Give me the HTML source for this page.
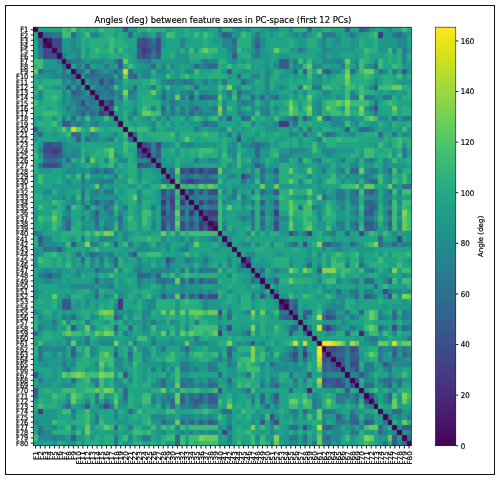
<!DOCTYPE html>
<html><head><meta charset="utf-8"><title>Angles (deg) between feature axes in PC-space (first 12 PCs)</title>
<style>
html,body{margin:0;padding:0;background:#fff;}
svg{display:block;font-family:"DejaVu Sans","Liberation Sans",sans-serif;}
.t{font-size:7.08px;fill:#000;stroke:#000;stroke-width:0.18px;}
.s{font-size:6.62px;}
.ti{font-size:8.45px;fill:#000;stroke:#000;stroke-width:0.15px;}
</style></head><body>
<svg width="500" height="480" viewBox="0 0 500 480">
<rect x="0" y="0" width="500" height="480" fill="#fff"/>
<rect x="5.5" y="5.5" width="489" height="469" fill="none" stroke="#111" stroke-width="1"/>
<text class="ti" transform="translate(222.9 22.6) scale(1 1.106)" text-anchor="middle">Angles (deg) between feature axes in PC-space (first 12 PCs)</text>
<rect x="33.25" y="27.15" width="378.15" height="418.60" fill="#1fa187"/>
<defs><clipPath id="hc"><rect x="33.25" y="27.15" width="378.15" height="418.60"/></clipPath><filter id="bl" x="-2%" y="-2%" width="104%" height="104%" color-interpolation-filters="sRGB"><feOffset in="SourceGraphic" dx="1" dy="0" result="a"/><feOffset in="SourceGraphic" dx="-1" dy="0" result="b"/><feComposite operator="arithmetic" in="a" in2="b" k1="0" k2="0.5" k3="0.5" k4="0" result="c"/><feComposite operator="arithmetic" in="SourceGraphic" in2="c" k1="0" k2="0.760" k3="0.240" k4="0" result="h"/><feOffset in="h" dx="0" dy="1" result="d"/><feOffset in="h" dx="0" dy="-1" result="e"/><feComposite operator="arithmetic" in="d" in2="e" k1="0" k2="0.5" k3="0.5" k4="0" result="f"/><feComposite operator="arithmetic" in="h" in2="f" k1="0" k2="0.760" k3="0.240" k4="0"/></filter></defs>
<g clip-path="url(#hc)"><g shape-rendering="crispEdges" filter="url(#bl)">
<path fill="#440154" d="M30.25 24.15H37.98V32.38H30.25zM37.98 32.38H42.7V37.61H37.98zM42.7 37.61H47.43V42.85H42.7zM47.43 42.85H52.16V48.08H47.43zM52.16 48.08H56.88V53.31H52.16zM56.88 53.31H61.61V58.55H56.88zM61.61 58.55H66.34V63.78H61.61zM66.34 63.78H71.06V69.01H66.34zM71.06 69.01H75.79V74.24H71.06zM75.79 74.24H80.52V79.47H75.79zM80.52 79.47H85.25V84.71H80.52zM85.25 84.71H89.97V89.94H85.25zM89.97 89.94H94.7V95.17H89.97zM94.7 95.17H99.43V100.41H94.7zM99.43 100.41H104.15V105.64H99.43zM104.15 105.64H108.88V110.87H104.15zM108.88 110.87H113.61V116.1H108.88zM113.61 116.1H118.33V121.34H113.61zM118.33 121.34H123.06V126.57H118.33zM123.06 126.57H127.79V131.8H123.06zM127.79 131.8H132.51V137.03H127.79zM132.51 137.03H137.24V142.26H132.51zM137.24 142.26H141.97V147.5H137.24zM141.97 147.5H146.69V152.73H141.97zM146.69 152.73H151.42V157.96H146.69zM151.42 157.96H156.15V163.19H151.42zM156.15 163.19H160.88V168.43H156.15zM160.88 168.43H165.6V173.66H160.88zM165.6 173.66H170.33V178.89H165.6zM170.33 178.89H175.06V184.12H170.33zM175.06 184.12H179.78V189.36H175.06zM179.78 189.36H184.51V194.59H179.78zM184.51 194.59H189.24V199.82H184.51zM189.24 199.82H193.96V205.06H189.24zM193.96 205.06H198.69V210.29H193.96zM198.69 210.29H203.42V215.52H198.69zM203.42 215.52H208.14V220.75H203.42zM208.14 220.75H212.87V225.99H208.14zM212.87 225.99H217.6V231.22H212.87zM217.6 231.22H222.32V236.45H217.6zM222.32 236.45H227.05V241.68H222.32zM227.05 241.68H231.78V246.91H227.05zM231.78 246.91H236.51V252.15H231.78zM236.51 252.15H241.23V257.38H236.51zM241.23 257.38H245.96V262.61H241.23zM245.96 262.61H250.69V267.84H245.96zM250.69 267.84H255.41V273.08H250.69zM255.41 273.08H260.14V278.31H255.41zM260.14 278.31H264.87V283.54H260.14zM264.87 283.54H269.59V288.77H264.87zM269.59 288.77H274.32V294.01H269.59zM274.32 294.01H279.05V299.24H274.32zM279.05 299.24H283.77V304.47H279.05zM283.77 304.47H288.5V309.7H283.77zM288.5 309.7H293.23V314.94H288.5zM293.23 314.94H297.95V320.17H293.23zM297.95 320.17H302.68V325.4H297.95zM302.68 325.4H307.41V330.63H302.68zM307.41 330.63H312.14V335.87H307.41zM312.14 335.87H316.86V341.1H312.14zM316.86 341.1H321.59V346.33H316.86zM321.59 346.33H326.32V351.56H321.59zM326.32 351.56H331.04V356.8H326.32zM331.04 356.8H335.77V362.03H331.04zM335.77 362.03H340.5V367.26H335.77zM340.5 367.26H345.22V372.49H340.5zM345.22 372.49H349.95V377.73H345.22zM349.95 377.73H354.68V382.96H349.95zM354.68 382.96H359.4V388.19H354.68zM359.4 388.19H364.13V393.42H359.4zM364.13 393.42H368.86V398.66H364.13zM368.86 398.66H373.58V403.89H368.86zM373.58 403.89H378.31V409.12H373.58zM378.31 409.12H383.04V414.35H378.31zM383.04 414.35H387.77V419.59H383.04zM387.77 419.59H392.49V424.82H387.77zM392.49 424.82H397.22V430.05H392.49zM397.22 430.05H401.95V435.28H397.22zM401.95 435.28H406.67V440.52H401.95zM406.67 440.52H414.4V448.75H406.67z"/>
<path fill="#20a486" d="M37.98 24.15H61.61V32.38H37.98zM75.79 24.15H80.52V32.38H75.79zM85.25 24.15H89.97V32.38H85.25zM94.7 24.15H99.43V32.38H94.7zM113.61 24.15H123.06V32.38H113.61zM170.33 24.15H184.51V32.38H170.33zM189.24 24.15H198.69V32.38H189.24zM208.14 24.15H217.6V32.38H208.14zM250.69 24.15H260.14V32.38H250.69zM279.05 24.15H288.5V32.38H279.05zM312.14 24.15H316.86V32.38H312.14zM331.04 24.15H345.22V32.38H331.04zM349.95 24.15H359.4V32.38H349.95zM373.58 24.15H383.04V32.38H373.58zM392.49 24.15H401.95V32.38H392.49zM406.67 24.15H414.4V32.38H406.67zM30.25 32.38H37.98V37.61H30.25zM80.52 32.38H85.25V37.61H80.52zM99.43 32.38H104.15V37.61H99.43zM123.06 32.38H127.79V37.61H123.06zM132.51 32.38H137.24V37.61H132.51zM151.42 32.38H156.15V37.61H151.42zM175.06 32.38H184.51V37.61H175.06zM189.24 32.38H193.96V37.61H189.24zM198.69 32.38H203.42V37.61H198.69zM212.87 32.38H217.6V37.61H212.87zM264.87 32.38H269.59V37.61H264.87zM274.32 32.38H279.05V37.61H274.32zM283.77 32.38H288.5V37.61H283.77zM312.14 32.38H316.86V37.61H312.14zM340.5 32.38H345.22V37.61H340.5zM359.4 32.38H368.86V37.61H359.4zM30.25 37.61H37.98V42.85H30.25zM85.25 37.61H89.97V42.85H85.25zM123.06 37.61H137.24V42.85H123.06zM165.6 37.61H179.78V42.85H165.6zM189.24 37.61H203.42V42.85H189.24zM208.14 37.61H212.87V42.85H208.14zM217.6 37.61H222.32V42.85H217.6zM264.87 37.61H288.5V42.85H264.87zM293.23 37.61H297.95V42.85H293.23zM326.32 37.61H331.04V42.85H326.32zM340.5 37.61H349.95V42.85H340.5zM364.13 37.61H373.58V42.85H364.13zM406.67 37.61H414.4V42.85H406.67zM30.25 42.85H37.98V48.08H30.25zM85.25 42.85H89.97V48.08H85.25zM104.15 42.85H108.88V48.08H104.15zM127.79 42.85H137.24V48.08H127.79zM165.6 42.85H179.78V48.08H165.6zM184.51 42.85H203.42V48.08H184.51zM208.14 42.85H222.32V48.08H208.14zM264.87 42.85H288.5V48.08H264.87zM293.23 42.85H297.95V48.08H293.23zM326.32 42.85H331.04V48.08H326.32zM340.5 42.85H349.95V48.08H340.5zM364.13 42.85H373.58V48.08H364.13zM406.67 42.85H414.4V48.08H406.67zM30.25 48.08H37.98V53.31H30.25zM123.06 48.08H127.79V53.31H123.06zM132.51 48.08H137.24V53.31H132.51zM160.88 48.08H175.06V53.31H160.88zM217.6 48.08H227.05V53.31H217.6zM241.23 48.08H250.69V53.31H241.23zM264.87 48.08H274.32V53.31H264.87zM307.41 48.08H321.59V53.31H307.41zM354.68 48.08H364.13V53.31H354.68zM30.25 53.31H37.98V58.55H30.25zM99.43 53.31H108.88V58.55H99.43zM118.33 53.31H123.06V58.55H118.33zM127.79 53.31H132.51V58.55H127.79zM160.88 53.31H170.33V58.55H160.88zM212.87 53.31H227.05V58.55H212.87zM236.51 53.31H241.23V58.55H236.51zM269.59 53.31H279.05V58.55H269.59zM288.5 53.31H316.86V58.55H288.5zM326.32 53.31H331.04V58.55H326.32zM340.5 53.31H354.68V58.55H340.5zM359.4 53.31H364.13V58.55H359.4zM368.86 53.31H387.77V58.55H368.86zM392.49 53.31H397.22V58.55H392.49zM127.79 58.55H132.51V63.78H127.79zM189.24 58.55H198.69V63.78H189.24zM236.51 58.55H241.23V63.78H236.51zM245.96 58.55H250.69V63.78H245.96zM255.41 58.55H264.87V63.78H255.41zM269.59 58.55H274.32V63.78H269.59zM316.86 58.55H321.59V63.78H316.86zM368.86 58.55H373.58V63.78H368.86zM383.04 58.55H387.77V63.78H383.04zM392.49 58.55H397.22V63.78H392.49zM406.67 58.55H414.4V63.78H406.67zM71.06 63.78H75.79V69.01H71.06zM89.97 63.78H94.7V69.01H89.97zM113.61 63.78H118.33V69.01H113.61zM123.06 63.78H127.79V69.01H123.06zM132.51 63.78H137.24V69.01H132.51zM156.15 63.78H160.88V69.01H156.15zM179.78 63.78H189.24V69.01H179.78zM222.32 63.78H227.05V69.01H222.32zM231.78 63.78H236.51V69.01H231.78zM255.41 63.78H260.14V69.01H255.41zM269.59 63.78H274.32V69.01H269.59zM288.5 63.78H293.23V69.01H288.5zM321.59 63.78H331.04V69.01H321.59zM349.95 63.78H354.68V69.01H349.95zM383.04 63.78H392.49V69.01H383.04zM66.34 69.01H71.06V74.24H66.34zM85.25 69.01H89.97V74.24H85.25zM170.33 69.01H175.06V74.24H170.33zM179.78 69.01H184.51V74.24H179.78zM198.69 69.01H212.87V74.24H198.69zM231.78 69.01H236.51V74.24H231.78zM250.69 69.01H255.41V74.24H250.69zM260.14 69.01H264.87V74.24H260.14zM279.05 69.01H283.77V74.24H279.05zM312.14 69.01H316.86V74.24H312.14zM340.5 69.01H345.22V74.24H340.5zM373.58 69.01H378.31V74.24H373.58zM30.25 74.24H37.98V79.47H30.25zM113.61 74.24H118.33V79.47H113.61zM151.42 74.24H156.15V79.47H151.42zM170.33 74.24H175.06V79.47H170.33zM189.24 74.24H193.96V79.47H189.24zM198.69 74.24H208.14V79.47H198.69zM231.78 74.24H236.51V79.47H231.78zM241.23 74.24H250.69V79.47H241.23zM260.14 74.24H264.87V79.47H260.14zM269.59 74.24H274.32V79.47H269.59zM288.5 74.24H293.23V79.47H288.5zM297.95 74.24H302.68V79.47H297.95zM331.04 74.24H335.77V79.47H331.04zM349.95 74.24H354.68V79.47H349.95zM378.31 74.24H383.04V79.47H378.31zM392.49 74.24H397.22V79.47H392.49zM37.98 79.47H42.7V84.71H37.98zM127.79 79.47H141.97V84.71H127.79zM156.15 79.47H160.88V84.71H156.15zM217.6 79.47H222.32V84.71H217.6zM227.05 79.47H241.23V84.71H227.05zM260.14 79.47H264.87V84.71H260.14zM274.32 79.47H288.5V84.71H274.32zM293.23 79.47H297.95V84.71H293.23zM302.68 79.47H307.41V84.71H302.68zM321.59 79.47H331.04V84.71H321.59zM368.86 79.47H373.58V84.71H368.86zM378.31 79.47H383.04V84.71H378.31zM392.49 79.47H397.22V84.71H392.49zM30.25 84.71H37.98V89.94H30.25zM42.7 84.71H52.16V89.94H42.7zM71.06 84.71H75.79V89.94H71.06zM123.06 84.71H127.79V89.94H123.06zM137.24 84.71H146.69V89.94H137.24zM179.78 84.71H184.51V89.94H179.78zM189.24 84.71H193.96V89.94H189.24zM198.69 84.71H208.14V89.94H198.69zM255.41 84.71H264.87V89.94H255.41zM364.13 84.71H368.86V89.94H364.13zM66.34 89.94H71.06V95.17H66.34zM137.24 89.94H146.69V95.17H137.24zM156.15 89.94H160.88V95.17H156.15zM175.06 89.94H179.78V95.17H175.06zM255.41 89.94H260.14V95.17H255.41zM279.05 89.94H293.23V95.17H279.05zM297.95 89.94H302.68V95.17H297.95zM316.86 89.94H321.59V95.17H316.86zM331.04 89.94H345.22V95.17H331.04zM354.68 89.94H359.4V95.17H354.68zM373.58 89.94H378.31V95.17H373.58zM383.04 89.94H387.77V95.17H383.04zM397.22 89.94H401.95V95.17H397.22zM30.25 95.17H37.98V100.41H30.25zM137.24 95.17H141.97V100.41H137.24zM151.42 95.17H156.15V100.41H151.42zM222.32 95.17H227.05V100.41H222.32zM241.23 95.17H250.69V100.41H241.23zM302.68 95.17H307.41V100.41H302.68zM312.14 95.17H316.86V100.41H312.14zM331.04 95.17H335.77V100.41H331.04zM37.98 100.41H42.7V105.64H37.98zM56.88 100.41H61.61V105.64H56.88zM127.79 100.41H132.51V105.64H127.79zM137.24 100.41H141.97V105.64H137.24zM208.14 100.41H212.87V105.64H208.14zM227.05 100.41H236.51V105.64H227.05zM274.32 100.41H283.77V105.64H274.32zM297.95 100.41H302.68V105.64H297.95zM368.86 100.41H373.58V105.64H368.86zM378.31 100.41H383.04V105.64H378.31zM397.22 100.41H414.4V105.64H397.22zM47.43 105.64H52.16V110.87H47.43zM56.88 105.64H61.61V110.87H56.88zM123.06 105.64H132.51V110.87H123.06zM137.24 105.64H141.97V110.87H137.24zM165.6 105.64H170.33V110.87H165.6zM175.06 105.64H179.78V110.87H175.06zM231.78 105.64H236.51V110.87H231.78zM241.23 105.64H245.96V110.87H241.23zM255.41 105.64H260.14V110.87H255.41zM269.59 105.64H274.32V110.87H269.59zM279.05 105.64H288.5V110.87H279.05zM349.95 105.64H359.4V110.87H349.95zM378.31 105.64H392.49V110.87H378.31zM397.22 105.64H401.95V110.87H397.22zM137.24 110.87H141.97V116.1H137.24zM227.05 110.87H236.51V116.1H227.05zM269.59 110.87H274.32V116.1H269.59zM364.13 110.87H368.86V116.1H364.13zM378.31 110.87H392.49V116.1H378.31zM397.22 110.87H401.95V116.1H397.22zM30.25 116.1H37.98V121.34H30.25zM66.34 116.1H71.06V121.34H66.34zM75.79 116.1H80.52V121.34H75.79zM137.24 116.1H141.97V121.34H137.24zM160.88 116.1H165.6V121.34H160.88zM170.33 116.1H179.78V121.34H170.33zM189.24 116.1H193.96V121.34H189.24zM231.78 116.1H241.23V121.34H231.78zM255.41 116.1H260.14V121.34H255.41zM264.87 116.1H269.59V121.34H264.87zM297.95 116.1H302.68V121.34H297.95zM312.14 116.1H316.86V121.34H312.14zM387.77 116.1H392.49V121.34H387.77zM30.25 121.34H37.98V126.57H30.25zM56.88 121.34H61.61V126.57H56.88zM127.79 121.34H132.51V126.57H127.79zM137.24 121.34H146.69V126.57H137.24zM175.06 121.34H179.78V126.57H175.06zM184.51 121.34H189.24V126.57H184.51zM217.6 121.34H236.51V126.57H217.6zM255.41 121.34H260.14V126.57H255.41zM302.68 121.34H307.41V126.57H302.68zM312.14 121.34H331.04V126.57H312.14zM364.13 121.34H368.86V126.57H364.13zM383.04 121.34H387.77V126.57H383.04zM397.22 121.34H406.67V126.57H397.22zM37.98 126.57H47.43V131.8H37.98zM52.16 126.57H56.88V131.8H52.16zM66.34 126.57H71.06V131.8H66.34zM85.25 126.57H89.97V131.8H85.25zM104.15 126.57H108.88V131.8H104.15zM156.15 126.57H165.6V131.8H156.15zM175.06 126.57H193.96V131.8H175.06zM203.42 126.57H208.14V131.8H203.42zM236.51 126.57H241.23V131.8H236.51zM245.96 126.57H250.69V131.8H245.96zM255.41 126.57H264.87V131.8H255.41zM279.05 126.57H288.5V131.8H279.05zM312.14 126.57H316.86V131.8H312.14zM331.04 126.57H340.5V131.8H331.04zM378.31 126.57H383.04V131.8H378.31zM392.49 126.57H397.22V131.8H392.49zM42.7 131.8H52.16V137.03H42.7zM56.88 131.8H66.34V137.03H56.88zM80.52 131.8H85.25V137.03H80.52zM99.43 131.8H108.88V137.03H99.43zM118.33 131.8H123.06V137.03H118.33zM141.97 131.8H146.69V137.03H141.97zM222.32 131.8H227.05V137.03H222.32zM231.78 131.8H236.51V137.03H231.78zM241.23 131.8H255.41V137.03H241.23zM264.87 131.8H274.32V137.03H264.87zM279.05 131.8H288.5V137.03H279.05zM297.95 131.8H302.68V137.03H297.95zM340.5 131.8H345.22V137.03H340.5zM354.68 131.8H364.13V137.03H354.68zM383.04 131.8H392.49V137.03H383.04zM397.22 131.8H401.95V137.03H397.22zM37.98 137.03H56.88V142.26H37.98zM66.34 137.03H71.06V142.26H66.34zM80.52 137.03H85.25V142.26H80.52zM141.97 137.03H156.15V142.26H141.97zM193.96 137.03H208.14V142.26H193.96zM217.6 137.03H222.32V142.26H217.6zM227.05 137.03H231.78V142.26H227.05zM241.23 137.03H245.96V142.26H241.23zM255.41 137.03H269.59V142.26H255.41zM274.32 137.03H279.05V142.26H274.32zM283.77 137.03H293.23V142.26H283.77zM307.41 137.03H312.14V142.26H307.41zM359.4 137.03H378.31V142.26H359.4zM387.77 137.03H392.49V142.26H387.77zM80.52 142.26H123.06V147.5H80.52zM217.6 142.26H222.32V147.5H217.6zM269.59 142.26H274.32V147.5H269.59zM288.5 142.26H293.23V147.5H288.5zM302.68 142.26H312.14V147.5H302.68zM335.77 142.26H373.58V147.5H335.77zM383.04 142.26H387.77V147.5H383.04zM85.25 147.5H94.7V152.73H85.25zM118.33 147.5H123.06V152.73H118.33zM127.79 147.5H137.24V152.73H127.79zM160.88 147.5H170.33V152.73H160.88zM184.51 147.5H189.24V152.73H184.51zM241.23 147.5H245.96V152.73H241.23zM316.86 147.5H321.59V152.73H316.86zM359.4 147.5H364.13V152.73H359.4zM378.31 147.5H383.04V152.73H378.31zM406.67 147.5H414.4V152.73H406.67zM132.51 152.73H137.24V157.96H132.51zM160.88 152.73H175.06V157.96H160.88zM184.51 152.73H189.24V157.96H184.51zM193.96 152.73H198.69V157.96H193.96zM312.14 152.73H321.59V157.96H312.14zM340.5 152.73H349.95V157.96H340.5zM373.58 152.73H378.31V157.96H373.58zM406.67 152.73H414.4V157.96H406.67zM37.98 157.96H42.7V163.19H37.98zM75.79 157.96H80.52V163.19H75.79zM94.7 157.96H99.43V163.19H94.7zM132.51 157.96H137.24V163.19H132.51zM165.6 157.96H170.33V163.19H165.6zM179.78 157.96H193.96V163.19H179.78zM217.6 157.96H222.32V163.19H217.6zM241.23 157.96H245.96V163.19H241.23zM269.59 157.96H274.32V163.19H269.59zM293.23 157.96H297.95V163.19H293.23zM331.04 157.96H335.77V163.19H331.04zM345.22 157.96H354.68V163.19H345.22zM397.22 157.96H406.67V163.19H397.22zM66.34 163.19H71.06V168.43H66.34zM80.52 163.19H85.25V168.43H80.52zM89.97 163.19H94.7V168.43H89.97zM123.06 163.19H127.79V168.43H123.06zM193.96 163.19H222.32V168.43H193.96zM264.87 163.19H269.59V168.43H264.87zM288.5 163.19H297.95V168.43H288.5zM307.41 163.19H316.86V168.43H307.41zM340.5 163.19H349.95V168.43H340.5zM378.31 163.19H383.04V168.43H378.31zM406.67 163.19H414.4V168.43H406.67zM52.16 168.43H61.61V173.66H52.16zM113.61 168.43H118.33V173.66H113.61zM123.06 168.43H127.79V173.66H123.06zM141.97 168.43H151.42V173.66H141.97zM231.78 168.43H241.23V173.66H231.78zM245.96 168.43H250.69V173.66H245.96zM293.23 168.43H297.95V173.66H293.23zM302.68 168.43H307.41V173.66H302.68zM312.14 168.43H316.86V173.66H312.14zM326.32 168.43H335.77V173.66H326.32zM378.31 168.43H383.04V173.66H378.31zM42.7 173.66H61.61V178.89H42.7zM104.15 173.66H108.88V178.89H104.15zM141.97 173.66H156.15V178.89H141.97zM217.6 173.66H227.05V178.89H217.6zM236.51 173.66H241.23V178.89H236.51zM255.41 173.66H260.14V178.89H255.41zM264.87 173.66H269.59V178.89H264.87zM288.5 173.66H293.23V178.89H288.5zM302.68 173.66H307.41V178.89H302.68zM312.14 173.66H316.86V178.89H312.14zM321.59 173.66H331.04V178.89H321.59zM340.5 173.66H345.22V178.89H340.5zM373.58 173.66H378.31V178.89H373.58zM397.22 173.66H401.95V178.89H397.22zM30.25 178.89H37.98V184.12H30.25zM42.7 178.89H56.88V184.12H42.7zM71.06 178.89H80.52V184.12H71.06zM113.61 178.89H118.33V184.12H113.61zM146.69 178.89H151.42V184.12H146.69zM227.05 178.89H241.23V184.12H227.05zM321.59 178.89H326.32V184.12H321.59zM335.77 178.89H340.5V184.12H335.77zM345.22 178.89H349.95V184.12H345.22zM397.22 178.89H401.95V184.12H397.22zM406.67 178.89H414.4V184.12H406.67zM30.25 184.12H52.16V189.36H30.25zM89.97 184.12H94.7V189.36H89.97zM104.15 184.12H108.88V189.36H104.15zM113.61 184.12H127.79V189.36H113.61zM227.05 184.12H231.78V189.36H227.05zM250.69 184.12H255.41V189.36H250.69zM293.23 184.12H297.95V189.36H293.23zM312.14 184.12H316.86V189.36H312.14zM321.59 184.12H340.5V189.36H321.59zM373.58 184.12H387.77V189.36H373.58zM30.25 189.36H42.7V194.59H30.25zM66.34 189.36H75.79V194.59H66.34zM85.25 189.36H89.97V194.59H85.25zM123.06 189.36H127.79V194.59H123.06zM151.42 189.36H156.15V194.59H151.42zM227.05 189.36H231.78V194.59H227.05zM236.51 189.36H241.23V194.59H236.51zM245.96 189.36H250.69V194.59H245.96zM312.14 189.36H316.86V194.59H312.14zM326.32 189.36H331.04V194.59H326.32zM378.31 189.36H383.04V194.59H378.31zM47.43 194.59H52.16V199.82H47.43zM66.34 194.59H71.06V199.82H66.34zM118.33 194.59H127.79V199.82H118.33zM141.97 194.59H156.15V199.82H141.97zM222.32 194.59H227.05V199.82H222.32zM288.5 194.59H293.23V199.82H288.5zM378.31 194.59H383.04V199.82H378.31zM392.49 194.59H397.22V199.82H392.49zM401.95 194.59H406.67V199.82H401.95zM30.25 199.82H52.16V205.06H30.25zM61.61 199.82H66.34V205.06H61.61zM75.79 199.82H80.52V205.06H75.79zM85.25 199.82H89.97V205.06H85.25zM113.61 199.82H118.33V205.06H113.61zM123.06 199.82H127.79V205.06H123.06zM151.42 199.82H156.15V205.06H151.42zM231.78 199.82H241.23V205.06H231.78zM312.14 199.82H316.86V205.06H312.14zM331.04 199.82H335.77V205.06H331.04zM345.22 199.82H349.95V205.06H345.22zM378.31 199.82H383.04V205.06H378.31zM30.25 205.06H37.98V210.29H30.25zM42.7 205.06H52.16V210.29H42.7zM61.61 205.06H66.34V210.29H61.61zM132.51 205.06H137.24V210.29H132.51zM146.69 205.06H151.42V210.29H146.69zM156.15 205.06H160.88V210.29H156.15zM222.32 205.06H227.05V210.29H222.32zM231.78 205.06H236.51V210.29H231.78zM321.59 205.06H326.32V210.29H321.59zM331.04 205.06H335.77V210.29H331.04zM345.22 205.06H349.95V210.29H345.22zM37.98 210.29H52.16V215.52H37.98zM71.06 210.29H80.52V215.52H71.06zM85.25 210.29H89.97V215.52H85.25zM132.51 210.29H137.24V215.52H132.51zM156.15 210.29H160.88V215.52H156.15zM227.05 210.29H236.51V215.52H227.05zM279.05 210.29H288.5V215.52H279.05zM312.14 210.29H316.86V215.52H312.14zM321.59 210.29H326.32V215.52H321.59zM345.22 210.29H349.95V215.52H345.22zM71.06 215.52H80.52V220.75H71.06zM85.25 215.52H89.97V220.75H85.25zM123.06 215.52H127.79V220.75H123.06zM132.51 215.52H137.24V220.75H132.51zM156.15 215.52H160.88V220.75H156.15zM227.05 215.52H236.51V220.75H227.05zM264.87 215.52H269.59V220.75H264.87zM293.23 215.52H297.95V220.75H293.23zM345.22 215.52H349.95V220.75H345.22zM359.4 215.52H364.13V220.75H359.4zM30.25 220.75H37.98V225.99H30.25zM42.7 220.75H52.16V225.99H42.7zM71.06 220.75H75.79V225.99H71.06zM99.43 220.75H104.15V225.99H99.43zM156.15 220.75H160.88V225.99H156.15zM227.05 220.75H241.23V225.99H227.05zM245.96 220.75H250.69V225.99H245.96zM264.87 220.75H269.59V225.99H264.87zM293.23 220.75H302.68V225.99H293.23zM312.14 220.75H316.86V225.99H312.14zM331.04 220.75H335.77V225.99H331.04zM345.22 220.75H349.95V225.99H345.22zM30.25 225.99H42.7V231.22H30.25zM47.43 225.99H52.16V231.22H47.43zM56.88 225.99H61.61V231.22H56.88zM156.15 225.99H160.88V231.22H156.15zM236.51 225.99H245.96V231.22H236.51zM293.23 225.99H302.68V231.22H293.23zM312.14 225.99H316.86V231.22H312.14zM345.22 225.99H349.95V231.22H345.22zM378.31 225.99H383.04V231.22H378.31zM42.7 231.22H61.61V236.45H42.7zM80.52 231.22H85.25V236.45H80.52zM118.33 231.22H123.06V236.45H118.33zM132.51 231.22H141.97V236.45H132.51zM151.42 231.22H160.88V236.45H151.42zM165.6 231.22H170.33V236.45H165.6zM222.32 231.22H227.05V236.45H222.32zM236.51 231.22H245.96V236.45H236.51zM312.14 231.22H316.86V236.45H312.14zM335.77 231.22H345.22V236.45H335.77zM349.95 231.22H359.4V236.45H349.95zM387.77 231.22H392.49V236.45H387.77zM397.22 231.22H401.95V236.45H397.22zM52.16 236.45H61.61V241.68H52.16zM66.34 236.45H71.06V241.68H66.34zM94.7 236.45H99.43V241.68H94.7zM118.33 236.45H123.06V241.68H118.33zM127.79 236.45H132.51V241.68H127.79zM165.6 236.45H170.33V241.68H165.6zM184.51 236.45H189.24V241.68H184.51zM193.96 236.45H198.69V241.68H193.96zM217.6 236.45H222.32V241.68H217.6zM231.78 236.45H245.96V241.68H231.78zM255.41 236.45H274.32V241.68H255.41zM279.05 236.45H288.5V241.68H279.05zM293.23 236.45H302.68V241.68H293.23zM307.41 236.45H316.86V241.68H307.41zM321.59 236.45H326.32V241.68H321.59zM335.77 236.45H349.95V241.68H335.77zM354.68 236.45H378.31V241.68H354.68zM383.04 236.45H392.49V241.68H383.04zM401.95 236.45H406.67V241.68H401.95zM80.52 241.68H85.25V246.91H80.52zM99.43 241.68H104.15V246.91H99.43zM108.88 241.68H113.61V246.91H108.88zM118.33 241.68H123.06V246.91H118.33zM132.51 241.68H137.24V246.91H132.51zM170.33 241.68H184.51V246.91H170.33zM198.69 241.68H212.87V246.91H198.69zM231.78 241.68H236.51V246.91H231.78zM260.14 241.68H264.87V246.91H260.14zM297.95 241.68H302.68V246.91H297.95zM66.34 246.91H85.25V252.15H66.34zM99.43 246.91H123.06V252.15H99.43zM127.79 246.91H132.51V252.15H127.79zM160.88 246.91H165.6V252.15H160.88zM170.33 246.91H175.06V252.15H170.33zM189.24 246.91H212.87V252.15H189.24zM222.32 246.91H231.78V252.15H222.32zM236.51 246.91H255.41V252.15H236.51zM264.87 246.91H293.23V252.15H264.87zM297.95 246.91H307.41V252.15H297.95zM312.14 246.91H321.59V252.15H312.14zM326.32 246.91H331.04V252.15H326.32zM349.95 246.91H354.68V252.15H349.95zM373.58 246.91H414.4V252.15H373.58zM56.88 252.15H66.34V257.38H56.88zM80.52 252.15H85.25V257.38H80.52zM113.61 252.15H118.33V257.38H113.61zM123.06 252.15H127.79V257.38H123.06zM160.88 252.15H175.06V257.38H160.88zM179.78 252.15H184.51V257.38H179.78zM189.24 252.15H193.96V257.38H189.24zM208.14 252.15H227.05V257.38H208.14zM231.78 252.15H236.51V257.38H231.78zM241.23 252.15H245.96V257.38H241.23zM255.41 252.15H274.32V257.38H255.41zM283.77 252.15H307.41V257.38H283.77zM326.32 252.15H331.04V257.38H326.32zM345.22 252.15H349.95V257.38H345.22zM364.13 252.15H373.58V257.38H364.13zM52.16 257.38H56.88V262.61H52.16zM75.79 257.38H80.52V262.61H75.79zM94.7 257.38H99.43V262.61H94.7zM104.15 257.38H108.88V262.61H104.15zM127.79 257.38H137.24V262.61H127.79zM141.97 257.38H146.69V262.61H141.97zM151.42 257.38H156.15V262.61H151.42zM212.87 257.38H227.05V262.61H212.87zM231.78 257.38H241.23V262.61H231.78zM255.41 257.38H260.14V262.61H255.41zM264.87 257.38H274.32V262.61H264.87zM293.23 257.38H302.68V262.61H293.23zM312.14 257.38H316.86V262.61H312.14zM364.13 257.38H378.31V262.61H364.13zM383.04 257.38H397.22V262.61H383.04zM401.95 257.38H406.67V262.61H401.95zM52.16 262.61H56.88V267.84H52.16zM61.61 262.61H66.34V267.84H61.61zM75.79 262.61H80.52V267.84H75.79zM94.7 262.61H99.43V267.84H94.7zM123.06 262.61H132.51V267.84H123.06zM160.88 262.61H165.6V267.84H160.88zM179.78 262.61H184.51V267.84H179.78zM208.14 262.61H212.87V267.84H208.14zM231.78 262.61H236.51V267.84H231.78zM269.59 262.61H274.32V267.84H269.59zM293.23 262.61H302.68V267.84H293.23zM312.14 262.61H316.86V267.84H312.14zM387.77 262.61H397.22V267.84H387.77zM401.95 262.61H414.4V267.84H401.95zM30.25 267.84H37.98V273.08H30.25zM71.06 267.84H75.79V273.08H71.06zM127.79 267.84H132.51V273.08H127.79zM175.06 267.84H179.78V273.08H175.06zM231.78 267.84H236.51V273.08H231.78zM297.95 267.84H302.68V273.08H297.95zM312.14 267.84H316.86V273.08H312.14zM354.68 267.84H359.4V273.08H354.68zM397.22 267.84H401.95V273.08H397.22zM30.25 273.08H37.98V278.31H30.25zM61.61 273.08H71.06V278.31H61.61zM85.25 273.08H94.7V278.31H85.25zM104.15 273.08H108.88V278.31H104.15zM113.61 273.08H127.79V278.31H113.61zM132.51 273.08H137.24V278.31H132.51zM165.6 273.08H170.33V278.31H165.6zM222.32 273.08H227.05V278.31H222.32zM236.51 273.08H245.96V278.31H236.51zM264.87 273.08H269.59V278.31H264.87zM274.32 273.08H288.5V278.31H274.32zM293.23 273.08H302.68V278.31H293.23zM312.14 273.08H316.86V278.31H312.14zM326.32 273.08H331.04V278.31H326.32zM335.77 273.08H340.5V278.31H335.77zM345.22 273.08H354.68V278.31H345.22zM364.13 273.08H368.86V278.31H364.13zM387.77 273.08H401.95V278.31H387.77zM61.61 278.31H66.34V283.54H61.61zM71.06 278.31H89.97V283.54H71.06zM123.06 278.31H127.79V283.54H123.06zM132.51 278.31H137.24V283.54H132.51zM222.32 278.31H231.78V283.54H222.32zM236.51 278.31H241.23V283.54H236.51zM312.14 278.31H316.86V283.54H312.14zM359.4 278.31H364.13V283.54H359.4zM378.31 278.31H383.04V283.54H378.31zM37.98 283.54H56.88V288.77H37.98zM113.61 283.54H118.33V288.77H113.61zM127.79 283.54H137.24V288.77H127.79zM156.15 283.54H160.88V288.77H156.15zM165.6 283.54H170.33V288.77H165.6zM203.42 283.54H212.87V288.77H203.42zM222.32 283.54H227.05V288.77H222.32zM231.78 283.54H245.96V288.77H231.78zM255.41 283.54H260.14V288.77H255.41zM279.05 283.54H288.5V288.77H279.05zM293.23 283.54H302.68V288.77H293.23zM307.41 283.54H312.14V288.77H307.41zM316.86 283.54H321.59V288.77H316.86zM326.32 283.54H331.04V288.77H326.32zM335.77 283.54H354.68V288.77H335.77zM359.4 283.54H373.58V288.77H359.4zM378.31 283.54H383.04V288.77H378.31zM387.77 283.54H401.95V288.77H387.77zM42.7 288.77H71.06V294.01H42.7zM75.79 288.77H80.52V294.01H75.79zM104.15 288.77H113.61V294.01H104.15zM127.79 288.77H132.51V294.01H127.79zM137.24 288.77H141.97V294.01H137.24zM151.42 288.77H156.15V294.01H151.42zM222.32 288.77H227.05V294.01H222.32zM231.78 288.77H250.69V294.01H231.78zM279.05 288.77H293.23V294.01H279.05zM297.95 288.77H302.68V294.01H297.95zM307.41 288.77H316.86V294.01H307.41zM359.4 288.77H364.13V294.01H359.4zM373.58 288.77H378.31V294.01H373.58zM37.98 294.01H52.16V299.24H37.98zM56.88 294.01H61.61V299.24H56.88zM80.52 294.01H85.25V299.24H80.52zM99.43 294.01H104.15V299.24H99.43zM132.51 294.01H137.24V299.24H132.51zM231.78 294.01H236.51V299.24H231.78zM255.41 294.01H260.14V299.24H255.41zM293.23 294.01H302.68V299.24H293.23zM312.14 294.01H316.86V299.24H312.14zM321.59 294.01H326.32V299.24H321.59zM331.04 294.01H335.77V299.24H331.04zM359.4 294.01H364.13V299.24H359.4zM378.31 294.01H383.04V299.24H378.31zM30.25 299.24H37.98V304.47H30.25zM42.7 299.24H52.16V304.47H42.7zM71.06 299.24H75.79V304.47H71.06zM80.52 299.24H85.25V304.47H80.52zM89.97 299.24H94.7V304.47H89.97zM99.43 299.24H108.88V304.47H99.43zM123.06 299.24H132.51V304.47H123.06zM198.69 299.24H203.42V304.47H198.69zM222.32 299.24H227.05V304.47H222.32zM231.78 299.24H236.51V304.47H231.78zM255.41 299.24H260.14V304.47H255.41zM264.87 299.24H274.32V304.47H264.87zM297.95 299.24H326.32V304.47H297.95zM359.4 299.24H378.31V304.47H359.4zM383.04 299.24H401.95V304.47H383.04zM406.67 299.24H414.4V304.47H406.67zM30.25 304.47H52.16V309.7H30.25zM80.52 304.47H85.25V309.7H80.52zM89.97 304.47H94.7V309.7H89.97zM104.15 304.47H108.88V309.7H104.15zM123.06 304.47H137.24V309.7H123.06zM198.69 304.47H203.42V309.7H198.69zM222.32 304.47H227.05V309.7H222.32zM231.78 304.47H241.23V309.7H231.78zM255.41 304.47H260.14V309.7H255.41zM264.87 304.47H274.32V309.7H264.87zM297.95 304.47H302.68V309.7H297.95zM307.41 304.47H316.86V309.7H307.41zM349.95 304.47H354.68V309.7H349.95zM359.4 304.47H383.04V309.7H359.4zM387.77 304.47H392.49V309.7H387.77zM56.88 309.7H61.61V314.94H56.88zM66.34 309.7H71.06V314.94H66.34zM75.79 309.7H80.52V314.94H75.79zM89.97 309.7H94.7V314.94H89.97zM132.51 309.7H141.97V314.94H132.51zM156.15 309.7H160.88V314.94H156.15zM165.6 309.7H170.33V314.94H165.6zM184.51 309.7H189.24V314.94H184.51zM231.78 309.7H241.23V314.94H231.78zM269.59 309.7H274.32V314.94H269.59zM297.95 309.7H302.68V314.94H297.95zM312.14 309.7H316.86V314.94H312.14zM349.95 309.7H359.4V314.94H349.95zM383.04 309.7H387.77V314.94H383.04zM42.7 314.94H52.16V320.17H42.7zM56.88 314.94H61.61V320.17H56.88zM80.52 314.94H85.25V320.17H80.52zM151.42 314.94H165.6V320.17H151.42zM175.06 314.94H179.78V320.17H175.06zM203.42 314.94H217.6V320.17H203.42zM222.32 314.94H227.05V320.17H222.32zM236.51 314.94H250.69V320.17H236.51zM255.41 314.94H260.14V320.17H255.41zM264.87 314.94H269.59V320.17H264.87zM274.32 314.94H279.05V320.17H274.32zM345.22 314.94H349.95V320.17H345.22zM359.4 314.94H364.13V320.17H359.4zM56.88 320.17H61.61V325.4H56.88zM75.79 320.17H80.52V325.4H75.79zM89.97 320.17H94.7V325.4H89.97zM99.43 320.17H104.15V325.4H99.43zM113.61 320.17H118.33V325.4H113.61zM127.79 320.17H132.51V325.4H127.79zM208.14 320.17H217.6V325.4H208.14zM222.32 320.17H260.14V325.4H222.32zM264.87 320.17H293.23V325.4H264.87zM307.41 320.17H321.59V325.4H307.41zM335.77 320.17H340.5V325.4H335.77zM349.95 320.17H364.13V325.4H349.95zM373.58 320.17H392.49V325.4H373.58zM56.88 325.4H61.61V330.63H56.88zM80.52 325.4H85.25V330.63H80.52zM94.7 325.4H99.43V330.63H94.7zM118.33 325.4H123.06V330.63H118.33zM137.24 325.4H141.97V330.63H137.24zM160.88 325.4H170.33V330.63H160.88zM231.78 325.4H241.23V330.63H231.78zM279.05 325.4H283.77V330.63H279.05zM312.14 325.4H316.86V330.63H312.14zM387.77 325.4H392.49V330.63H387.77zM52.16 330.63H61.61V335.87H52.16zM132.51 330.63H141.97V335.87H132.51zM156.15 330.63H160.88V335.87H156.15zM222.32 330.63H227.05V335.87H222.32zM264.87 330.63H274.32V335.87H264.87zM279.05 330.63H288.5V335.87H279.05zM297.95 330.63H302.68V335.87H297.95zM312.14 330.63H326.32V335.87H312.14zM387.77 330.63H392.49V335.87H387.77zM401.95 330.63H414.4V335.87H401.95zM30.25 335.87H42.7V341.1H30.25zM52.16 335.87H61.61V341.1H52.16zM71.06 335.87H75.79V341.1H71.06zM94.7 335.87H99.43V341.1H94.7zM113.61 335.87H127.79V341.1H113.61zM146.69 335.87H151.42V341.1H146.69zM156.15 335.87H170.33V341.1H156.15zM175.06 335.87H184.51V341.1H175.06zM189.24 335.87H193.96V341.1H189.24zM198.69 335.87H203.42V341.1H198.69zM208.14 335.87H227.05V341.1H208.14zM231.78 335.87H236.51V341.1H231.78zM241.23 335.87H264.87V341.1H241.23zM269.59 335.87H293.23V341.1H269.59zM297.95 335.87H312.14V341.1H297.95zM316.86 335.87H354.68V341.1H316.86zM359.4 335.87H364.13V341.1H359.4zM392.49 335.87H401.95V341.1H392.49zM52.16 341.1H56.88V346.33H52.16zM61.61 341.1H66.34V346.33H61.61zM89.97 341.1H94.7V346.33H89.97zM118.33 341.1H123.06V346.33H118.33zM141.97 341.1H151.42V346.33H141.97zM231.78 341.1H236.51V346.33H231.78zM264.87 341.1H269.59V346.33H264.87zM279.05 341.1H283.77V346.33H279.05zM297.95 341.1H302.68V346.33H297.95zM307.41 341.1H316.86V346.33H307.41zM345.22 341.1H349.95V346.33H345.22zM66.34 346.33H71.06V351.56H66.34zM80.52 346.33H85.25V351.56H80.52zM118.33 346.33H123.06V351.56H118.33zM165.6 346.33H179.78V351.56H165.6zM193.96 346.33H203.42V351.56H193.96zM222.32 346.33H227.05V351.56H222.32zM274.32 346.33H283.77V351.56H274.32zM307.41 346.33H316.86V351.56H307.41zM359.4 346.33H368.86V351.56H359.4zM42.7 351.56H52.16V356.8H42.7zM56.88 351.56H61.61V356.8H56.88zM66.34 351.56H71.06V356.8H66.34zM80.52 351.56H85.25V356.8H80.52zM118.33 351.56H123.06V356.8H118.33zM160.88 351.56H170.33V356.8H160.88zM175.06 351.56H184.51V356.8H175.06zM231.78 351.56H241.23V356.8H231.78zM255.41 351.56H260.14V356.8H255.41zM264.87 351.56H269.59V356.8H264.87zM312.14 351.56H316.86V356.8H312.14zM387.77 351.56H392.49V356.8H387.77zM30.25 356.8H37.98V362.03H30.25zM75.79 356.8H80.52V362.03H75.79zM89.97 356.8H99.43V362.03H89.97zM123.06 356.8H127.79V362.03H123.06zM151.42 356.8H156.15V362.03H151.42zM160.88 356.8H165.6V362.03H160.88zM175.06 356.8H179.78V362.03H175.06zM189.24 356.8H198.69V362.03H189.24zM208.14 356.8H212.87V362.03H208.14zM274.32 356.8H279.05V362.03H274.32zM312.14 356.8H316.86V362.03H312.14zM364.13 356.8H368.86V362.03H364.13zM30.25 362.03H37.98V367.26H30.25zM89.97 362.03H94.7V367.26H89.97zM123.06 362.03H127.79V367.26H123.06zM137.24 362.03H141.97V367.26H137.24zM170.33 362.03H179.78V367.26H170.33zM217.6 362.03H227.05V367.26H217.6zM255.41 362.03H260.14V367.26H255.41zM264.87 362.03H269.59V367.26H264.87zM297.95 362.03H302.68V367.26H297.95zM312.14 362.03H316.86V367.26H312.14zM373.58 362.03H378.31V367.26H373.58zM30.25 367.26H52.16V372.49H30.25zM56.88 367.26H61.61V372.49H56.88zM71.06 367.26H75.79V372.49H71.06zM89.97 367.26H94.7V372.49H89.97zM127.79 367.26H132.51V372.49H127.79zM137.24 367.26H141.97V372.49H137.24zM146.69 367.26H151.42V372.49H146.69zM156.15 367.26H160.88V372.49H156.15zM165.6 367.26H170.33V372.49H165.6zM217.6 367.26H227.05V372.49H217.6zM264.87 367.26H269.59V372.49H264.87zM312.14 367.26H316.86V372.49H312.14zM359.4 367.26H364.13V372.49H359.4zM378.31 367.26H383.04V372.49H378.31zM392.49 367.26H397.22V372.49H392.49zM401.95 367.26H414.4V372.49H401.95zM42.7 372.49H52.16V377.73H42.7zM56.88 372.49H61.61V377.73H56.88zM137.24 372.49H141.97V377.73H137.24zM146.69 372.49H160.88V377.73H146.69zM170.33 372.49H175.06V377.73H170.33zM189.24 372.49H217.6V377.73H189.24zM222.32 372.49H227.05V377.73H222.32zM236.51 372.49H241.23V377.73H236.51zM255.41 372.49H260.14V377.73H255.41zM264.87 372.49H269.59V377.73H264.87zM293.23 372.49H297.95V377.73H293.23zM312.14 372.49H321.59V377.73H312.14zM378.31 372.49H387.77V377.73H378.31zM397.22 372.49H401.95V377.73H397.22zM406.67 372.49H414.4V377.73H406.67zM30.25 377.73H37.98V382.96H30.25zM56.88 377.73H61.61V382.96H56.88zM66.34 377.73H71.06V382.96H66.34zM75.79 377.73H80.52V382.96H75.79zM104.15 377.73H108.88V382.96H104.15zM137.24 377.73H141.97V382.96H137.24zM151.42 377.73H156.15V382.96H151.42zM217.6 377.73H222.32V382.96H217.6zM231.78 377.73H236.51V382.96H231.78zM255.41 377.73H260.14V382.96H255.41zM264.87 377.73H269.59V382.96H264.87zM283.77 377.73H293.23V382.96H283.77zM297.95 377.73H302.68V382.96H297.95zM312.14 377.73H316.86V382.96H312.14zM373.58 377.73H378.31V382.96H373.58zM30.25 382.96H37.98V388.19H30.25zM52.16 382.96H56.88V388.19H52.16zM89.97 382.96H94.7V388.19H89.97zM104.15 382.96H108.88V388.19H104.15zM127.79 382.96H132.51V388.19H127.79zM137.24 382.96H141.97V388.19H137.24zM217.6 382.96H227.05V388.19H217.6zM250.69 382.96H255.41V388.19H250.69zM288.5 382.96H293.23V388.19H288.5zM297.95 382.96H302.68V388.19H297.95zM359.4 382.96H364.13V388.19H359.4zM392.49 382.96H397.22V388.19H392.49zM401.95 382.96H414.4V388.19H401.95zM37.98 388.19H42.7V393.42H37.98zM52.16 388.19H61.61V393.42H52.16zM127.79 388.19H146.69V393.42H127.79zM203.42 388.19H208.14V393.42H203.42zM222.32 388.19H227.05V393.42H222.32zM260.14 388.19H288.5V393.42H260.14zM293.23 388.19H302.68V393.42H293.23zM312.14 388.19H316.86V393.42H312.14zM321.59 388.19H326.32V393.42H321.59zM340.5 388.19H345.22V393.42H340.5zM354.68 388.19H359.4V393.42H354.68zM37.98 393.42H52.16V398.66H37.98zM85.25 393.42H89.97V398.66H85.25zM108.88 393.42H113.61V398.66H108.88zM118.33 393.42H123.06V398.66H118.33zM132.51 393.42H141.97V398.66H132.51zM222.32 393.42H227.05V398.66H222.32zM236.51 393.42H245.96V398.66H236.51zM255.41 393.42H260.14V398.66H255.41zM264.87 393.42H269.59V398.66H264.87zM279.05 393.42H288.5V398.66H279.05zM321.59 393.42H326.32V398.66H321.59zM331.04 393.42H335.77V398.66H331.04zM378.31 393.42H383.04V398.66H378.31zM42.7 398.66H52.16V403.89H42.7zM56.88 398.66H66.34V403.89H56.88zM80.52 398.66H85.25V403.89H80.52zM99.43 398.66H104.15V403.89H99.43zM132.51 398.66H141.97V403.89H132.51zM222.32 398.66H227.05V403.89H222.32zM236.51 398.66H245.96V403.89H236.51zM264.87 398.66H269.59V403.89H264.87zM279.05 398.66H288.5V403.89H279.05zM378.31 398.66H383.04V403.89H378.31zM30.25 403.89H37.98V409.12H30.25zM56.88 403.89H61.61V409.12H56.88zM71.06 403.89H75.79V409.12H71.06zM89.97 403.89H94.7V409.12H89.97zM132.51 403.89H137.24V409.12H132.51zM146.69 403.89H151.42V409.12H146.69zM165.6 403.89H170.33V409.12H165.6zM175.06 403.89H179.78V409.12H175.06zM222.32 403.89H227.05V409.12H222.32zM231.78 403.89H236.51V409.12H231.78zM241.23 403.89H245.96V409.12H241.23zM269.59 403.89H274.32V409.12H269.59zM279.05 403.89H288.5V409.12H279.05zM297.95 403.89H302.68V409.12H297.95zM335.77 403.89H340.5V409.12H335.77zM349.95 403.89H354.68V409.12H349.95zM383.04 403.89H392.49V409.12H383.04zM397.22 403.89H414.4V409.12H397.22zM30.25 409.12H37.98V414.35H30.25zM56.88 409.12H61.61V414.35H56.88zM75.79 409.12H85.25V414.35H75.79zM99.43 409.12H113.61V414.35H99.43zM123.06 409.12H127.79V414.35H123.06zM141.97 409.12H146.69V414.35H141.97zM156.15 409.12H165.6V414.35H156.15zM175.06 409.12H193.96V414.35H175.06zM212.87 409.12H217.6V414.35H212.87zM231.78 409.12H236.51V414.35H231.78zM260.14 409.12H269.59V414.35H260.14zM274.32 409.12H279.05V414.35H274.32zM283.77 409.12H288.5V414.35H283.77zM297.95 409.12H302.68V414.35H297.95zM340.5 409.12H349.95V414.35H340.5zM364.13 409.12H373.58V414.35H364.13zM56.88 414.35H71.06V419.59H56.88zM89.97 414.35H94.7V419.59H89.97zM104.15 414.35H113.61V419.59H104.15zM118.33 414.35H123.06V419.59H118.33zM127.79 414.35H132.51V419.59H127.79zM137.24 414.35H141.97V419.59H137.24zM175.06 414.35H179.78V419.59H175.06zM222.32 414.35H227.05V419.59H222.32zM231.78 414.35H236.51V419.59H231.78zM241.23 414.35H245.96V419.59H241.23zM279.05 414.35H283.77V419.59H279.05zM288.5 414.35H293.23V419.59H288.5zM297.95 414.35H302.68V419.59H297.95zM345.22 414.35H349.95V419.59H345.22zM373.58 414.35H378.31V419.59H373.58zM66.34 419.59H71.06V424.82H66.34zM104.15 419.59H118.33V424.82H104.15zM127.79 419.59H137.24V424.82H127.79zM217.6 419.59H227.05V424.82H217.6zM231.78 419.59H236.51V424.82H231.78zM241.23 419.59H250.69V424.82H241.23zM255.41 419.59H260.14V424.82H255.41zM264.87 419.59H269.59V424.82H264.87zM279.05 419.59H288.5V424.82H279.05zM297.95 419.59H312.14V424.82H297.95zM326.32 419.59H331.04V424.82H326.32zM373.58 419.59H378.31V424.82H373.58zM30.25 424.82H37.98V430.05H30.25zM56.88 424.82H66.34V430.05H56.88zM75.79 424.82H85.25V430.05H75.79zM123.06 424.82H127.79V430.05H123.06zM184.51 424.82H189.24V430.05H184.51zM231.78 424.82H236.51V430.05H231.78zM241.23 424.82H250.69V430.05H241.23zM255.41 424.82H260.14V430.05H255.41zM264.87 424.82H269.59V430.05H264.87zM279.05 424.82H283.77V430.05H279.05zM312.14 424.82H316.86V430.05H312.14zM340.5 424.82H345.22V430.05H340.5zM354.68 424.82H359.4V430.05H354.68zM30.25 430.05H37.98V435.28H30.25zM89.97 430.05H94.7V435.28H89.97zM99.43 430.05H113.61V435.28H99.43zM118.33 430.05H123.06V435.28H118.33zM127.79 430.05H132.51V435.28H127.79zM151.42 430.05H156.15V435.28H151.42zM165.6 430.05H175.06V435.28H165.6zM217.6 430.05H222.32V435.28H217.6zM231.78 430.05H236.51V435.28H231.78zM250.69 430.05H260.14V435.28H250.69zM264.87 430.05H269.59V435.28H264.87zM279.05 430.05H283.77V435.28H279.05zM312.14 430.05H316.86V435.28H312.14zM345.22 430.05H349.95V435.28H345.22zM373.58 430.05H378.31V435.28H373.58zM99.43 435.28H104.15V440.52H99.43zM118.33 435.28H123.06V440.52H118.33zM151.42 435.28H156.15V440.52H151.42zM184.51 435.28H189.24V440.52H184.51zM222.32 435.28H227.05V440.52H222.32zM231.78 435.28H236.51V440.52H231.78zM241.23 435.28H250.69V440.52H241.23zM307.41 435.28H312.14V440.52H307.41zM340.5 435.28H345.22V440.52H340.5zM354.68 435.28H359.4V440.52H354.68zM373.58 435.28H378.31V440.52H373.58zM30.25 440.52H37.98V448.75H30.25zM42.7 440.52H52.16V448.75H42.7zM61.61 440.52H66.34V448.75H61.61zM99.43 440.52H104.15V448.75H99.43zM141.97 440.52H151.42V448.75H141.97zM156.15 440.52H160.88V448.75H156.15zM170.33 440.52H175.06V448.75H170.33zM231.78 440.52H236.51V448.75H231.78zM245.96 440.52H250.69V448.75H245.96zM279.05 440.52H283.77V448.75H279.05zM307.41 440.52H312.14V448.75H307.41zM340.5 440.52H349.95V448.75H340.5zM354.68 440.52H359.4V448.75H354.68zM373.58 440.52H378.31V448.75H373.58z"/>
<path fill="#3dbc74" d="M61.61 24.15H66.34V32.38H61.61zM99.43 24.15H104.15V32.38H99.43zM146.69 24.15H151.42V32.38H146.69zM401.95 24.15H406.67V32.38H401.95zM61.61 32.38H71.06V37.61H61.61zM85.25 32.38H89.97V37.61H85.25zM165.6 32.38H175.06V37.61H165.6zM193.96 32.38H198.69V37.61H193.96zM203.42 32.38H208.14V37.61H203.42zM241.23 32.38H245.96V37.61H241.23zM316.86 32.38H321.59V37.61H316.86zM373.58 32.38H378.31V37.61H373.58zM108.88 37.61H113.61V42.85H108.88zM108.88 42.85H113.61V48.08H108.88zM94.7 48.08H99.43V53.31H94.7zM108.88 48.08H113.61V53.31H108.88zM118.33 48.08H123.06V53.31H118.33zM189.24 48.08H193.96V53.31H189.24zM198.69 48.08H203.42V53.31H198.69zM208.14 48.08H217.6V53.31H208.14zM236.51 48.08H241.23V53.31H236.51zM364.13 48.08H368.86V53.31H364.13zM387.77 48.08H392.49V53.31H387.77zM30.25 58.55H42.7V63.78H30.25zM297.95 58.55H302.68V63.78H297.95zM307.41 58.55H312.14V63.78H307.41zM359.4 58.55H364.13V63.78H359.4zM378.31 58.55H383.04V63.78H378.31zM37.98 63.78H42.7V69.01H37.98zM127.79 63.78H132.51V69.01H127.79zM227.05 63.78H231.78V69.01H227.05zM245.96 63.78H250.69V69.01H245.96zM302.68 63.78H307.41V69.01H302.68zM345.22 63.78H349.95V69.01H345.22zM359.4 63.78H364.13V69.01H359.4zM378.31 63.78H383.04V69.01H378.31zM392.49 63.78H397.22V69.01H392.49zM193.96 69.01H198.69V74.24H193.96zM307.41 69.01H312.14V74.24H307.41zM359.4 69.01H364.13V74.24H359.4zM165.6 74.24H170.33V79.47H165.6zM184.51 74.24H189.24V79.47H184.51zM307.41 74.24H312.14V79.47H307.41zM364.13 74.24H368.86V79.47H364.13zM397.22 74.24H401.95V79.47H397.22zM151.42 79.47H156.15V84.71H151.42zM37.98 84.71H42.7V89.94H37.98zM113.61 84.71H118.33V89.94H113.61zM165.6 84.71H170.33V89.94H165.6zM217.6 84.71H222.32V89.94H217.6zM307.41 84.71H312.14V89.94H307.41zM321.59 84.71H331.04V89.94H321.59zM345.22 84.71H354.68V89.94H345.22zM359.4 84.71H364.13V89.94H359.4zM378.31 84.71H392.49V89.94H378.31zM345.22 89.94H349.95V95.17H345.22zM359.4 89.94H364.13V95.17H359.4zM52.16 95.17H56.88V100.41H52.16zM123.06 95.17H127.79V100.41H123.06zM231.78 95.17H236.51V100.41H231.78zM345.22 95.17H349.95V100.41H345.22zM30.25 100.41H37.98V105.64H30.25zM217.6 100.41H222.32V105.64H217.6zM307.41 100.41H312.14V105.64H307.41zM326.32 100.41H335.77V105.64H326.32zM340.5 100.41H345.22V105.64H340.5zM349.95 100.41H368.86V105.64H349.95zM387.77 100.41H392.49V105.64H387.77zM113.61 105.64H118.33V110.87H113.61zM141.97 105.64H146.69V110.87H141.97zM227.05 105.64H231.78V110.87H227.05zM293.23 105.64H297.95V110.87H293.23zM302.68 105.64H307.41V110.87H302.68zM331.04 105.64H335.77V110.87H331.04zM42.7 110.87H56.88V116.1H42.7zM151.42 110.87H160.88V116.1H151.42zM255.41 110.87H260.14V116.1H255.41zM293.23 110.87H297.95V116.1H293.23zM331.04 110.87H340.5V116.1H331.04zM392.49 110.87H397.22V116.1H392.49zM85.25 116.1H89.97V121.34H85.25zM104.15 116.1H108.88V121.34H104.15zM193.96 116.1H198.69V121.34H193.96zM212.87 116.1H217.6V121.34H212.87zM250.69 116.1H255.41V121.34H250.69zM274.32 116.1H279.05V121.34H274.32zM364.13 116.1H368.86V121.34H364.13zM373.58 116.1H378.31V121.34H373.58zM52.16 121.34H56.88V126.57H52.16zM345.22 121.34H349.95V126.57H345.22zM94.7 126.57H99.43V131.8H94.7zM127.79 126.57H132.51V131.8H127.79zM137.24 126.57H146.69V131.8H137.24zM227.05 126.57H231.78V131.8H227.05zM401.95 126.57H406.67V131.8H401.95zM66.34 131.8H71.06V137.03H66.34zM123.06 131.8H127.79V137.03H123.06zM170.33 131.8H175.06V137.03H170.33zM203.42 131.8H208.14V137.03H203.42zM316.86 131.8H321.59V137.03H316.86zM321.59 137.03H326.32V142.26H321.59zM335.77 137.03H340.5V142.26H335.77zM397.22 137.03H401.95V142.26H397.22zM123.06 142.26H127.79V147.5H123.06zM312.14 142.26H316.86V147.5H312.14zM378.31 142.26H383.04V147.5H378.31zM397.22 142.26H401.95V147.5H397.22zM104.15 147.5H108.88V152.73H104.15zM123.06 147.5H127.79V152.73H123.06zM198.69 147.5H212.87V152.73H198.69zM312.14 147.5H316.86V152.73H312.14zM364.13 147.5H373.58V152.73H364.13zM30.25 152.73H37.98V157.96H30.25zM198.69 152.73H203.42V157.96H198.69zM222.32 152.73H227.05V157.96H222.32zM236.51 152.73H241.23V157.96H236.51zM274.32 152.73H279.05V157.96H274.32zM364.13 152.73H373.58V157.96H364.13zM387.77 152.73H392.49V157.96H387.77zM397.22 152.73H401.95V157.96H397.22zM80.52 157.96H85.25V163.19H80.52zM108.88 157.96H113.61V163.19H108.88zM236.51 157.96H241.23V163.19H236.51zM302.68 157.96H307.41V163.19H302.68zM392.49 157.96H397.22V163.19H392.49zM108.88 163.19H113.61V168.43H108.88zM236.51 163.19H241.23V168.43H236.51zM392.49 168.43H397.22V173.66H392.49zM37.98 173.66H42.7V178.89H37.98zM75.79 173.66H80.52V178.89H75.79zM85.25 173.66H89.97V178.89H85.25zM331.04 173.66H335.77V178.89H331.04zM378.31 173.66H383.04V178.89H378.31zM401.95 173.66H406.67V178.89H401.95zM37.98 178.89H42.7V184.12H37.98zM127.79 178.89H132.51V184.12H127.79zM175.06 178.89H179.78V184.12H175.06zM217.6 178.89H222.32V184.12H217.6zM255.41 178.89H260.14V184.12H255.41zM307.41 178.89H312.14V184.12H307.41zM326.32 178.89H335.77V184.12H326.32zM378.31 178.89H383.04V184.12H378.31zM392.49 178.89H397.22V184.12H392.49zM401.95 178.89H406.67V184.12H401.95zM170.33 184.12H175.06V189.36H170.33zM179.78 184.12H184.51V189.36H179.78zM189.24 184.12H193.96V189.36H189.24zM203.42 184.12H208.14V189.36H203.42zM212.87 184.12H217.6V189.36H212.87zM340.5 184.12H354.68V189.36H340.5zM175.06 189.36H179.78V194.59H175.06zM217.6 189.36H222.32V194.59H217.6zM359.4 189.36H364.13V194.59H359.4zM392.49 189.36H397.22V194.59H392.49zM401.95 189.36H414.4V194.59H401.95zM75.79 194.59H80.52V199.82H75.79zM236.51 194.59H241.23V199.82H236.51zM255.41 194.59H260.14V199.82H255.41zM279.05 194.59H283.77V199.82H279.05zM52.16 199.82H56.88V205.06H52.16zM175.06 199.82H179.78V205.06H175.06zM217.6 199.82H222.32V205.06H217.6zM392.49 199.82H397.22V205.06H392.49zM401.95 199.82H414.4V205.06H401.95zM37.98 205.06H42.7V210.29H37.98zM71.06 205.06H75.79V210.29H71.06zM113.61 205.06H118.33V210.29H113.61zM217.6 205.06H222.32V210.29H217.6zM293.23 205.06H297.95V210.29H293.23zM302.68 205.06H312.14V210.29H302.68zM326.32 205.06H331.04V210.29H326.32zM359.4 205.06H364.13V210.29H359.4zM392.49 205.06H397.22V210.29H392.49zM401.95 205.06H406.67V210.29H401.95zM52.16 210.29H56.88V215.52H52.16zM141.97 210.29H151.42V215.52H141.97zM217.6 210.29H222.32V215.52H217.6zM302.68 210.29H312.14V215.52H302.68zM326.32 210.29H331.04V215.52H326.32zM392.49 210.29H397.22V215.52H392.49zM406.67 210.29H414.4V215.52H406.67zM37.98 215.52H42.7V220.75H37.98zM127.79 215.52H132.51V220.75H127.79zM141.97 215.52H146.69V220.75H141.97zM175.06 215.52H179.78V220.75H175.06zM217.6 215.52H222.32V220.75H217.6zM288.5 215.52H293.23V220.75H288.5zM302.68 215.52H307.41V220.75H302.68zM378.31 215.52H383.04V220.75H378.31zM392.49 215.52H397.22V220.75H392.49zM406.67 215.52H414.4V220.75H406.67zM52.16 220.75H56.88V225.99H52.16zM141.97 220.75H146.69V225.99H141.97zM217.6 220.75H222.32V225.99H217.6zM302.68 220.75H312.14V225.99H302.68zM392.49 220.75H397.22V225.99H392.49zM406.67 220.75H414.4V225.99H406.67zM52.16 225.99H56.88V231.22H52.16zM113.61 225.99H118.33V231.22H113.61zM175.06 225.99H179.78V231.22H175.06zM217.6 225.99H222.32V231.22H217.6zM302.68 225.99H307.41V231.22H302.68zM326.32 225.99H331.04V231.22H326.32zM359.4 225.99H364.13V231.22H359.4zM392.49 225.99H397.22V231.22H392.49zM406.67 225.99H414.4V231.22H406.67zM85.25 231.22H89.97V236.45H85.25zM99.43 231.22H104.15V236.45H99.43zM170.33 231.22H175.06V236.45H170.33zM179.78 231.22H184.51V236.45H179.78zM189.24 231.22H217.6V236.45H189.24zM250.69 231.22H255.41V236.45H250.69zM368.86 231.22H373.58V236.45H368.86zM383.04 231.22H387.77V236.45H383.04zM146.69 236.45H151.42V241.68H146.69zM66.34 241.68H71.06V246.91H66.34zM104.15 241.68H108.88V246.91H104.15zM123.06 241.68H127.79V246.91H123.06zM368.86 241.68H373.58V246.91H368.86zM94.7 246.91H99.43V252.15H94.7zM52.16 252.15H56.88V257.38H52.16zM146.69 252.15H160.88V257.38H146.69zM184.51 252.15H189.24V257.38H184.51zM335.77 252.15H340.5V257.38H335.77zM354.68 252.15H359.4V257.38H354.68zM406.67 252.15H414.4V257.38H406.67zM37.98 257.38H42.7V262.61H37.98zM331.04 257.38H335.77V262.61H331.04zM378.31 257.38H383.04V262.61H378.31zM66.34 262.61H71.06V267.84H66.34zM331.04 262.61H345.22V267.84H331.04zM354.68 262.61H359.4V267.84H354.68zM397.22 262.61H401.95V267.84H397.22zM113.61 267.84H118.33V273.08H113.61zM217.6 267.84H222.32V273.08H217.6zM293.23 267.84H297.95V273.08H293.23zM307.41 267.84H312.14V273.08H307.41zM340.5 267.84H349.95V273.08H340.5zM359.4 267.84H364.13V273.08H359.4zM401.95 267.84H414.4V273.08H401.95zM108.88 273.08H113.61V278.31H108.88zM170.33 273.08H175.06V278.31H170.33zM184.51 273.08H189.24V278.31H184.51zM340.5 273.08H345.22V278.31H340.5zM326.32 278.31H335.77V283.54H326.32zM392.49 278.31H397.22V283.54H392.49zM401.95 278.31H414.4V283.54H401.95zM383.04 283.54H387.77V288.77H383.04zM113.61 294.01H118.33V299.24H113.61zM146.69 294.01H151.42V299.24H146.69zM288.5 294.01H293.23V299.24H288.5zM302.68 294.01H307.41V299.24H302.68zM326.32 294.01H331.04V299.24H326.32zM392.49 294.01H397.22V299.24H392.49zM184.51 299.24H189.24V304.47H184.51zM203.42 309.7H208.14V314.94H203.42zM274.32 309.7H279.05V314.94H274.32zM316.86 309.7H321.59V314.94H316.86zM373.58 309.7H378.31V314.94H373.58zM104.15 314.94H113.61V320.17H104.15zM193.96 314.94H198.69V320.17H193.96zM250.69 314.94H255.41V320.17H250.69zM373.58 314.94H378.31V320.17H373.58zM61.61 320.17H66.34V325.4H61.61zM66.34 325.4H71.06V330.63H66.34zM104.15 325.4H108.88V330.63H104.15zM151.42 325.4H156.15V330.63H151.42zM193.96 325.4H217.6V330.63H193.96zM274.32 325.4H279.05V330.63H274.32zM364.13 325.4H368.86V330.63H364.13zM373.58 325.4H378.31V330.63H373.58zM61.61 330.63H66.34V335.87H61.61zM71.06 330.63H80.52V335.87H71.06zM85.25 330.63H89.97V335.87H85.25zM99.43 330.63H104.15V335.87H99.43zM170.33 330.63H175.06V335.87H170.33zM193.96 330.63H203.42V335.87H193.96zM208.14 330.63H212.87V335.87H208.14zM250.69 330.63H255.41V335.87H250.69zM368.86 330.63H378.31V335.87H368.86zM383.04 330.63H387.77V335.87H383.04zM137.24 335.87H146.69V341.1H137.24zM37.98 341.1H42.7V346.33H37.98zM127.79 341.1H132.51V346.33H127.79zM288.5 341.1H293.23V346.33H288.5zM397.22 341.1H401.95V346.33H397.22zM85.25 346.33H89.97V351.56H85.25zM132.51 346.33H137.24V351.56H132.51zM85.25 351.56H89.97V356.8H85.25zM99.43 351.56H104.15V356.8H99.43zM170.33 351.56H175.06V356.8H170.33zM193.96 351.56H203.42V356.8H193.96zM212.87 351.56H217.6V356.8H212.87zM260.14 351.56H264.87V356.8H260.14zM274.32 351.56H279.05V356.8H274.32zM373.58 351.56H378.31V356.8H373.58zM99.43 356.8H113.61V362.03H99.43zM165.6 356.8H175.06V362.03H165.6zM241.23 356.8H250.69V362.03H241.23zM260.14 356.8H264.87V362.03H260.14zM108.88 362.03H113.61V367.26H108.88zM132.51 362.03H137.24V367.26H132.51zM236.51 362.03H241.23V367.26H236.51zM245.96 362.03H250.69V367.26H245.96zM99.43 367.26H104.15V372.49H99.43zM175.06 367.26H179.78V372.49H175.06zM245.96 367.26H260.14V372.49H245.96zM66.34 372.49H71.06V377.73H66.34zM85.25 372.49H99.43V377.73H85.25zM118.33 372.49H123.06V377.73H118.33zM175.06 372.49H179.78V377.73H175.06zM250.69 372.49H255.41V377.73H250.69zM401.95 372.49H406.67V377.73H401.95zM85.25 377.73H89.97V382.96H85.25zM99.43 377.73H104.15V382.96H99.43zM175.06 377.73H179.78V382.96H175.06zM99.43 382.96H104.15V388.19H99.43zM236.51 382.96H241.23V388.19H236.51zM245.96 382.96H250.69V388.19H245.96zM61.61 388.19H75.79V393.42H61.61zM85.25 388.19H94.7V393.42H85.25zM99.43 388.19H104.15V393.42H99.43zM179.78 388.19H184.51V393.42H179.78zM193.96 388.19H198.69V393.42H193.96zM212.87 388.19H217.6V393.42H212.87zM250.69 388.19H255.41V393.42H250.69zM373.58 388.19H378.31V393.42H373.58zM52.16 393.42H56.88V398.66H52.16zM75.79 393.42H80.52V398.66H75.79zM99.43 393.42H104.15V398.66H99.43zM113.61 393.42H118.33V398.66H113.61zM141.97 393.42H151.42V398.66H141.97zM302.68 393.42H307.41V398.66H302.68zM392.49 393.42H397.22V398.66H392.49zM406.67 393.42H414.4V398.66H406.67zM141.97 398.66H151.42V403.89H141.97zM217.6 398.66H222.32V403.89H217.6zM227.05 398.66H231.78V403.89H227.05zM307.41 398.66H312.14V403.89H307.41zM37.98 403.89H42.7V409.12H37.98zM113.61 403.89H118.33V409.12H113.61zM288.5 403.89H297.95V409.12H288.5zM302.68 403.89H312.14V409.12H302.68zM326.32 403.89H331.04V409.12H326.32zM359.4 403.89H364.13V409.12H359.4zM61.61 409.12H71.06V414.35H61.61zM85.25 409.12H89.97V414.35H85.25zM137.24 409.12H141.97V414.35H137.24zM165.6 409.12H175.06V414.35H165.6zM203.42 409.12H208.14V414.35H203.42zM241.23 409.12H245.96V414.35H241.23zM85.25 414.35H89.97V419.59H85.25zM217.6 414.35H222.32V419.59H217.6zM264.87 414.35H269.59V419.59H264.87zM307.41 414.35H312.14V419.59H307.41zM52.16 419.59H56.88V424.82H52.16zM85.25 419.59H89.97V424.82H85.25zM99.43 419.59H104.15V424.82H99.43zM146.69 419.59H151.42V424.82H146.69zM66.34 424.82H71.06V430.05H66.34zM108.88 424.82H113.61V430.05H108.88zM151.42 424.82H156.15V430.05H151.42zM160.88 424.82H165.6V430.05H160.88zM170.33 424.82H175.06V430.05H170.33zM179.78 424.82H184.51V430.05H179.78zM189.24 424.82H217.6V430.05H189.24zM260.14 424.82H264.87V430.05H260.14zM274.32 424.82H279.05V430.05H274.32zM364.13 424.82H368.86V430.05H364.13zM75.79 430.05H80.52V435.28H75.79zM132.51 430.05H141.97V435.28H132.51zM146.69 430.05H151.42V435.28H146.69zM245.96 430.05H250.69V435.28H245.96zM316.86 430.05H321.59V435.28H316.86zM30.25 435.28H37.98V440.52H30.25zM123.06 435.28H127.79V440.52H123.06zM165.6 435.28H175.06V440.52H165.6zM179.78 435.28H184.51V440.52H179.78zM189.24 435.28H198.69V440.52H189.24zM250.69 435.28H255.41V440.52H250.69zM260.14 435.28H264.87V440.52H260.14zM345.22 435.28H349.95V440.52H345.22zM179.78 440.52H184.51V448.75H179.78zM189.24 440.52H193.96V448.75H189.24zM198.69 440.52H217.6V448.75H198.69zM236.51 440.52H241.23V448.75H236.51zM250.69 440.52H255.41V448.75H250.69zM260.14 440.52H264.87V448.75H260.14zM364.13 440.52H368.86V448.75H364.13z"/>
<path fill="#29af7f" d="M66.34 24.15H71.06V32.38H66.34zM80.52 24.15H85.25V32.38H80.52zM89.97 24.15H94.7V32.38H89.97zM104.15 24.15H113.61V32.38H104.15zM137.24 24.15H146.69V32.38H137.24zM151.42 24.15H165.6V32.38H151.42zM184.51 24.15H189.24V32.38H184.51zM222.32 24.15H231.78V32.38H222.32zM293.23 24.15H307.41V32.38H293.23zM321.59 24.15H331.04V32.38H321.59zM104.15 32.38H113.61V37.61H104.15zM118.33 32.38H123.06V37.61H118.33zM184.51 32.38H189.24V37.61H184.51zM208.14 32.38H212.87V37.61H208.14zM245.96 32.38H250.69V37.61H245.96zM279.05 32.38H283.77V37.61H279.05zM368.86 32.38H373.58V37.61H368.86zM80.52 37.61H85.25V42.85H80.52zM89.97 37.61H108.88V42.85H89.97zM113.61 37.61H123.06V42.85H113.61zM203.42 37.61H208.14V42.85H203.42zM236.51 37.61H250.69V42.85H236.51zM288.5 37.61H293.23V42.85H288.5zM307.41 37.61H316.86V42.85H307.41zM359.4 37.61H364.13V42.85H359.4zM373.58 37.61H378.31V42.85H373.58zM80.52 42.85H85.25V48.08H80.52zM89.97 42.85H104.15V48.08H89.97zM113.61 42.85H127.79V48.08H113.61zM203.42 42.85H208.14V48.08H203.42zM236.51 42.85H250.69V48.08H236.51zM288.5 42.85H293.23V48.08H288.5zM307.41 42.85H316.86V48.08H307.41zM359.4 42.85H364.13V48.08H359.4zM373.58 42.85H378.31V48.08H373.58zM80.52 48.08H85.25V53.31H80.52zM89.97 48.08H94.7V53.31H89.97zM99.43 48.08H108.88V53.31H99.43zM179.78 48.08H184.51V53.31H179.78zM279.05 48.08H288.5V53.31H279.05zM368.86 48.08H378.31V53.31H368.86zM397.22 48.08H401.95V53.31H397.22zM80.52 53.31H85.25V58.55H80.52zM89.97 53.31H99.43V58.55H89.97zM108.88 53.31H118.33V58.55H108.88zM123.06 53.31H127.79V58.55H123.06zM170.33 53.31H175.06V58.55H170.33zM189.24 53.31H212.87V58.55H189.24zM241.23 53.31H250.69V58.55H241.23zM364.13 53.31H368.86V58.55H364.13zM387.77 53.31H392.49V58.55H387.77zM397.22 53.31H401.95V58.55H397.22zM406.67 53.31H414.4V58.55H406.67zM217.6 58.55H227.05V63.78H217.6zM364.13 58.55H368.86V63.78H364.13zM387.77 58.55H392.49V63.78H387.77zM397.22 58.55H401.95V63.78H397.22zM30.25 63.78H37.98V69.01H30.25zM165.6 63.78H170.33V69.01H165.6zM217.6 63.78H222.32V69.01H217.6zM236.51 63.78H245.96V69.01H236.51zM397.22 63.78H401.95V69.01H397.22zM151.42 69.01H156.15V74.24H151.42zM212.87 69.01H222.32V74.24H212.87zM274.32 69.01H279.05V74.24H274.32zM297.95 69.01H302.68V74.24H297.95zM387.77 69.01H392.49V74.24H387.77zM179.78 74.24H184.51V79.47H179.78zM193.96 74.24H198.69V79.47H193.96zM208.14 74.24H227.05V79.47H208.14zM274.32 74.24H279.05V79.47H274.32zM321.59 74.24H326.32V79.47H321.59zM335.77 74.24H345.22V79.47H335.77zM354.68 74.24H364.13V79.47H354.68zM368.86 74.24H373.58V79.47H368.86zM383.04 74.24H392.49V79.47H383.04zM406.67 74.24H414.4V79.47H406.67zM30.25 79.47H37.98V84.71H30.25zM42.7 79.47H61.61V84.71H42.7zM123.06 79.47H127.79V84.71H123.06zM141.97 79.47H151.42V84.71H141.97zM255.41 79.47H260.14V84.71H255.41zM269.59 79.47H274.32V84.71H269.59zM288.5 79.47H293.23V84.71H288.5zM297.95 79.47H302.68V84.71H297.95zM307.41 79.47H312.14V84.71H307.41zM331.04 79.47H345.22V84.71H331.04zM349.95 79.47H368.86V84.71H349.95zM383.04 79.47H392.49V84.71H383.04zM156.15 84.71H160.88V89.94H156.15zM184.51 84.71H189.24V89.94H184.51zM222.32 84.71H227.05V89.94H222.32zM241.23 84.71H250.69V89.94H241.23zM269.59 84.71H274.32V89.94H269.59zM288.5 84.71H297.95V89.94H288.5zM331.04 84.71H340.5V89.94H331.04zM354.68 84.71H359.4V89.94H354.68zM401.95 84.71H414.4V89.94H401.95zM30.25 89.94H37.98V95.17H30.25zM42.7 89.94H61.61V95.17H42.7zM146.69 89.94H151.42V95.17H146.69zM193.96 89.94H198.69V95.17H193.96zM217.6 89.94H222.32V95.17H217.6zM231.78 89.94H236.51V95.17H231.78zM307.41 89.94H316.86V95.17H307.41zM364.13 89.94H373.58V95.17H364.13zM406.67 89.94H414.4V95.17H406.67zM42.7 95.17H52.16V100.41H42.7zM56.88 95.17H61.61V100.41H56.88zM141.97 95.17H151.42V100.41H141.97zM288.5 95.17H293.23V100.41H288.5zM297.95 95.17H302.68V100.41H297.95zM392.49 95.17H397.22V100.41H392.49zM401.95 95.17H414.4V100.41H401.95zM42.7 100.41H56.88V105.64H42.7zM123.06 100.41H127.79V105.64H123.06zM141.97 100.41H160.88V105.64H141.97zM255.41 100.41H260.14V105.64H255.41zM269.59 100.41H274.32V105.64H269.59zM283.77 100.41H288.5V105.64H283.77zM293.23 100.41H297.95V105.64H293.23zM302.68 100.41H307.41V105.64H302.68zM321.59 100.41H326.32V105.64H321.59zM383.04 100.41H387.77V105.64H383.04zM392.49 100.41H397.22V105.64H392.49zM30.25 105.64H47.43V110.87H30.25zM52.16 105.64H56.88V110.87H52.16zM146.69 105.64H151.42V110.87H146.69zM156.15 105.64H160.88V110.87H156.15zM245.96 105.64H250.69V110.87H245.96zM321.59 105.64H326.32V110.87H321.59zM335.77 105.64H340.5V110.87H335.77zM401.95 105.64H414.4V110.87H401.95zM30.25 110.87H42.7V116.1H30.25zM56.88 110.87H61.61V116.1H56.88zM123.06 110.87H127.79V116.1H123.06zM279.05 110.87H288.5V116.1H279.05zM297.95 110.87H307.41V116.1H297.95zM321.59 110.87H331.04V116.1H321.59zM340.5 110.87H345.22V116.1H340.5zM349.95 110.87H359.4V116.1H349.95zM401.95 110.87H414.4V116.1H401.95zM42.7 116.1H52.16V121.34H42.7zM56.88 116.1H61.61V121.34H56.88zM123.06 116.1H127.79V121.34H123.06zM132.51 116.1H137.24V121.34H132.51zM151.42 116.1H156.15V121.34H151.42zM179.78 116.1H184.51V121.34H179.78zM198.69 116.1H203.42V121.34H198.69zM208.14 116.1H212.87V121.34H208.14zM260.14 116.1H264.87V121.34H260.14zM37.98 121.34H52.16V126.57H37.98zM123.06 121.34H127.79V126.57H123.06zM156.15 121.34H160.88V126.57H156.15zM165.6 121.34H170.33V126.57H165.6zM241.23 121.34H250.69V126.57H241.23zM297.95 121.34H302.68V126.57H297.95zM307.41 121.34H312.14V126.57H307.41zM359.4 121.34H364.13V126.57H359.4zM378.31 121.34H383.04V126.57H378.31zM392.49 121.34H397.22V126.57H392.49zM406.67 121.34H414.4V126.57H406.67zM47.43 126.57H52.16V131.8H47.43zM56.88 126.57H61.61V131.8H56.88zM80.52 126.57H85.25V131.8H80.52zM99.43 126.57H104.15V131.8H99.43zM108.88 126.57H123.06V131.8H108.88zM132.51 126.57H137.24V131.8H132.51zM146.69 126.57H151.42V131.8H146.69zM250.69 126.57H255.41V131.8H250.69zM293.23 126.57H297.95V131.8H293.23zM302.68 126.57H307.41V131.8H302.68zM321.59 126.57H331.04V131.8H321.59zM349.95 126.57H354.68V131.8H349.95zM137.24 131.8H141.97V137.03H137.24zM146.69 131.8H170.33V137.03H146.69zM179.78 131.8H203.42V137.03H179.78zM208.14 131.8H217.6V137.03H208.14zM260.14 131.8H264.87V137.03H260.14zM274.32 131.8H279.05V137.03H274.32zM364.13 131.8H378.31V137.03H364.13zM113.61 137.03H118.33V142.26H113.61zM123.06 137.03H127.79V142.26H123.06zM137.24 137.03H141.97V142.26H137.24zM156.15 137.03H175.06V142.26H156.15zM179.78 137.03H184.51V142.26H179.78zM189.24 137.03H193.96V142.26H189.24zM208.14 137.03H217.6V142.26H208.14zM222.32 137.03H227.05V142.26H222.32zM269.59 137.03H274.32V142.26H269.59zM293.23 137.03H297.95V142.26H293.23zM302.68 137.03H307.41V142.26H302.68zM326.32 137.03H335.77V142.26H326.32zM340.5 137.03H359.4V142.26H340.5zM383.04 137.03H387.77V142.26H383.04zM392.49 137.03H397.22V142.26H392.49zM401.95 137.03H414.4V142.26H401.95zM30.25 142.26H37.98V147.5H30.25zM127.79 142.26H137.24V147.5H127.79zM175.06 142.26H179.78V147.5H175.06zM222.32 142.26H227.05V147.5H222.32zM236.51 142.26H241.23V147.5H236.51zM279.05 142.26H288.5V147.5H279.05zM293.23 142.26H297.95V147.5H293.23zM326.32 142.26H335.77V147.5H326.32zM392.49 142.26H397.22V147.5H392.49zM406.67 142.26H414.4V147.5H406.67zM30.25 147.5H37.98V152.73H30.25zM80.52 147.5H85.25V152.73H80.52zM94.7 147.5H104.15V152.73H94.7zM170.33 147.5H175.06V152.73H170.33zM179.78 147.5H184.51V152.73H179.78zM189.24 147.5H198.69V152.73H189.24zM212.87 147.5H217.6V152.73H212.87zM222.32 147.5H227.05V152.73H222.32zM236.51 147.5H241.23V152.73H236.51zM269.59 147.5H279.05V152.73H269.59zM354.68 147.5H359.4V152.73H354.68zM373.58 147.5H378.31V152.73H373.58zM383.04 147.5H392.49V152.73H383.04zM397.22 147.5H401.95V152.73H397.22zM80.52 152.73H85.25V157.96H80.52zM89.97 152.73H108.88V157.96H89.97zM123.06 152.73H132.51V157.96H123.06zM179.78 152.73H184.51V157.96H179.78zM189.24 152.73H193.96V157.96H189.24zM203.42 152.73H217.6V157.96H203.42zM269.59 152.73H274.32V157.96H269.59zM349.95 152.73H359.4V157.96H349.95zM378.31 152.73H387.77V157.96H378.31zM30.25 157.96H37.98V163.19H30.25zM71.06 157.96H75.79V163.19H71.06zM99.43 157.96H104.15V163.19H99.43zM113.61 157.96H118.33V163.19H113.61zM127.79 157.96H132.51V163.19H127.79zM175.06 157.96H179.78V163.19H175.06zM222.32 157.96H231.78V163.19H222.32zM245.96 157.96H250.69V163.19H245.96zM264.87 157.96H269.59V163.19H264.87zM288.5 157.96H293.23V163.19H288.5zM307.41 157.96H312.14V163.19H307.41zM321.59 157.96H331.04V163.19H321.59zM359.4 157.96H364.13V163.19H359.4zM378.31 157.96H383.04V163.19H378.31zM406.67 157.96H414.4V163.19H406.67zM30.25 163.19H37.98V168.43H30.25zM85.25 163.19H89.97V168.43H85.25zM99.43 163.19H108.88V168.43H99.43zM118.33 163.19H123.06V168.43H118.33zM127.79 163.19H137.24V168.43H127.79zM175.06 163.19H179.78V168.43H175.06zM222.32 163.19H227.05V168.43H222.32zM279.05 163.19H288.5V168.43H279.05zM331.04 163.19H335.77V168.43H331.04zM359.4 163.19H364.13V168.43H359.4zM373.58 163.19H378.31V168.43H373.58zM30.25 168.43H37.98V173.66H30.25zM127.79 168.43H137.24V173.66H127.79zM255.41 168.43H260.14V173.66H255.41zM279.05 168.43H288.5V173.66H279.05zM345.22 168.43H349.95V173.66H345.22zM401.95 168.43H414.4V173.66H401.95zM66.34 173.66H71.06V178.89H66.34zM118.33 173.66H123.06V178.89H118.33zM127.79 173.66H137.24V178.89H127.79zM175.06 173.66H179.78V178.89H175.06zM279.05 173.66H288.5V178.89H279.05zM293.23 173.66H302.68V178.89H293.23zM392.49 173.66H397.22V178.89H392.49zM56.88 178.89H61.61V184.12H56.88zM132.51 178.89H137.24V184.12H132.51zM141.97 178.89H146.69V184.12H141.97zM279.05 178.89H288.5V184.12H279.05zM293.23 178.89H297.95V184.12H293.23zM302.68 178.89H307.41V184.12H302.68zM359.4 178.89H364.13V184.12H359.4zM137.24 184.12H141.97V189.36H137.24zM151.42 184.12H160.88V189.36H151.42zM165.6 184.12H170.33V189.36H165.6zM184.51 184.12H189.24V189.36H184.51zM193.96 184.12H198.69V189.36H193.96zM52.16 189.36H56.88V194.59H52.16zM75.79 189.36H80.52V194.59H75.79zM113.61 189.36H118.33V194.59H113.61zM127.79 189.36H137.24V194.59H127.79zM141.97 189.36H151.42V194.59H141.97zM255.41 189.36H260.14V194.59H255.41zM279.05 189.36H288.5V194.59H279.05zM293.23 189.36H307.41V194.59H293.23zM30.25 194.59H42.7V199.82H30.25zM85.25 194.59H89.97V199.82H85.25zM127.79 194.59H132.51V199.82H127.79zM175.06 194.59H179.78V199.82H175.06zM217.6 194.59H222.32V199.82H217.6zM250.69 194.59H255.41V199.82H250.69zM283.77 194.59H288.5V199.82H283.77zM307.41 194.59H312.14V199.82H307.41zM359.4 194.59H364.13V199.82H359.4zM56.88 199.82H61.61V205.06H56.88zM127.79 199.82H137.24V205.06H127.79zM141.97 199.82H151.42V205.06H141.97zM255.41 199.82H260.14V205.06H255.41zM279.05 199.82H288.5V205.06H279.05zM293.23 199.82H307.41V205.06H293.23zM326.32 199.82H331.04V205.06H326.32zM359.4 199.82H364.13V205.06H359.4zM56.88 205.06H61.61V210.29H56.88zM75.79 205.06H80.52V210.29H75.79zM89.97 205.06H94.7V210.29H89.97zM127.79 205.06H132.51V210.29H127.79zM141.97 205.06H146.69V210.29H141.97zM175.06 205.06H179.78V210.29H175.06zM236.51 205.06H241.23V210.29H236.51zM245.96 205.06H250.69V210.29H245.96zM255.41 205.06H260.14V210.29H255.41zM279.05 205.06H288.5V210.29H279.05zM378.31 205.06H383.04V210.29H378.31zM406.67 205.06H414.4V210.29H406.67zM56.88 210.29H61.61V215.52H56.88zM113.61 210.29H118.33V215.52H113.61zM127.79 210.29H132.51V215.52H127.79zM255.41 210.29H260.14V215.52H255.41zM293.23 210.29H302.68V215.52H293.23zM331.04 210.29H335.77V215.52H331.04zM359.4 210.29H364.13V215.52H359.4zM378.31 210.29H383.04V215.52H378.31zM42.7 215.52H52.16V220.75H42.7zM56.88 215.52H61.61V220.75H56.88zM146.69 215.52H151.42V220.75H146.69zM255.41 215.52H260.14V220.75H255.41zM297.95 215.52H302.68V220.75H297.95zM307.41 215.52H316.86V220.75H307.41zM321.59 215.52H335.77V220.75H321.59zM37.98 220.75H42.7V225.99H37.98zM56.88 220.75H61.61V225.99H56.88zM75.79 220.75H80.52V225.99H75.79zM113.61 220.75H118.33V225.99H113.61zM127.79 220.75H137.24V225.99H127.79zM146.69 220.75H151.42V225.99H146.69zM255.41 220.75H260.14V225.99H255.41zM326.32 220.75H331.04V225.99H326.32zM359.4 220.75H364.13V225.99H359.4zM378.31 220.75H383.04V225.99H378.31zM71.06 225.99H80.52V231.22H71.06zM127.79 225.99H137.24V231.22H127.79zM141.97 225.99H151.42V231.22H141.97zM227.05 225.99H231.78V231.22H227.05zM245.96 225.99H250.69V231.22H245.96zM255.41 225.99H260.14V231.22H255.41zM61.61 231.22H80.52V236.45H61.61zM89.97 231.22H94.7V236.45H89.97zM184.51 231.22H189.24V236.45H184.51zM260.14 231.22H264.87V236.45H260.14zM269.59 231.22H279.05V236.45H269.59zM316.86 231.22H321.59V236.45H316.86zM373.58 231.22H378.31V236.45H373.58zM30.25 236.45H37.98V241.68H30.25zM61.61 236.45H66.34V241.68H61.61zM75.79 236.45H80.52V241.68H75.79zM85.25 236.45H89.97V241.68H85.25zM132.51 236.45H146.69V241.68H132.51zM151.42 236.45H160.88V241.68H151.42zM245.96 236.45H250.69V241.68H245.96zM288.5 236.45H293.23V241.68H288.5zM316.86 236.45H321.59V241.68H316.86zM326.32 236.45H331.04V241.68H326.32zM30.25 241.68H37.98V246.91H30.25zM151.42 241.68H156.15V246.91H151.42zM212.87 241.68H217.6V246.91H212.87zM250.69 241.68H255.41V246.91H250.69zM264.87 241.68H269.59V246.91H264.87zM274.32 241.68H283.77V246.91H274.32zM312.14 241.68H316.86V246.91H312.14zM364.13 241.68H368.86V246.91H364.13zM89.97 246.91H94.7V252.15H89.97zM255.41 246.91H264.87V252.15H255.41zM293.23 246.91H297.95V252.15H293.23zM42.7 252.15H52.16V257.38H42.7zM66.34 252.15H71.06V257.38H66.34zM137.24 252.15H146.69V257.38H137.24zM193.96 252.15H198.69V257.38H193.96zM312.14 252.15H316.86V257.38H312.14zM321.59 252.15H326.32V257.38H321.59zM331.04 252.15H335.77V257.38H331.04zM340.5 252.15H345.22V257.38H340.5zM349.95 252.15H354.68V257.38H349.95zM373.58 252.15H378.31V257.38H373.58zM383.04 252.15H387.77V257.38H383.04zM392.49 252.15H406.67V257.38H392.49zM42.7 257.38H52.16V262.61H42.7zM56.88 257.38H61.61V262.61H56.88zM66.34 257.38H71.06V262.61H66.34zM85.25 257.38H89.97V262.61H85.25zM118.33 257.38H123.06V262.61H118.33zM274.32 257.38H288.5V262.61H274.32zM321.59 257.38H326.32V262.61H321.59zM335.77 257.38H345.22V262.61H335.77zM349.95 257.38H359.4V262.61H349.95zM397.22 257.38H401.95V262.61H397.22zM37.98 262.61H52.16V267.84H37.98zM56.88 262.61H61.61V267.84H56.88zM85.25 262.61H89.97V267.84H85.25zM104.15 262.61H108.88V267.84H104.15zM118.33 262.61H123.06V267.84H118.33zM151.42 262.61H156.15V267.84H151.42zM193.96 262.61H198.69V267.84H193.96zM212.87 262.61H217.6V267.84H212.87zM222.32 262.61H227.05V267.84H222.32zM274.32 262.61H288.5V267.84H274.32zM321.59 262.61H326.32V267.84H321.59zM349.95 262.61H354.68V267.84H349.95zM368.86 262.61H387.77V267.84H368.86zM123.06 267.84H127.79V273.08H123.06zM184.51 267.84H189.24V273.08H184.51zM227.05 267.84H231.78V273.08H227.05zM264.87 267.84H269.59V273.08H264.87zM335.77 267.84H340.5V273.08H335.77zM349.95 267.84H354.68V273.08H349.95zM378.31 267.84H383.04V273.08H378.31zM80.52 273.08H85.25V278.31H80.52zM99.43 273.08H104.15V278.31H99.43zM160.88 273.08H165.6V278.31H160.88zM179.78 273.08H184.51V278.31H179.78zM189.24 273.08H217.6V278.31H189.24zM231.78 273.08H236.51V278.31H231.78zM321.59 273.08H326.32V278.31H321.59zM331.04 273.08H335.77V278.31H331.04zM354.68 273.08H359.4V278.31H354.68zM368.86 273.08H378.31V278.31H368.86zM113.61 278.31H118.33V283.54H113.61zM127.79 278.31H132.51V283.54H127.79zM217.6 278.31H222.32V283.54H217.6zM231.78 278.31H236.51V283.54H231.78zM279.05 278.31H288.5V283.54H279.05zM293.23 278.31H312.14V283.54H293.23zM321.59 278.31H326.32V283.54H321.59zM151.42 283.54H156.15V288.77H151.42zM227.05 283.54H231.78V288.77H227.05zM250.69 283.54H255.41V288.77H250.69zM269.59 283.54H274.32V288.77H269.59zM406.67 283.54H414.4V288.77H406.67zM80.52 288.77H89.97V294.01H80.52zM99.43 288.77H104.15V294.01H99.43zM132.51 288.77H137.24V294.01H132.51zM141.97 288.77H151.42V294.01H141.97zM217.6 288.77H222.32V294.01H217.6zM264.87 288.77H269.59V294.01H264.87zM316.86 288.77H321.59V294.01H316.86zM71.06 294.01H80.52V299.24H71.06zM127.79 294.01H132.51V299.24H127.79zM141.97 294.01H146.69V299.24H141.97zM217.6 294.01H222.32V299.24H217.6zM227.05 294.01H231.78V299.24H227.05zM241.23 294.01H250.69V299.24H241.23zM307.41 294.01H312.14V299.24H307.41zM37.98 299.24H42.7V304.47H37.98zM52.16 299.24H56.88V304.47H52.16zM108.88 299.24H113.61V304.47H108.88zM137.24 299.24H141.97V304.47H137.24zM156.15 299.24H175.06V304.47H156.15zM179.78 299.24H184.51V304.47H179.78zM189.24 299.24H198.69V304.47H189.24zM227.05 299.24H231.78V304.47H227.05zM241.23 299.24H250.69V304.47H241.23zM260.14 299.24H264.87V304.47H260.14zM345.22 299.24H354.68V304.47H345.22zM378.31 299.24H383.04V304.47H378.31zM52.16 304.47H56.88V309.7H52.16zM99.43 304.47H104.15V309.7H99.43zM108.88 304.47H113.61V309.7H108.88zM137.24 304.47H141.97V309.7H137.24zM156.15 304.47H175.06V309.7H156.15zM179.78 304.47H198.69V309.7H179.78zM241.23 304.47H250.69V309.7H241.23zM260.14 304.47H264.87V309.7H260.14zM316.86 304.47H321.59V309.7H316.86zM345.22 304.47H349.95V309.7H345.22zM42.7 309.7H52.16V314.94H42.7zM80.52 309.7H89.97V314.94H80.52zM94.7 309.7H99.43V314.94H94.7zM151.42 309.7H156.15V314.94H151.42zM222.32 309.7H227.05V314.94H222.32zM364.13 309.7H368.86V314.94H364.13zM387.77 309.7H392.49V314.94H387.77zM397.22 309.7H401.95V314.94H397.22zM30.25 314.94H37.98V320.17H30.25zM85.25 314.94H89.97V320.17H85.25zM99.43 314.94H104.15V320.17H99.43zM123.06 314.94H127.79V320.17H123.06zM132.51 314.94H141.97V320.17H132.51zM165.6 314.94H175.06V320.17H165.6zM179.78 314.94H184.51V320.17H179.78zM189.24 314.94H193.96V320.17H189.24zM198.69 314.94H203.42V320.17H198.69zM231.78 314.94H236.51V320.17H231.78zM260.14 314.94H264.87V320.17H260.14zM312.14 314.94H316.86V320.17H312.14zM364.13 314.94H368.86V320.17H364.13zM30.25 320.17H37.98V325.4H30.25zM71.06 320.17H75.79V325.4H71.06zM80.52 320.17H85.25V325.4H80.52zM94.7 320.17H99.43V325.4H94.7zM108.88 320.17H113.61V325.4H108.88zM118.33 320.17H123.06V325.4H118.33zM165.6 320.17H170.33V325.4H165.6zM179.78 320.17H184.51V325.4H179.78zM189.24 320.17H193.96V325.4H189.24zM198.69 320.17H208.14V325.4H198.69zM260.14 320.17H264.87V325.4H260.14zM364.13 320.17H373.58V325.4H364.13zM397.22 320.17H401.95V325.4H397.22zM30.25 325.4H37.98V330.63H30.25zM99.43 325.4H104.15V330.63H99.43zM108.88 325.4H113.61V330.63H108.88zM123.06 325.4H127.79V330.63H123.06zM132.51 325.4H137.24V330.63H132.51zM170.33 325.4H175.06V330.63H170.33zM179.78 325.4H184.51V330.63H179.78zM189.24 325.4H193.96V330.63H189.24zM260.14 325.4H264.87V330.63H260.14zM42.7 330.63H52.16V335.87H42.7zM80.52 330.63H85.25V335.87H80.52zM89.97 330.63H94.7V335.87H89.97zM118.33 330.63H123.06V335.87H118.33zM151.42 330.63H156.15V335.87H151.42zM184.51 330.63H189.24V335.87H184.51zM203.42 330.63H208.14V335.87H203.42zM260.14 330.63H264.87V335.87H260.14zM274.32 330.63H279.05V335.87H274.32zM335.77 330.63H345.22V335.87H335.77zM349.95 330.63H359.4V335.87H349.95zM397.22 330.63H401.95V335.87H397.22zM42.7 335.87H52.16V341.1H42.7zM89.97 335.87H94.7V341.1H89.97zM203.42 335.87H208.14V341.1H203.42zM227.05 335.87H231.78V341.1H227.05zM236.51 335.87H241.23V341.1H236.51zM293.23 335.87H297.95V341.1H293.23zM387.77 335.87H392.49V341.1H387.77zM217.6 341.1H227.05V346.33H217.6zM269.59 341.1H274.32V346.33H269.59zM283.77 341.1H288.5V346.33H283.77zM387.77 341.1H392.49V346.33H387.77zM30.25 346.33H37.98V351.56H30.25zM75.79 346.33H80.52V351.56H75.79zM99.43 346.33H113.61V351.56H99.43zM123.06 346.33H127.79V351.56H123.06zM151.42 346.33H156.15V351.56H151.42zM203.42 346.33H208.14V351.56H203.42zM236.51 346.33H250.69V351.56H236.51zM255.41 346.33H264.87V351.56H255.41zM368.86 346.33H378.31V351.56H368.86zM30.25 351.56H37.98V356.8H30.25zM108.88 351.56H113.61V356.8H108.88zM123.06 351.56H127.79V356.8H123.06zM132.51 351.56H141.97V356.8H132.51zM151.42 351.56H156.15V356.8H151.42zM189.24 351.56H193.96V356.8H189.24zM203.42 351.56H212.87V356.8H203.42zM222.32 351.56H227.05V356.8H222.32zM364.13 351.56H368.86V356.8H364.13zM80.52 356.8H89.97V362.03H80.52zM132.51 356.8H141.97V362.03H132.51zM156.15 356.8H160.88V362.03H156.15zM198.69 356.8H208.14V362.03H198.69zM236.51 356.8H241.23V362.03H236.51zM255.41 356.8H260.14V362.03H255.41zM368.86 356.8H378.31V362.03H368.86zM75.79 362.03H89.97V367.26H75.79zM104.15 362.03H108.88V367.26H104.15zM241.23 362.03H245.96V367.26H241.23zM250.69 362.03H255.41V367.26H250.69zM307.41 362.03H312.14V367.26H307.41zM359.4 362.03H364.13V367.26H359.4zM75.79 367.26H85.25V372.49H75.79zM108.88 367.26H113.61V372.49H108.88zM132.51 367.26H137.24V372.49H132.51zM236.51 367.26H245.96V372.49H236.51zM307.41 367.26H312.14V372.49H307.41zM132.51 372.49H137.24V377.73H132.51zM160.88 372.49H165.6V377.73H160.88zM279.05 372.49H288.5V377.73H279.05zM373.58 372.49H378.31V377.73H373.58zM80.52 377.73H85.25V382.96H80.52zM108.88 377.73H113.61V382.96H108.88zM123.06 377.73H127.79V382.96H123.06zM132.51 377.73H137.24V382.96H132.51zM146.69 377.73H151.42V382.96H146.69zM236.51 377.73H255.41V382.96H236.51zM279.05 377.73H283.77V382.96H279.05zM307.41 377.73H312.14V382.96H307.41zM359.4 377.73H364.13V382.96H359.4zM75.79 382.96H89.97V388.19H75.79zM108.88 382.96H113.61V388.19H108.88zM132.51 382.96H137.24V388.19H132.51zM141.97 382.96H151.42V388.19H141.97zM241.23 382.96H245.96V388.19H241.23zM255.41 382.96H260.14V388.19H255.41zM307.41 382.96H312.14V388.19H307.41zM42.7 388.19H52.16V393.42H42.7zM75.79 388.19H85.25V393.42H75.79zM118.33 388.19H123.06V393.42H118.33zM151.42 388.19H160.88V393.42H151.42zM170.33 388.19H175.06V393.42H170.33zM184.51 388.19H193.96V393.42H184.51zM198.69 388.19H203.42V393.42H198.69zM208.14 388.19H212.87V393.42H208.14zM335.77 388.19H340.5V393.42H335.77zM349.95 388.19H354.68V393.42H349.95zM368.86 388.19H373.58V393.42H368.86zM383.04 388.19H387.77V393.42H383.04zM397.22 388.19H414.4V393.42H397.22zM56.88 393.42H66.34V398.66H56.88zM80.52 393.42H85.25V398.66H80.52zM89.97 393.42H94.7V398.66H89.97zM127.79 393.42H132.51V398.66H127.79zM227.05 393.42H231.78V398.66H227.05zM288.5 393.42H302.68V398.66H288.5zM326.32 393.42H331.04V398.66H326.32zM37.98 398.66H42.7V403.89H37.98zM52.16 398.66H56.88V403.89H52.16zM75.79 398.66H80.52V403.89H75.79zM89.97 398.66H94.7V403.89H89.97zM127.79 398.66H132.51V403.89H127.79zM245.96 398.66H250.69V403.89H245.96zM255.41 398.66H260.14V403.89H255.41zM297.95 398.66H302.68V403.89H297.95zM321.59 398.66H326.32V403.89H321.59zM331.04 398.66H335.77V403.89H331.04zM359.4 398.66H364.13V403.89H359.4zM406.67 398.66H414.4V403.89H406.67zM42.7 403.89H56.88V409.12H42.7zM127.79 403.89H132.51V409.12H127.79zM141.97 403.89H146.69V409.12H141.97zM156.15 403.89H160.88V409.12H156.15zM217.6 403.89H222.32V409.12H217.6zM236.51 403.89H241.23V409.12H236.51zM245.96 403.89H250.69V409.12H245.96zM255.41 403.89H260.14V409.12H255.41zM321.59 403.89H326.32V409.12H321.59zM331.04 403.89H335.77V409.12H331.04zM345.22 403.89H349.95V409.12H345.22zM378.31 403.89H383.04V409.12H378.31zM118.33 409.12H123.06V414.35H118.33zM146.69 409.12H156.15V414.35H146.69zM193.96 409.12H203.42V414.35H193.96zM208.14 409.12H212.87V414.35H208.14zM245.96 409.12H255.41V414.35H245.96zM279.05 409.12H283.77V414.35H279.05zM373.58 409.12H378.31V414.35H373.58zM75.79 414.35H85.25V419.59H75.79zM99.43 414.35H104.15V419.59H99.43zM132.51 414.35H137.24V419.59H132.51zM141.97 414.35H151.42V419.59H141.97zM236.51 414.35H241.23V419.59H236.51zM245.96 414.35H250.69V419.59H245.96zM359.4 414.35H364.13V419.59H359.4zM56.88 419.59H66.34V424.82H56.88zM71.06 419.59H85.25V424.82H71.06zM141.97 419.59H146.69V424.82H141.97zM288.5 419.59H293.23V424.82H288.5zM312.14 419.59H321.59V424.82H312.14zM392.49 419.59H397.22V424.82H392.49zM406.67 419.59H414.4V424.82H406.67zM94.7 424.82H104.15V430.05H94.7zM118.33 424.82H123.06V430.05H118.33zM132.51 424.82H141.97V430.05H132.51zM165.6 424.82H170.33V430.05H165.6zM236.51 424.82H241.23V430.05H236.51zM387.77 424.82H392.49V430.05H387.77zM52.16 430.05H71.06V435.28H52.16zM141.97 430.05H146.69V435.28H141.97zM236.51 430.05H245.96V435.28H236.51zM288.5 430.05H293.23V435.28H288.5zM297.95 430.05H302.68V435.28H297.95zM307.41 430.05H312.14V435.28H307.41zM359.4 430.05H364.13V435.28H359.4zM85.25 435.28H89.97V440.52H85.25zM94.7 435.28H99.43V440.52H94.7zM104.15 435.28H113.61V440.52H104.15zM132.51 435.28H137.24V440.52H132.51zM160.88 435.28H165.6V440.52H160.88zM236.51 435.28H241.23V440.52H236.51zM359.4 435.28H364.13V440.52H359.4zM56.88 440.52H61.61V448.75H56.88zM75.79 440.52H80.52V448.75H75.79zM85.25 440.52H99.43V448.75H85.25zM104.15 440.52H113.61V448.75H104.15zM118.33 440.52H123.06V448.75H118.33zM132.51 440.52H141.97V448.75H132.51zM151.42 440.52H156.15V448.75H151.42zM160.88 440.52H165.6V448.75H160.88zM193.96 440.52H198.69V448.75H193.96zM264.87 440.52H269.59V448.75H264.87zM359.4 440.52H364.13V448.75H359.4zM368.86 440.52H373.58V448.75H368.86zM387.77 440.52H392.49V448.75H387.77z"/>
<path fill="#67cc5c" d="M71.06 24.15H75.79V32.38H71.06zM203.42 48.08H208.14V53.31H203.42zM274.32 48.08H279.05V53.31H274.32zM123.06 58.55H127.79V63.78H123.06zM345.22 58.55H349.95V63.78H345.22zM307.41 63.78H312.14V69.01H307.41zM30.25 69.01H37.98V74.24H30.25zM316.86 69.01H321.59V74.24H316.86zM345.22 69.01H349.95V74.24H345.22zM364.13 69.01H373.58V74.24H364.13zM123.06 74.24H127.79V79.47H123.06zM345.22 79.47H349.95V84.71H345.22zM302.68 84.71H307.41V89.94H302.68zM392.49 84.71H401.95V89.94H392.49zM151.42 89.94H156.15V95.17H151.42zM175.06 95.17H179.78V100.41H175.06zM217.6 95.17H222.32V100.41H217.6zM307.41 95.17H312.14V100.41H307.41zM359.4 95.17H364.13V100.41H359.4zM288.5 100.41H293.23V105.64H288.5zM335.77 100.41H340.5V105.64H335.77zM326.32 105.64H331.04V110.87H326.32zM345.22 105.64H349.95V110.87H345.22zM392.49 105.64H397.22V110.87H392.49zM141.97 110.87H151.42V116.1H141.97zM217.6 110.87H222.32V116.1H217.6zM288.5 110.87H293.23V116.1H288.5zM307.41 110.87H312.14V116.1H307.41zM345.22 110.87H349.95V116.1H345.22zM359.4 110.87H364.13V116.1H359.4zM368.86 116.1H373.58V121.34H368.86zM61.61 126.57H66.34V131.8H61.61zM75.79 126.57H80.52V131.8H75.79zM184.51 137.03H189.24V142.26H184.51zM108.88 147.5H113.61V152.73H108.88zM108.88 152.73H113.61V157.96H108.88zM89.97 157.96H94.7V163.19H89.97zM175.06 168.43H179.78V173.66H175.06zM217.6 168.43H222.32V173.66H217.6zM288.5 168.43H293.23V173.66H288.5zM307.41 168.43H312.14V173.66H307.41zM359.4 168.43H364.13V173.66H359.4zM288.5 178.89H293.23V184.12H288.5zM94.7 184.12H99.43V189.36H94.7zM160.88 184.12H165.6V189.36H160.88zM198.69 184.12H203.42V189.36H198.69zM208.14 184.12H212.87V189.36H208.14zM260.14 184.12H264.87V189.36H260.14zM274.32 184.12H279.05V189.36H274.32zM354.68 184.12H359.4V189.36H354.68zM364.13 184.12H373.58V189.36H364.13zM387.77 184.12H392.49V189.36H387.77zM288.5 189.36H293.23V194.59H288.5zM307.41 189.36H312.14V194.59H307.41zM132.51 194.59H137.24V199.82H132.51zM316.86 194.59H321.59V199.82H316.86zM288.5 199.82H293.23V205.06H288.5zM307.41 199.82H312.14V205.06H307.41zM227.05 205.06H231.78V210.29H227.05zM288.5 205.06H293.23V210.29H288.5zM175.06 210.29H179.78V215.52H175.06zM288.5 210.29H293.23V215.52H288.5zM52.16 215.52H56.88V220.75H52.16zM401.95 215.52H406.67V220.75H401.95zM175.06 220.75H179.78V225.99H175.06zM288.5 220.75H293.23V225.99H288.5zM401.95 220.75H406.67V225.99H401.95zM288.5 225.99H293.23V231.22H288.5zM307.41 225.99H312.14V231.22H307.41zM401.95 225.99H406.67V231.22H401.95zM94.7 231.22H99.43V236.45H94.7zM108.88 231.22H113.61V236.45H108.88zM160.88 231.22H165.6V236.45H160.88zM193.96 241.68H198.69V246.91H193.96zM175.06 278.31H179.78V283.54H175.06zM288.5 278.31H293.23V283.54H288.5zM52.16 294.01H56.88V299.24H52.16zM175.06 294.01H179.78V299.24H175.06zM406.67 294.01H414.4V299.24H406.67zM99.43 309.7H104.15V314.94H99.43zM108.88 309.7H113.61V314.94H108.88zM160.88 309.7H165.6V314.94H160.88zM170.33 309.7H175.06V314.94H170.33zM179.78 309.7H184.51V314.94H179.78zM189.24 309.7H203.42V314.94H189.24zM208.14 309.7H217.6V314.94H208.14zM260.14 309.7H264.87V314.94H260.14zM368.86 309.7H373.58V314.94H368.86zM368.86 314.94H373.58V320.17H368.86zM85.25 325.4H89.97V330.63H85.25zM368.86 325.4H373.58V330.63H368.86zM66.34 330.63H71.06V335.87H66.34zM94.7 330.63H99.43V335.87H94.7zM108.88 330.63H113.61V335.87H108.88zM160.88 330.63H165.6V335.87H160.88zM179.78 330.63H184.51V335.87H179.78zM189.24 330.63H193.96V335.87H189.24zM212.87 330.63H217.6V335.87H212.87zM71.06 341.1H75.79V346.33H71.06zM184.51 341.1H189.24V346.33H184.51zM340.5 341.1H345.22V346.33H340.5zM354.68 341.1H359.4V346.33H354.68zM378.31 341.1H387.77V346.33H378.31zM401.95 341.1H414.4V346.33H401.95zM104.15 351.56H108.88V356.8H104.15zM368.86 351.56H373.58V356.8H368.86zM99.43 362.03H104.15V367.26H99.43zM316.86 367.26H321.59V372.49H316.86zM61.61 372.49H66.34V377.73H61.61zM71.06 372.49H75.79V377.73H71.06zM80.52 372.49H85.25V377.73H80.52zM104.15 372.49H113.61V377.73H104.15zM175.06 382.96H179.78V388.19H175.06zM316.86 382.96H321.59V388.19H316.86zM94.7 388.19H99.43V393.42H94.7zM108.88 388.19H113.61V393.42H108.88zM160.88 388.19H165.6V393.42H160.88zM71.06 393.42H75.79V398.66H71.06zM175.06 393.42H179.78V398.66H175.06zM71.06 398.66H75.79V403.89H71.06zM113.61 398.66H118.33V403.89H113.61zM175.06 398.66H179.78V403.89H175.06zM288.5 398.66H297.95V403.89H288.5zM302.68 398.66H307.41V403.89H302.68zM326.32 398.66H331.04V403.89H326.32zM392.49 398.66H397.22V403.89H392.49zM401.95 398.66H406.67V403.89H401.95zM392.49 403.89H397.22V409.12H392.49zM316.86 409.12H321.59V414.35H316.86zM316.86 414.35H321.59V419.59H316.86zM175.06 419.59H179.78V424.82H175.06zM401.95 419.59H406.67V424.82H401.95zM85.25 424.82H89.97V430.05H85.25zM104.15 424.82H108.88V430.05H104.15zM368.86 424.82H378.31V430.05H368.86zM85.25 430.05H89.97V435.28H85.25zM203.42 435.28H217.6V440.52H203.42zM316.86 435.28H321.59V440.52H316.86zM368.86 435.28H373.58V440.52H368.86zM387.77 435.28H392.49V440.52H387.77zM274.32 440.52H279.05V448.75H274.32zM316.86 440.52H321.59V448.75H316.86z"/>
<path fill="#375a8c" d="M123.06 24.15H127.79V32.38H123.06zM345.22 24.15H349.95V32.38H345.22zM359.4 24.15H364.13V32.38H359.4zM222.32 32.38H227.05V37.61H222.32zM137.24 37.61H141.97V42.85H137.24zM146.69 37.61H151.42V42.85H146.69zM146.69 42.85H151.42V48.08H146.69zM255.41 42.85H260.14V48.08H255.41zM137.24 48.08H141.97V53.31H137.24zM137.24 53.31H141.97V58.55H137.24zM146.69 53.31H151.42V58.55H146.69zM156.15 53.31H160.88V58.55H156.15zM231.78 53.31H236.51V58.55H231.78zM118.33 58.55H123.06V63.78H118.33zM279.05 58.55H288.5V63.78H279.05zM85.25 63.78H89.97V69.01H85.25zM118.33 63.78H123.06V69.01H118.33zM279.05 63.78H288.5V69.01H279.05zM89.97 69.01H94.7V74.24H89.97zM227.05 69.01H231.78V74.24H227.05zM302.68 69.01H307.41V74.24H302.68zM326.32 69.01H331.04V74.24H326.32zM401.95 69.01H406.67V74.24H401.95zM132.51 74.24H137.24V79.47H132.51zM108.88 79.47H113.61V84.71H108.88zM66.34 84.71H71.06V89.94H66.34zM373.58 84.71H378.31V89.94H373.58zM71.06 89.94H75.79V95.17H71.06zM189.24 95.17H193.96V100.41H189.24zM198.69 95.17H203.42V100.41H198.69zM104.15 100.41H108.88V105.64H104.15zM99.43 105.64H104.15V110.87H99.43zM108.88 105.64H113.61V110.87H108.88zM80.52 110.87H85.25V116.1H80.52zM104.15 110.87H108.88V116.1H104.15zM227.05 116.1H231.78V121.34H227.05zM293.23 116.1H297.95V121.34H293.23zM302.68 116.1H307.41V121.34H302.68zM326.32 116.1H331.04V121.34H326.32zM61.61 121.34H71.06V126.57H61.61zM30.25 126.57H37.98V131.8H30.25zM345.22 126.57H349.95V131.8H345.22zM75.79 137.03H80.52V142.26H75.79zM42.7 142.26H47.43V147.5H42.7zM52.16 142.26H61.61V147.5H52.16zM146.69 142.26H151.42V147.5H146.69zM156.15 147.5H160.88V152.73H156.15zM42.7 152.73H52.16V157.96H42.7zM56.88 152.73H61.61V157.96H56.88zM137.24 152.73H141.97V157.96H137.24zM156.15 152.73H160.88V157.96H156.15zM56.88 163.19H61.61V168.43H56.88zM141.97 163.19H151.42V168.43H141.97zM255.41 163.19H260.14V168.43H255.41zM184.51 168.43H189.24V173.66H184.51zM193.96 168.43H198.69V173.66H193.96zM203.42 168.43H208.14V173.66H203.42zM274.32 168.43H279.05V173.66H274.32zM179.78 178.89H184.51V184.12H179.78zM198.69 178.89H217.6V184.12H198.69zM170.33 189.36H175.06V194.59H170.33zM274.32 189.36H279.05V194.59H274.32zM368.86 189.36H373.58V194.59H368.86zM160.88 194.59H165.6V199.82H160.88zM94.7 199.82H99.43V205.06H94.7zM212.87 199.82H217.6V205.06H212.87zM260.14 199.82H264.87V205.06H260.14zM274.32 199.82H279.05V205.06H274.32zM160.88 205.06H165.6V210.29H160.88zM368.86 205.06H373.58V210.29H368.86zM94.7 210.29H99.43V215.52H94.7zM170.33 210.29H175.06V215.52H170.33zM260.14 210.29H264.87V215.52H260.14zM364.13 210.29H373.58V215.52H364.13zM387.77 210.29H392.49V215.52H387.77zM160.88 215.52H165.6V220.75H160.88zM170.33 215.52H175.06V220.75H170.33zM212.87 215.52H217.6V220.75H212.87zM170.33 220.75H175.06V225.99H170.33zM364.13 220.75H373.58V225.99H364.13zM387.77 220.75H392.49V225.99H387.77zM170.33 225.99H175.06V231.22H170.33zM189.24 225.99H193.96V231.22H189.24zM203.42 225.99H208.14V231.22H203.42zM368.86 225.99H373.58V231.22H368.86zM37.98 236.45H42.7V241.68H37.98zM71.06 241.68H75.79V246.91H71.06zM113.61 241.68H118.33V246.91H113.61zM326.32 241.68H331.04V246.91H326.32zM56.88 246.91H61.61V252.15H56.88zM316.86 267.84H321.59V273.08H316.86zM47.43 273.08H52.16V278.31H47.43zM156.15 273.08H160.88V278.31H156.15zM189.24 278.31H193.96V283.54H189.24zM198.69 278.31H203.42V283.54H198.69zM274.32 278.31H279.05V283.54H274.32zM387.77 278.31H392.49V283.54H387.77zM160.88 294.01H165.6V299.24H160.88zM179.78 294.01H184.51V299.24H179.78zM189.24 294.01H193.96V299.24H189.24zM260.14 294.01H264.87V299.24H260.14zM364.13 294.01H368.86V299.24H364.13zM61.61 299.24H71.06V304.47H61.61zM61.61 304.47H71.06V309.7H61.61zM293.23 304.47H297.95V309.7H293.23zM293.23 309.7H297.95V314.94H293.23zM307.41 309.7H312.14V314.94H307.41zM113.61 314.94H118.33V320.17H113.61zM283.77 314.94H293.23V320.17H283.77zM302.68 314.94H307.41V320.17H302.68zM331.04 314.94H335.77V320.17H331.04zM71.06 325.4H75.79V330.63H71.06zM113.61 325.4H118.33V330.63H113.61zM293.23 325.4H297.95V330.63H293.23zM321.59 325.4H326.32V330.63H321.59zM288.5 330.63H293.23V335.87H288.5zM345.22 330.63H349.95V335.87H345.22zM250.69 341.1H255.41V346.33H250.69zM302.68 346.33H307.41V351.56H302.68zM335.77 346.33H345.22V351.56H335.77zM354.68 346.33H359.4V351.56H354.68zM71.06 351.56H75.79V356.8H71.06zM113.61 351.56H118.33V356.8H113.61zM227.05 351.56H231.78V356.8H227.05zM331.04 351.56H335.77V356.8H331.04zM349.95 351.56H354.68V356.8H349.95zM392.49 351.56H397.22V356.8H392.49zM293.23 356.8H297.95V362.03H293.23zM326.32 356.8H331.04V362.03H326.32zM335.77 356.8H345.22V362.03H335.77zM349.95 356.8H359.4V362.03H349.95zM321.59 362.03H326.32V367.26H321.59zM331.04 362.03H335.77V367.26H331.04zM340.5 362.03H345.22V367.26H340.5zM383.04 362.03H387.77V367.26H383.04zM321.59 367.26H326.32V372.49H321.59zM331.04 367.26H340.5V372.49H331.04zM30.25 372.49H37.98V377.73H30.25zM123.06 372.49H127.79V377.73H123.06zM307.41 372.49H312.14V377.73H307.41zM359.4 372.49H364.13V377.73H359.4zM326.32 377.73H335.77V382.96H326.32zM321.59 382.96H326.32V388.19H321.59zM331.04 382.96H335.77V388.19H331.04zM387.77 382.96H392.49V388.19H387.77zM30.25 388.19H37.98V393.42H30.25zM345.22 388.19H349.95V393.42H345.22zM198.69 393.42H203.42V398.66H198.69zM208.14 393.42H212.87V398.66H208.14zM274.32 393.42H279.05V398.66H274.32zM387.77 393.42H392.49V398.66H387.77zM179.78 398.66H184.51V403.89H179.78zM193.96 398.66H203.42V403.89H193.96zM208.14 398.66H217.6V403.89H208.14zM85.25 403.89H89.97V409.12H85.25zM335.77 414.35H340.5V419.59H335.77zM198.69 419.59H203.42V424.82H198.69zM208.14 419.59H212.87V424.82H208.14zM260.14 419.59H264.87V424.82H260.14zM354.68 419.59H359.4V424.82H354.68zM364.13 419.59H368.86V424.82H364.13zM326.32 424.82H331.04V430.05H326.32zM401.95 424.82H414.4V430.05H401.95zM71.06 435.28H75.79V440.52H71.06zM392.49 435.28H397.22V440.52H392.49zM392.49 440.52H397.22V448.75H392.49z"/>
<path fill="#1f988b" d="M127.79 24.15H137.24V32.38H127.79zM165.6 24.15H170.33V32.38H165.6zM198.69 24.15H208.14V32.38H198.69zM231.78 24.15H236.51V32.38H231.78zM241.23 24.15H245.96V32.38H241.23zM260.14 24.15H269.59V32.38H260.14zM316.86 24.15H321.59V32.38H316.86zM368.86 24.15H373.58V32.38H368.86zM383.04 24.15H387.77V32.38H383.04zM75.79 32.38H80.52V37.61H75.79zM113.61 32.38H118.33V37.61H113.61zM137.24 32.38H141.97V37.61H137.24zM146.69 32.38H151.42V37.61H146.69zM160.88 32.38H165.6V37.61H160.88zM231.78 32.38H241.23V37.61H231.78zM250.69 32.38H255.41V37.61H250.69zM260.14 32.38H264.87V37.61H260.14zM269.59 32.38H274.32V37.61H269.59zM288.5 32.38H293.23V37.61H288.5zM297.95 32.38H302.68V37.61H297.95zM307.41 32.38H312.14V37.61H307.41zM335.77 32.38H340.5V37.61H335.77zM345.22 32.38H349.95V37.61H345.22zM354.68 32.38H359.4V37.61H354.68zM383.04 32.38H392.49V37.61H383.04zM406.67 32.38H414.4V37.61H406.67zM61.61 37.61H71.06V42.85H61.61zM75.79 37.61H80.52V42.85H75.79zM160.88 37.61H165.6V42.85H160.88zM184.51 37.61H189.24V42.85H184.51zM212.87 37.61H217.6V42.85H212.87zM297.95 37.61H307.41V42.85H297.95zM316.86 37.61H321.59V42.85H316.86zM331.04 37.61H335.77V42.85H331.04zM349.95 37.61H359.4V42.85H349.95zM378.31 37.61H397.22V42.85H378.31zM61.61 42.85H71.06V48.08H61.61zM75.79 42.85H80.52V48.08H75.79zM160.88 42.85H165.6V48.08H160.88zM297.95 42.85H307.41V48.08H297.95zM316.86 42.85H321.59V48.08H316.86zM331.04 42.85H340.5V48.08H331.04zM349.95 42.85H359.4V48.08H349.95zM378.31 42.85H397.22V48.08H378.31zM61.61 48.08H71.06V53.31H61.61zM85.25 48.08H89.97V53.31H85.25zM113.61 48.08H118.33V53.31H113.61zM127.79 48.08H132.51V53.31H127.79zM175.06 48.08H179.78V53.31H175.06zM184.51 48.08H189.24V53.31H184.51zM193.96 48.08H198.69V53.31H193.96zM250.69 48.08H255.41V53.31H250.69zM260.14 48.08H264.87V53.31H260.14zM288.5 48.08H297.95V53.31H288.5zM331.04 48.08H354.68V53.31H331.04zM378.31 48.08H387.77V53.31H378.31zM406.67 48.08H414.4V53.31H406.67zM66.34 53.31H75.79V58.55H66.34zM85.25 53.31H89.97V58.55H85.25zM132.51 53.31H137.24V58.55H132.51zM175.06 53.31H189.24V58.55H175.06zM227.05 53.31H231.78V58.55H227.05zM260.14 53.31H269.59V58.55H260.14zM279.05 53.31H288.5V58.55H279.05zM316.86 53.31H321.59V58.55H316.86zM331.04 53.31H340.5V58.55H331.04zM354.68 53.31H359.4V58.55H354.68zM42.7 58.55H56.88V63.78H42.7zM85.25 58.55H89.97V63.78H85.25zM104.15 58.55H113.61V63.78H104.15zM132.51 58.55H137.24V63.78H132.51zM151.42 58.55H184.51V63.78H151.42zM198.69 58.55H203.42V63.78H198.69zM227.05 58.55H231.78V63.78H227.05zM241.23 58.55H245.96V63.78H241.23zM250.69 58.55H255.41V63.78H250.69zM264.87 58.55H269.59V63.78H264.87zM274.32 58.55H279.05V63.78H274.32zM288.5 58.55H293.23V63.78H288.5zM302.68 58.55H307.41V63.78H302.68zM312.14 58.55H316.86V63.78H312.14zM349.95 58.55H354.68V63.78H349.95zM42.7 63.78H61.61V69.01H42.7zM80.52 63.78H85.25V69.01H80.52zM94.7 63.78H104.15V69.01H94.7zM108.88 63.78H113.61V69.01H108.88zM137.24 63.78H146.69V69.01H137.24zM175.06 63.78H179.78V69.01H175.06zM189.24 63.78H193.96V69.01H189.24zM250.69 63.78H255.41V69.01H250.69zM260.14 63.78H269.59V69.01H260.14zM331.04 63.78H340.5V69.01H331.04zM364.13 63.78H368.86V69.01H364.13zM401.95 63.78H414.4V69.01H401.95zM56.88 69.01H61.61V74.24H56.88zM104.15 69.01H108.88V74.24H104.15zM132.51 69.01H141.97V74.24H132.51zM165.6 69.01H170.33V74.24H165.6zM175.06 69.01H179.78V74.24H175.06zM222.32 69.01H227.05V74.24H222.32zM236.51 69.01H250.69V74.24H236.51zM255.41 69.01H260.14V74.24H255.41zM269.59 69.01H274.32V74.24H269.59zM283.77 69.01H293.23V74.24H283.77zM354.68 69.01H359.4V74.24H354.68zM397.22 69.01H401.95V74.24H397.22zM406.67 69.01H414.4V74.24H406.67zM37.98 74.24H52.16V79.47H37.98zM80.52 74.24H85.25V79.47H80.52zM137.24 74.24H141.97V79.47H137.24zM156.15 74.24H165.6V79.47H156.15zM175.06 74.24H179.78V79.47H175.06zM227.05 74.24H231.78V79.47H227.05zM279.05 74.24H288.5V79.47H279.05zM293.23 74.24H297.95V79.47H293.23zM302.68 74.24H307.41V79.47H302.68zM312.14 74.24H316.86V79.47H312.14zM326.32 74.24H331.04V79.47H326.32zM373.58 74.24H378.31V79.47H373.58zM401.95 74.24H406.67V79.47H401.95zM66.34 79.47H71.06V84.71H66.34zM75.79 79.47H80.52V84.71H75.79zM85.25 79.47H89.97V84.71H85.25zM193.96 79.47H203.42V84.71H193.96zM208.14 79.47H212.87V84.71H208.14zM250.69 79.47H255.41V84.71H250.69zM312.14 79.47H321.59V84.71H312.14zM397.22 79.47H414.4V84.71H397.22zM52.16 84.71H66.34V89.94H52.16zM80.52 84.71H85.25V89.94H80.52zM89.97 84.71H94.7V89.94H89.97zM118.33 84.71H123.06V89.94H118.33zM127.79 84.71H132.51V89.94H127.79zM146.69 84.71H151.42V89.94H146.69zM160.88 84.71H165.6V89.94H160.88zM170.33 84.71H179.78V89.94H170.33zM208.14 84.71H217.6V89.94H208.14zM231.78 84.71H236.51V89.94H231.78zM250.69 84.71H255.41V89.94H250.69zM274.32 84.71H279.05V89.94H274.32zM283.77 84.71H288.5V89.94H283.77zM340.5 84.71H345.22V89.94H340.5zM85.25 89.94H89.97V95.17H85.25zM165.6 89.94H170.33V95.17H165.6zM208.14 89.94H217.6V95.17H208.14zM222.32 89.94H227.05V95.17H222.32zM250.69 89.94H255.41V95.17H250.69zM260.14 89.94H264.87V95.17H260.14zM269.59 89.94H279.05V95.17H269.59zM378.31 89.94H383.04V95.17H378.31zM387.77 89.94H397.22V95.17H387.77zM401.95 89.94H406.67V95.17H401.95zM66.34 95.17H71.06V100.41H66.34zM113.61 95.17H118.33V100.41H113.61zM156.15 95.17H160.88V100.41H156.15zM165.6 95.17H170.33V100.41H165.6zM184.51 95.17H189.24V100.41H184.51zM193.96 95.17H198.69V100.41H193.96zM255.41 95.17H260.14V100.41H255.41zM264.87 95.17H269.59V100.41H264.87zM279.05 95.17H288.5V100.41H279.05zM293.23 95.17H297.95V100.41H293.23zM316.86 95.17H331.04V100.41H316.86zM340.5 95.17H345.22V100.41H340.5zM373.58 95.17H383.04V100.41H373.58zM397.22 95.17H401.95V100.41H397.22zM66.34 100.41H71.06V105.64H66.34zM113.61 100.41H123.06V105.64H113.61zM132.51 100.41H137.24V105.64H132.51zM165.6 100.41H170.33V105.64H165.6zM179.78 100.41H189.24V105.64H179.78zM193.96 100.41H208.14V105.64H193.96zM212.87 100.41H217.6V105.64H212.87zM260.14 100.41H264.87V105.64H260.14zM312.14 100.41H316.86V105.64H312.14zM61.61 105.64H66.34V110.87H61.61zM71.06 105.64H75.79V110.87H71.06zM118.33 105.64H123.06V110.87H118.33zM184.51 105.64H189.24V110.87H184.51zM203.42 105.64H208.14V110.87H203.42zM297.95 105.64H302.68V110.87H297.95zM312.14 105.64H316.86V110.87H312.14zM340.5 105.64H345.22V110.87H340.5zM364.13 105.64H368.86V110.87H364.13zM61.61 110.87H71.06V116.1H61.61zM113.61 110.87H123.06V116.1H113.61zM127.79 110.87H132.51V116.1H127.79zM165.6 110.87H170.33V116.1H165.6zM175.06 110.87H179.78V116.1H175.06zM184.51 110.87H189.24V116.1H184.51zM245.96 110.87H250.69V116.1H245.96zM274.32 110.87H279.05V116.1H274.32zM312.14 110.87H316.86V116.1H312.14zM368.86 110.87H373.58V116.1H368.86zM37.98 116.1H42.7V121.34H37.98zM52.16 116.1H56.88V121.34H52.16zM94.7 116.1H104.15V121.34H94.7zM108.88 116.1H113.61V121.34H108.88zM118.33 116.1H123.06V121.34H118.33zM141.97 116.1H146.69V121.34H141.97zM203.42 116.1H208.14V121.34H203.42zM222.32 116.1H227.05V121.34H222.32zM269.59 116.1H274.32V121.34H269.59zM279.05 116.1H283.77V121.34H279.05zM340.5 116.1H349.95V121.34H340.5zM354.68 116.1H364.13V121.34H354.68zM397.22 116.1H401.95V121.34H397.22zM85.25 121.34H89.97V126.57H85.25zM99.43 121.34H118.33V126.57H99.43zM132.51 121.34H137.24V126.57H132.51zM146.69 121.34H151.42V126.57H146.69zM160.88 121.34H165.6V126.57H160.88zM170.33 121.34H175.06V126.57H170.33zM179.78 121.34H184.51V126.57H179.78zM189.24 121.34H198.69V126.57H189.24zM236.51 121.34H241.23V126.57H236.51zM260.14 121.34H274.32V126.57H260.14zM288.5 121.34H293.23V126.57H288.5zM349.95 121.34H354.68V126.57H349.95zM368.86 121.34H378.31V126.57H368.86zM387.77 121.34H392.49V126.57H387.77zM165.6 126.57H175.06V131.8H165.6zM198.69 126.57H203.42V131.8H198.69zM208.14 126.57H217.6V131.8H208.14zM231.78 126.57H236.51V131.8H231.78zM241.23 126.57H245.96V131.8H241.23zM264.87 126.57H279.05V131.8H264.87zM288.5 126.57H293.23V131.8H288.5zM316.86 126.57H321.59V131.8H316.86zM340.5 126.57H345.22V131.8H340.5zM354.68 126.57H359.4V131.8H354.68zM373.58 126.57H378.31V131.8H373.58zM383.04 126.57H392.49V131.8H383.04zM397.22 126.57H401.95V131.8H397.22zM406.67 126.57H414.4V131.8H406.67zM30.25 131.8H37.98V137.03H30.25zM52.16 131.8H56.88V137.03H52.16zM85.25 131.8H89.97V137.03H85.25zM108.88 131.8H113.61V137.03H108.88zM175.06 131.8H179.78V137.03H175.06zM217.6 131.8H222.32V137.03H217.6zM255.41 131.8H260.14V137.03H255.41zM307.41 131.8H316.86V137.03H307.41zM335.77 131.8H340.5V137.03H335.77zM345.22 131.8H349.95V137.03H345.22zM406.67 131.8H414.4V137.03H406.67zM30.25 137.03H37.98V142.26H30.25zM56.88 137.03H66.34V142.26H56.88zM71.06 137.03H75.79V142.26H71.06zM99.43 137.03H104.15V142.26H99.43zM118.33 137.03H123.06V142.26H118.33zM175.06 137.03H179.78V142.26H175.06zM231.78 137.03H236.51V142.26H231.78zM245.96 137.03H250.69V142.26H245.96zM279.05 137.03H283.77V142.26H279.05zM297.95 137.03H302.68V142.26H297.95zM312.14 137.03H316.86V142.26H312.14zM378.31 137.03H383.04V142.26H378.31zM37.98 142.26H42.7V147.5H37.98zM66.34 142.26H80.52V147.5H66.34zM170.33 142.26H175.06V147.5H170.33zM193.96 142.26H217.6V147.5H193.96zM227.05 142.26H231.78V147.5H227.05zM274.32 142.26H279.05V147.5H274.32zM297.95 142.26H302.68V147.5H297.95zM316.86 142.26H326.32V147.5H316.86zM373.58 142.26H378.31V147.5H373.58zM387.77 142.26H392.49V147.5H387.77zM401.95 142.26H406.67V147.5H401.95zM66.34 147.5H71.06V152.73H66.34zM113.61 147.5H118.33V152.73H113.61zM175.06 147.5H179.78V152.73H175.06zM217.6 147.5H222.32V152.73H217.6zM245.96 147.5H255.41V152.73H245.96zM260.14 147.5H269.59V152.73H260.14zM279.05 147.5H288.5V152.73H279.05zM307.41 147.5H312.14V152.73H307.41zM335.77 147.5H354.68V152.73H335.77zM392.49 147.5H397.22V152.73H392.49zM37.98 152.73H42.7V157.96H37.98zM85.25 152.73H89.97V157.96H85.25zM118.33 152.73H123.06V157.96H118.33zM175.06 152.73H179.78V157.96H175.06zM217.6 152.73H222.32V157.96H217.6zM227.05 152.73H231.78V157.96H227.05zM241.23 152.73H255.41V157.96H241.23zM260.14 152.73H269.59V157.96H260.14zM293.23 152.73H312.14V157.96H293.23zM321.59 152.73H326.32V157.96H321.59zM331.04 152.73H340.5V157.96H331.04zM359.4 152.73H364.13V157.96H359.4zM392.49 152.73H397.22V157.96H392.49zM61.61 157.96H66.34V163.19H61.61zM160.88 157.96H165.6V163.19H160.88zM170.33 157.96H175.06V163.19H170.33zM198.69 157.96H208.14V163.19H198.69zM231.78 157.96H236.51V163.19H231.78zM260.14 157.96H264.87V163.19H260.14zM274.32 157.96H279.05V163.19H274.32zM335.77 157.96H340.5V163.19H335.77zM373.58 157.96H378.31V163.19H373.58zM387.77 157.96H392.49V163.19H387.77zM61.61 163.19H66.34V168.43H61.61zM75.79 163.19H80.52V168.43H75.79zM94.7 163.19H99.43V168.43H94.7zM160.88 163.19H175.06V168.43H160.88zM179.78 163.19H193.96V168.43H179.78zM231.78 163.19H236.51V168.43H231.78zM241.23 163.19H250.69V168.43H241.23zM269.59 163.19H279.05V168.43H269.59zM297.95 163.19H307.41V168.43H297.95zM316.86 163.19H331.04V168.43H316.86zM335.77 163.19H340.5V168.43H335.77zM364.13 163.19H373.58V168.43H364.13zM387.77 163.19H406.67V168.43H387.77zM37.98 168.43H52.16V173.66H37.98zM61.61 168.43H66.34V173.66H61.61zM75.79 168.43H80.52V173.66H75.79zM85.25 168.43H89.97V173.66H85.25zM118.33 168.43H123.06V173.66H118.33zM151.42 168.43H160.88V173.66H151.42zM227.05 168.43H231.78V173.66H227.05zM241.23 168.43H245.96V173.66H241.23zM297.95 168.43H302.68V173.66H297.95zM316.86 168.43H321.59V173.66H316.86zM30.25 173.66H37.98V178.89H30.25zM61.61 173.66H66.34V178.89H61.61zM71.06 173.66H75.79V178.89H71.06zM89.97 173.66H104.15V178.89H89.97zM108.88 173.66H113.61V178.89H108.88zM123.06 173.66H127.79V178.89H123.06zM156.15 173.66H160.88V178.89H156.15zM269.59 173.66H274.32V178.89H269.59zM316.86 173.66H321.59V178.89H316.86zM335.77 173.66H340.5V178.89H335.77zM349.95 173.66H364.13V178.89H349.95zM383.04 173.66H387.77V178.89H383.04zM406.67 173.66H414.4V178.89H406.67zM61.61 178.89H66.34V184.12H61.61zM85.25 178.89H89.97V184.12H85.25zM118.33 178.89H127.79V184.12H118.33zM137.24 178.89H141.97V184.12H137.24zM151.42 178.89H160.88V184.12H151.42zM222.32 178.89H227.05V184.12H222.32zM245.96 178.89H250.69V184.12H245.96zM264.87 178.89H274.32V184.12H264.87zM312.14 178.89H316.86V184.12H312.14zM349.95 178.89H354.68V184.12H349.95zM383.04 178.89H387.77V184.12H383.04zM52.16 184.12H80.52V189.36H52.16zM85.25 184.12H89.97V189.36H85.25zM108.88 184.12H113.61V189.36H108.88zM127.79 184.12H137.24V189.36H127.79zM141.97 184.12H151.42V189.36H141.97zM217.6 184.12H227.05V189.36H217.6zM231.78 184.12H250.69V189.36H231.78zM255.41 184.12H260.14V189.36H255.41zM264.87 184.12H274.32V189.36H264.87zM279.05 184.12H293.23V189.36H279.05zM297.95 184.12H312.14V189.36H297.95zM316.86 184.12H321.59V189.36H316.86zM359.4 184.12H364.13V189.36H359.4zM397.22 184.12H401.95V189.36H397.22zM56.88 189.36H66.34V194.59H56.88zM99.43 189.36H104.15V194.59H99.43zM118.33 189.36H123.06V194.59H118.33zM156.15 189.36H160.88V194.59H156.15zM241.23 189.36H245.96V194.59H241.23zM316.86 189.36H321.59V194.59H316.86zM331.04 189.36H335.77V194.59H331.04zM345.22 189.36H349.95V194.59H345.22zM42.7 194.59H47.43V199.82H42.7zM52.16 194.59H61.61V199.82H52.16zM94.7 194.59H113.61V199.82H94.7zM156.15 194.59H160.88V199.82H156.15zM245.96 194.59H250.69V199.82H245.96zM260.14 194.59H279.05V199.82H260.14zM293.23 194.59H302.68V199.82H293.23zM312.14 194.59H316.86V199.82H312.14zM331.04 194.59H335.77V199.82H331.04zM345.22 194.59H349.95V199.82H345.22zM397.22 194.59H401.95V199.82H397.22zM406.67 194.59H414.4V199.82H406.67zM66.34 199.82H71.06V205.06H66.34zM118.33 199.82H123.06V205.06H118.33zM156.15 199.82H160.88V205.06H156.15zM227.05 199.82H231.78V205.06H227.05zM245.96 199.82H250.69V205.06H245.96zM264.87 199.82H269.59V205.06H264.87zM316.86 199.82H326.32V205.06H316.86zM52.16 205.06H56.88V210.29H52.16zM80.52 205.06H85.25V210.29H80.52zM94.7 205.06H104.15V210.29H94.7zM118.33 205.06H123.06V210.29H118.33zM137.24 205.06H141.97V210.29H137.24zM241.23 205.06H245.96V210.29H241.23zM250.69 205.06H255.41V210.29H250.69zM264.87 205.06H274.32V210.29H264.87zM335.77 205.06H340.5V210.29H335.77zM349.95 205.06H354.68V210.29H349.95zM383.04 205.06H387.77V210.29H383.04zM397.22 205.06H401.95V210.29H397.22zM30.25 210.29H37.98V215.52H30.25zM61.61 210.29H66.34V215.52H61.61zM80.52 210.29H85.25V215.52H80.52zM99.43 210.29H104.15V215.52H99.43zM123.06 210.29H127.79V215.52H123.06zM137.24 210.29H141.97V215.52H137.24zM151.42 210.29H156.15V215.52H151.42zM222.32 210.29H227.05V215.52H222.32zM236.51 210.29H250.69V215.52H236.51zM264.87 210.29H269.59V215.52H264.87zM335.77 210.29H345.22V215.52H335.77zM30.25 215.52H37.98V220.75H30.25zM99.43 215.52H108.88V220.75H99.43zM113.61 215.52H118.33V220.75H113.61zM137.24 215.52H141.97V220.75H137.24zM151.42 215.52H156.15V220.75H151.42zM222.32 215.52H227.05V220.75H222.32zM236.51 215.52H241.23V220.75H236.51zM269.59 215.52H274.32V220.75H269.59zM335.77 215.52H345.22V220.75H335.77zM349.95 215.52H354.68V220.75H349.95zM373.58 215.52H378.31V220.75H373.58zM383.04 215.52H387.77V220.75H383.04zM397.22 215.52H401.95V220.75H397.22zM80.52 220.75H94.7V225.99H80.52zM123.06 220.75H127.79V225.99H123.06zM137.24 220.75H141.97V225.99H137.24zM241.23 220.75H245.96V225.99H241.23zM279.05 220.75H288.5V225.99H279.05zM316.86 220.75H326.32V225.99H316.86zM42.7 225.99H47.43V231.22H42.7zM85.25 225.99H94.7V231.22H85.25zM99.43 225.99H104.15V231.22H99.43zM123.06 225.99H127.79V231.22H123.06zM137.24 225.99H141.97V231.22H137.24zM231.78 225.99H236.51V231.22H231.78zM264.87 225.99H274.32V231.22H264.87zM279.05 225.99H288.5V231.22H279.05zM316.86 225.99H326.32V231.22H316.86zM331.04 225.99H335.77V231.22H331.04zM383.04 225.99H387.77V231.22H383.04zM127.79 231.22H132.51V236.45H127.79zM141.97 231.22H151.42V236.45H141.97zM175.06 231.22H179.78V236.45H175.06zM227.05 231.22H236.51V236.45H227.05zM255.41 231.22H260.14V236.45H255.41zM264.87 231.22H269.59V236.45H264.87zM279.05 231.22H288.5V236.45H279.05zM297.95 231.22H302.68V236.45H297.95zM321.59 231.22H326.32V236.45H321.59zM364.13 231.22H368.86V236.45H364.13zM378.31 231.22H383.04V236.45H378.31zM401.95 231.22H414.4V236.45H401.95zM71.06 236.45H75.79V241.68H71.06zM89.97 236.45H94.7V241.68H89.97zM113.61 236.45H118.33V241.68H113.61zM170.33 236.45H179.78V241.68H170.33zM198.69 236.45H208.14V241.68H198.69zM250.69 236.45H255.41V241.68H250.69zM274.32 236.45H279.05V241.68H274.32zM302.68 236.45H307.41V241.68H302.68zM331.04 236.45H335.77V241.68H331.04zM349.95 236.45H354.68V241.68H349.95zM392.49 236.45H397.22V241.68H392.49zM406.67 236.45H414.4V241.68H406.67zM56.88 241.68H66.34V246.91H56.88zM75.79 241.68H80.52V246.91H75.79zM137.24 241.68H141.97V246.91H137.24zM146.69 241.68H151.42V246.91H146.69zM160.88 241.68H165.6V246.91H160.88zM189.24 241.68H193.96V246.91H189.24zM217.6 241.68H222.32V246.91H217.6zM236.51 241.68H241.23V246.91H236.51zM283.77 241.68H288.5V246.91H283.77zM307.41 241.68H312.14V246.91H307.41zM340.5 241.68H349.95V246.91H340.5zM359.4 241.68H364.13V246.91H359.4zM30.25 246.91H42.7V252.15H30.25zM85.25 246.91H89.97V252.15H85.25zM123.06 246.91H127.79V252.15H123.06zM132.51 246.91H137.24V252.15H132.51zM151.42 246.91H160.88V252.15H151.42zM175.06 246.91H179.78V252.15H175.06zM212.87 246.91H222.32V252.15H212.87zM307.41 246.91H312.14V252.15H307.41zM331.04 246.91H335.77V252.15H331.04zM340.5 246.91H349.95V252.15H340.5zM354.68 246.91H373.58V252.15H354.68zM37.98 252.15H42.7V257.38H37.98zM71.06 252.15H75.79V257.38H71.06zM118.33 252.15H123.06V257.38H118.33zM175.06 252.15H179.78V257.38H175.06zM198.69 252.15H208.14V257.38H198.69zM227.05 252.15H231.78V257.38H227.05zM274.32 252.15H283.77V257.38H274.32zM307.41 252.15H312.14V257.38H307.41zM359.4 252.15H364.13V257.38H359.4zM378.31 252.15H383.04V257.38H378.31zM387.77 252.15H392.49V257.38H387.77zM30.25 257.38H37.98V262.61H30.25zM61.61 257.38H66.34V262.61H61.61zM71.06 257.38H75.79V262.61H71.06zM123.06 257.38H127.79V262.61H123.06zM146.69 257.38H151.42V262.61H146.69zM156.15 257.38H165.6V262.61H156.15zM175.06 257.38H184.51V262.61H175.06zM193.96 257.38H203.42V262.61H193.96zM208.14 257.38H212.87V262.61H208.14zM250.69 257.38H255.41V262.61H250.69zM260.14 257.38H264.87V262.61H260.14zM288.5 257.38H293.23V262.61H288.5zM302.68 257.38H307.41V262.61H302.68zM316.86 257.38H321.59V262.61H316.86zM326.32 257.38H331.04V262.61H326.32zM345.22 257.38H349.95V262.61H345.22zM406.67 257.38H414.4V262.61H406.67zM71.06 262.61H75.79V267.84H71.06zM108.88 262.61H113.61V267.84H108.88zM132.51 262.61H137.24V267.84H132.51zM141.97 262.61H151.42V267.84H141.97zM156.15 262.61H160.88V267.84H156.15zM170.33 262.61H179.78V267.84H170.33zM184.51 262.61H193.96V267.84H184.51zM198.69 262.61H203.42V267.84H198.69zM250.69 262.61H269.59V267.84H250.69zM302.68 262.61H307.41V267.84H302.68zM326.32 262.61H331.04V267.84H326.32zM364.13 262.61H368.86V267.84H364.13zM37.98 267.84H42.7V273.08H37.98zM52.16 267.84H56.88V273.08H52.16zM61.61 267.84H71.06V273.08H61.61zM80.52 267.84H94.7V273.08H80.52zM141.97 267.84H151.42V273.08H141.97zM193.96 267.84H198.69V273.08H193.96zM222.32 267.84H227.05V273.08H222.32zM241.23 267.84H250.69V273.08H241.23zM269.59 267.84H274.32V273.08H269.59zM279.05 267.84H288.5V273.08H279.05zM373.58 267.84H378.31V273.08H373.58zM383.04 267.84H387.77V273.08H383.04zM71.06 273.08H75.79V278.31H71.06zM94.7 273.08H99.43V278.31H94.7zM127.79 273.08H132.51V278.31H127.79zM175.06 273.08H179.78V278.31H175.06zM217.6 273.08H222.32V278.31H217.6zM245.96 273.08H250.69V278.31H245.96zM269.59 273.08H274.32V278.31H269.59zM288.5 273.08H293.23V278.31H288.5zM302.68 273.08H312.14V278.31H302.68zM316.86 273.08H321.59V278.31H316.86zM359.4 273.08H364.13V278.31H359.4zM378.31 273.08H387.77V278.31H378.31zM406.67 273.08H414.4V278.31H406.67zM30.25 278.31H42.7V283.54H30.25zM52.16 278.31H61.61V283.54H52.16zM66.34 278.31H71.06V283.54H66.34zM89.97 278.31H94.7V283.54H89.97zM99.43 278.31H104.15V283.54H99.43zM118.33 278.31H123.06V283.54H118.33zM141.97 278.31H156.15V283.54H141.97zM184.51 278.31H189.24V283.54H184.51zM241.23 278.31H250.69V283.54H241.23zM340.5 278.31H349.95V283.54H340.5zM373.58 278.31H378.31V283.54H373.58zM397.22 278.31H401.95V283.54H397.22zM30.25 283.54H37.98V288.77H30.25zM56.88 283.54H71.06V288.77H56.88zM94.7 283.54H99.43V288.77H94.7zM118.33 283.54H127.79V288.77H118.33zM141.97 283.54H151.42V288.77H141.97zM170.33 283.54H179.78V288.77H170.33zM184.51 283.54H203.42V288.77H184.51zM212.87 283.54H222.32V288.77H212.87zM245.96 283.54H250.69V288.77H245.96zM274.32 283.54H279.05V288.77H274.32zM288.5 283.54H293.23V288.77H288.5zM302.68 283.54H307.41V288.77H302.68zM312.14 283.54H316.86V288.77H312.14zM331.04 283.54H335.77V288.77H331.04zM354.68 283.54H359.4V288.77H354.68zM401.95 283.54H406.67V288.77H401.95zM37.98 288.77H42.7V294.01H37.98zM71.06 288.77H75.79V294.01H71.06zM89.97 288.77H94.7V294.01H89.97zM113.61 288.77H127.79V294.01H113.61zM156.15 288.77H160.88V294.01H156.15zM165.6 288.77H179.78V294.01H165.6zM184.51 288.77H189.24V294.01H184.51zM193.96 288.77H198.69V294.01H193.96zM203.42 288.77H208.14V294.01H203.42zM212.87 288.77H217.6V294.01H212.87zM250.69 288.77H260.14V294.01H250.69zM293.23 288.77H297.95V294.01H293.23zM302.68 288.77H307.41V294.01H302.68zM321.59 288.77H326.32V294.01H321.59zM331.04 288.77H335.77V294.01H331.04zM340.5 288.77H349.95V294.01H340.5zM378.31 288.77H383.04V294.01H378.31zM401.95 288.77H406.67V294.01H401.95zM61.61 294.01H66.34V299.24H61.61zM85.25 294.01H94.7V299.24H85.25zM108.88 294.01H113.61V299.24H108.88zM123.06 294.01H127.79V299.24H123.06zM137.24 294.01H141.97V299.24H137.24zM151.42 294.01H160.88V299.24H151.42zM184.51 294.01H189.24V299.24H184.51zM222.32 294.01H227.05V299.24H222.32zM236.51 294.01H241.23V299.24H236.51zM264.87 294.01H269.59V299.24H264.87zM279.05 294.01H288.5V299.24H279.05zM316.86 294.01H321.59V299.24H316.86zM345.22 294.01H349.95V299.24H345.22zM397.22 294.01H401.95V299.24H397.22zM56.88 299.24H61.61V304.47H56.88zM75.79 299.24H80.52V304.47H75.79zM94.7 299.24H99.43V304.47H94.7zM113.61 299.24H118.33V304.47H113.61zM132.51 299.24H137.24V304.47H132.51zM141.97 299.24H146.69V304.47H141.97zM175.06 299.24H179.78V304.47H175.06zM208.14 299.24H222.32V304.47H208.14zM236.51 299.24H241.23V304.47H236.51zM250.69 299.24H255.41V304.47H250.69zM274.32 299.24H279.05V304.47H274.32zM326.32 299.24H331.04V304.47H326.32zM335.77 299.24H340.5V304.47H335.77zM354.68 299.24H359.4V304.47H354.68zM401.95 299.24H406.67V304.47H401.95zM56.88 304.47H61.61V309.7H56.88zM71.06 304.47H80.52V309.7H71.06zM85.25 304.47H89.97V309.7H85.25zM94.7 304.47H99.43V309.7H94.7zM141.97 304.47H146.69V309.7H141.97zM175.06 304.47H179.78V309.7H175.06zM208.14 304.47H222.32V309.7H208.14zM227.05 304.47H231.78V309.7H227.05zM250.69 304.47H255.41V309.7H250.69zM274.32 304.47H279.05V309.7H274.32zM302.68 304.47H307.41V309.7H302.68zM321.59 304.47H326.32V309.7H321.59zM354.68 304.47H359.4V309.7H354.68zM383.04 304.47H387.77V309.7H383.04zM392.49 304.47H414.4V309.7H392.49zM37.98 309.7H42.7V314.94H37.98zM52.16 309.7H56.88V314.94H52.16zM61.61 309.7H66.34V314.94H61.61zM71.06 309.7H75.79V314.94H71.06zM118.33 309.7H127.79V314.94H118.33zM175.06 309.7H179.78V314.94H175.06zM241.23 309.7H245.96V314.94H241.23zM255.41 309.7H260.14V314.94H255.41zM264.87 309.7H269.59V314.94H264.87zM335.77 309.7H345.22V314.94H335.77zM52.16 314.94H56.88V320.17H52.16zM75.79 314.94H80.52V320.17H75.79zM94.7 314.94H99.43V320.17H94.7zM146.69 314.94H151.42V320.17H146.69zM184.51 314.94H189.24V320.17H184.51zM269.59 314.94H274.32V320.17H269.59zM297.95 314.94H302.68V320.17H297.95zM307.41 314.94H312.14V320.17H307.41zM387.77 314.94H392.49V320.17H387.77zM397.22 314.94H401.95V320.17H397.22zM37.98 320.17H52.16V325.4H37.98zM104.15 320.17H108.88V325.4H104.15zM132.51 320.17H141.97V325.4H132.51zM146.69 320.17H151.42V325.4H146.69zM156.15 320.17H165.6V325.4H156.15zM175.06 320.17H179.78V325.4H175.06zM184.51 320.17H189.24V325.4H184.51zM217.6 320.17H222.32V325.4H217.6zM293.23 320.17H297.95V325.4H293.23zM302.68 320.17H307.41V325.4H302.68zM321.59 320.17H335.77V325.4H321.59zM345.22 320.17H349.95V325.4H345.22zM392.49 320.17H397.22V325.4H392.49zM401.95 320.17H414.4V325.4H401.95zM42.7 325.4H52.16V330.63H42.7zM61.61 325.4H66.34V330.63H61.61zM75.79 325.4H80.52V330.63H75.79zM146.69 325.4H151.42V330.63H146.69zM156.15 325.4H160.88V330.63H156.15zM175.06 325.4H179.78V330.63H175.06zM222.32 325.4H227.05V330.63H222.32zM241.23 325.4H250.69V330.63H241.23zM255.41 325.4H260.14V330.63H255.41zM264.87 325.4H274.32V330.63H264.87zM283.77 325.4H288.5V330.63H283.77zM297.95 325.4H302.68V330.63H297.95zM340.5 325.4H349.95V330.63H340.5zM354.68 325.4H364.13V330.63H354.68zM397.22 325.4H401.95V330.63H397.22zM37.98 330.63H42.7V335.87H37.98zM127.79 330.63H132.51V335.87H127.79zM141.97 330.63H151.42V335.87H141.97zM175.06 330.63H179.78V335.87H175.06zM227.05 330.63H241.23V335.87H227.05zM255.41 330.63H260.14V335.87H255.41zM293.23 330.63H297.95V335.87H293.23zM331.04 330.63H335.77V335.87H331.04zM364.13 330.63H368.86V335.87H364.13zM378.31 330.63H383.04V335.87H378.31zM61.61 335.87H66.34V341.1H61.61zM75.79 335.87H85.25V341.1H75.79zM99.43 335.87H113.61V341.1H99.43zM127.79 335.87H137.24V341.1H127.79zM170.33 335.87H175.06V341.1H170.33zM184.51 335.87H189.24V341.1H184.51zM264.87 335.87H269.59V341.1H264.87zM354.68 335.87H359.4V341.1H354.68zM378.31 335.87H387.77V341.1H378.31zM401.95 335.87H406.67V341.1H401.95zM30.25 341.1H37.98V346.33H30.25zM42.7 341.1H52.16V346.33H42.7zM56.88 341.1H61.61V346.33H56.88zM80.52 341.1H85.25V346.33H80.52zM94.7 341.1H99.43V346.33H94.7zM123.06 341.1H127.79V346.33H123.06zM137.24 341.1H141.97V346.33H137.24zM156.15 341.1H170.33V346.33H156.15zM175.06 341.1H184.51V346.33H175.06zM189.24 341.1H193.96V346.33H189.24zM208.14 341.1H217.6V346.33H208.14zM241.23 341.1H245.96V346.33H241.23zM255.41 341.1H260.14V346.33H255.41zM274.32 341.1H279.05V346.33H274.32zM359.4 341.1H368.86V346.33H359.4zM94.7 346.33H99.43V351.56H94.7zM137.24 346.33H141.97V351.56H137.24zM146.69 346.33H151.42V351.56H146.69zM156.15 346.33H160.88V351.56H156.15zM189.24 346.33H193.96V351.56H189.24zM208.14 346.33H222.32V351.56H208.14zM269.59 346.33H274.32V351.56H269.59zM283.77 346.33H288.5V351.56H283.77zM297.95 346.33H302.68V351.56H297.95zM75.79 351.56H80.52V356.8H75.79zM94.7 351.56H99.43V356.8H94.7zM156.15 351.56H160.88V356.8H156.15zM241.23 351.56H250.69V356.8H241.23zM279.05 351.56H283.77V356.8H279.05zM297.95 351.56H302.68V356.8H297.95zM359.4 351.56H364.13V356.8H359.4zM383.04 351.56H387.77V356.8H383.04zM397.22 351.56H401.95V356.8H397.22zM42.7 356.8H61.61V362.03H42.7zM66.34 356.8H71.06V362.03H66.34zM146.69 356.8H151.42V362.03H146.69zM179.78 356.8H189.24V362.03H179.78zM212.87 356.8H217.6V362.03H212.87zM222.32 356.8H227.05V362.03H222.32zM231.78 356.8H236.51V362.03H231.78zM264.87 356.8H274.32V362.03H264.87zM297.95 356.8H302.68V362.03H297.95zM307.41 356.8H312.14V362.03H307.41zM359.4 356.8H364.13V362.03H359.4zM383.04 356.8H392.49V362.03H383.04zM406.67 356.8H414.4V362.03H406.67zM37.98 362.03H42.7V367.26H37.98zM47.43 362.03H61.61V367.26H47.43zM66.34 362.03H71.06V367.26H66.34zM127.79 362.03H132.51V367.26H127.79zM141.97 362.03H160.88V367.26H141.97zM165.6 362.03H170.33V367.26H165.6zM193.96 362.03H208.14V367.26H193.96zM279.05 362.03H283.77V367.26H279.05zM288.5 362.03H293.23V367.26H288.5zM378.31 362.03H383.04V367.26H378.31zM52.16 367.26H56.88V372.49H52.16zM85.25 367.26H89.97V372.49H85.25zM94.7 367.26H99.43V372.49H94.7zM104.15 367.26H108.88V372.49H104.15zM113.61 367.26H118.33V372.49H113.61zM123.06 367.26H127.79V372.49H123.06zM141.97 367.26H146.69V372.49H141.97zM198.69 367.26H208.14V372.49H198.69zM227.05 367.26H236.51V372.49H227.05zM260.14 367.26H264.87V372.49H260.14zM269.59 367.26H274.32V372.49H269.59zM288.5 367.26H293.23V372.49H288.5zM302.68 367.26H307.41V372.49H302.68zM373.58 367.26H378.31V372.49H373.58zM397.22 367.26H401.95V372.49H397.22zM37.98 372.49H42.7V377.73H37.98zM52.16 372.49H56.88V377.73H52.16zM113.61 372.49H118.33V377.73H113.61zM127.79 372.49H132.51V377.73H127.79zM141.97 372.49H146.69V377.73H141.97zM179.78 372.49H189.24V377.73H179.78zM227.05 372.49H236.51V377.73H227.05zM241.23 372.49H245.96V377.73H241.23zM260.14 372.49H264.87V377.73H260.14zM269.59 372.49H279.05V377.73H269.59zM297.95 372.49H307.41V377.73H297.95zM368.86 372.49H373.58V377.73H368.86zM392.49 372.49H397.22V377.73H392.49zM42.7 377.73H56.88V382.96H42.7zM61.61 377.73H66.34V382.96H61.61zM118.33 377.73H123.06V382.96H118.33zM141.97 377.73H146.69V382.96H141.97zM165.6 377.73H175.06V382.96H165.6zM193.96 377.73H198.69V382.96H193.96zM203.42 377.73H208.14V382.96H203.42zM222.32 377.73H227.05V382.96H222.32zM401.95 377.73H414.4V382.96H401.95zM37.98 382.96H52.16V388.19H37.98zM56.88 382.96H61.61V388.19H56.88zM71.06 382.96H75.79V388.19H71.06zM113.61 382.96H118.33V388.19H113.61zM123.06 382.96H127.79V388.19H123.06zM165.6 382.96H170.33V388.19H165.6zM231.78 382.96H236.51V388.19H231.78zM264.87 382.96H269.59V388.19H264.87zM279.05 382.96H288.5V388.19H279.05zM302.68 382.96H307.41V388.19H302.68zM312.14 382.96H316.86V388.19H312.14zM373.58 382.96H383.04V388.19H373.58zM113.61 388.19H118.33V393.42H113.61zM146.69 388.19H151.42V393.42H146.69zM165.6 388.19H170.33V393.42H165.6zM175.06 388.19H179.78V393.42H175.06zM227.05 388.19H241.23V393.42H227.05zM255.41 388.19H260.14V393.42H255.41zM302.68 388.19H307.41V393.42H302.68zM316.86 388.19H321.59V393.42H316.86zM326.32 388.19H335.77V393.42H326.32zM364.13 388.19H368.86V393.42H364.13zM378.31 388.19H383.04V393.42H378.31zM387.77 388.19H392.49V393.42H387.77zM66.34 393.42H71.06V398.66H66.34zM104.15 393.42H108.88V398.66H104.15zM156.15 393.42H160.88V398.66H156.15zM217.6 393.42H222.32V398.66H217.6zM231.78 393.42H236.51V398.66H231.78zM245.96 393.42H250.69V398.66H245.96zM307.41 393.42H312.14V398.66H307.41zM316.86 393.42H321.59V398.66H316.86zM359.4 393.42H364.13V398.66H359.4zM397.22 393.42H401.95V398.66H397.22zM30.25 398.66H37.98V403.89H30.25zM108.88 398.66H113.61V403.89H108.88zM118.33 398.66H123.06V403.89H118.33zM156.15 398.66H160.88V403.89H156.15zM231.78 398.66H236.51V403.89H231.78zM345.22 398.66H349.95V403.89H345.22zM397.22 398.66H401.95V403.89H397.22zM75.79 403.89H80.52V409.12H75.79zM94.7 403.89H99.43V409.12H94.7zM118.33 403.89H127.79V409.12H118.33zM137.24 403.89H141.97V409.12H137.24zM151.42 403.89H156.15V409.12H151.42zM203.42 403.89H208.14V409.12H203.42zM250.69 403.89H255.41V409.12H250.69zM260.14 403.89H264.87V409.12H260.14zM340.5 403.89H345.22V409.12H340.5zM354.68 403.89H359.4V409.12H354.68zM42.7 409.12H56.88V414.35H42.7zM89.97 409.12H99.43V414.35H89.97zM132.51 409.12H137.24V414.35H132.51zM217.6 409.12H222.32V414.35H217.6zM236.51 409.12H241.23V414.35H236.51zM255.41 409.12H260.14V414.35H255.41zM269.59 409.12H274.32V414.35H269.59zM307.41 409.12H316.86V414.35H307.41zM335.77 409.12H340.5V414.35H335.77zM354.68 409.12H364.13V414.35H354.68zM383.04 409.12H392.49V414.35H383.04zM401.95 409.12H414.4V414.35H401.95zM30.25 414.35H56.88V419.59H30.25zM123.06 414.35H127.79V419.59H123.06zM165.6 414.35H175.06V419.59H165.6zM193.96 414.35H198.69V419.59H193.96zM203.42 414.35H208.14V419.59H203.42zM212.87 414.35H217.6V419.59H212.87zM250.69 414.35H260.14V419.59H250.69zM283.77 414.35H288.5V419.59H283.77zM312.14 414.35H316.86V419.59H312.14zM326.32 414.35H335.77V419.59H326.32zM378.31 414.35H383.04V419.59H378.31zM392.49 414.35H397.22V419.59H392.49zM401.95 414.35H406.67V419.59H401.95zM37.98 419.59H52.16V424.82H37.98zM89.97 419.59H94.7V424.82H89.97zM118.33 419.59H127.79V424.82H118.33zM137.24 419.59H141.97V424.82H137.24zM151.42 419.59H160.88V424.82H151.42zM236.51 419.59H241.23V424.82H236.51zM293.23 419.59H297.95V424.82H293.23zM331.04 419.59H335.77V424.82H331.04zM359.4 419.59H364.13V424.82H359.4zM378.31 419.59H383.04V424.82H378.31zM397.22 419.59H401.95V424.82H397.22zM42.7 424.82H52.16V430.05H42.7zM89.97 424.82H94.7V430.05H89.97zM141.97 424.82H151.42V430.05H141.97zM156.15 424.82H160.88V430.05H156.15zM222.32 424.82H227.05V430.05H222.32zM283.77 424.82H288.5V430.05H283.77zM297.95 424.82H302.68V430.05H297.95zM345.22 424.82H349.95V430.05H345.22zM383.04 424.82H387.77V430.05H383.04zM71.06 430.05H75.79V435.28H71.06zM80.52 430.05H85.25V435.28H80.52zM94.7 430.05H99.43V435.28H94.7zM113.61 430.05H118.33V435.28H113.61zM123.06 430.05H127.79V435.28H123.06zM156.15 430.05H160.88V435.28H156.15zM175.06 430.05H179.78V435.28H175.06zM184.51 430.05H189.24V435.28H184.51zM193.96 430.05H198.69V435.28H193.96zM203.42 430.05H208.14V435.28H203.42zM260.14 430.05H264.87V435.28H260.14zM274.32 430.05H279.05V435.28H274.32zM283.77 430.05H288.5V435.28H283.77zM293.23 430.05H297.95V435.28H293.23zM302.68 430.05H307.41V435.28H302.68zM326.32 430.05H331.04V435.28H326.32zM340.5 430.05H345.22V435.28H340.5zM364.13 430.05H373.58V435.28H364.13zM387.77 430.05H392.49V435.28H387.77zM401.95 430.05H406.67V435.28H401.95zM66.34 435.28H71.06V440.52H66.34zM75.79 435.28H85.25V440.52H75.79zM89.97 435.28H94.7V440.52H89.97zM137.24 435.28H141.97V440.52H137.24zM156.15 435.28H160.88V440.52H156.15zM217.6 435.28H222.32V440.52H217.6zM264.87 435.28H274.32V440.52H264.87zM279.05 435.28H288.5V440.52H279.05zM297.95 435.28H302.68V440.52H297.95zM312.14 435.28H316.86V440.52H312.14zM349.95 435.28H354.68V440.52H349.95zM378.31 435.28H387.77V440.52H378.31zM397.22 435.28H401.95V440.52H397.22zM37.98 440.52H42.7V448.75H37.98zM52.16 440.52H56.88V448.75H52.16zM66.34 440.52H75.79V448.75H66.34zM80.52 440.52H85.25V448.75H80.52zM123.06 440.52H132.51V448.75H123.06zM165.6 440.52H170.33V448.75H165.6zM184.51 440.52H189.24V448.75H184.51zM217.6 440.52H227.05V448.75H217.6zM241.23 440.52H245.96V448.75H241.23zM255.41 440.52H260.14V448.75H255.41zM283.77 440.52H288.5V448.75H283.77zM297.95 440.52H302.68V448.75H297.95zM331.04 440.52H335.77V448.75H331.04zM349.95 440.52H354.68V448.75H349.95zM378.31 440.52H383.04V448.75H378.31z"/>
<path fill="#2a788e" d="M217.6 24.15H222.32V32.38H217.6zM52.16 32.38H61.61V37.61H52.16zM156.15 32.38H160.88V37.61H156.15zM255.41 32.38H260.14V37.61H255.41zM302.68 32.38H307.41V37.61H302.68zM321.59 32.38H335.77V37.61H321.59zM349.95 32.38H354.68V37.61H349.95zM392.49 32.38H397.22V37.61H392.49zM151.42 37.61H156.15V42.85H151.42zM231.78 42.85H236.51V48.08H231.78zM37.98 48.08H42.7V53.31H37.98zM231.78 48.08H236.51V53.31H231.78zM255.41 48.08H260.14V53.31H255.41zM297.95 48.08H302.68V53.31H297.95zM401.95 48.08H406.67V53.31H401.95zM37.98 53.31H42.7V58.55H37.98zM61.61 53.31H66.34V58.55H61.61zM151.42 53.31H156.15V58.55H151.42zM255.41 53.31H260.14V58.55H255.41zM56.88 58.55H61.61V63.78H56.88zM71.06 58.55H80.52V63.78H71.06zM113.61 58.55H118.33V63.78H113.61zM146.69 58.55H151.42V63.78H146.69zM203.42 58.55H208.14V63.78H203.42zM293.23 58.55H297.95V63.78H293.23zM335.77 58.55H340.5V63.78H335.77zM75.79 63.78H80.52V69.01H75.79zM104.15 63.78H108.88V69.01H104.15zM203.42 63.78H208.14V69.01H203.42zM340.5 63.78H345.22V69.01H340.5zM61.61 69.01H66.34V74.24H61.61zM80.52 69.01H85.25V74.24H80.52zM94.7 69.01H99.43V74.24H94.7zM378.31 69.01H383.04V74.24H378.31zM392.49 69.01H397.22V74.24H392.49zM61.61 74.24H71.06V79.47H61.61zM94.7 74.24H113.61V79.47H94.7zM118.33 74.24H123.06V79.47H118.33zM71.06 79.47H75.79V84.71H71.06zM89.97 79.47H94.7V84.71H89.97zM104.15 79.47H108.88V84.71H104.15zM165.6 79.47H175.06V84.71H165.6zM179.78 79.47H193.96V84.71H179.78zM203.42 79.47H208.14V84.71H203.42zM222.32 79.47H227.05V84.71H222.32zM151.42 84.71H156.15V89.94H151.42zM297.95 84.71H302.68V89.94H297.95zM312.14 84.71H321.59V89.94H312.14zM80.52 89.94H85.25V95.17H80.52zM99.43 89.94H104.15V95.17H99.43zM127.79 89.94H132.51V95.17H127.79zM160.88 89.94H165.6V95.17H160.88zM189.24 89.94H193.96V95.17H189.24zM227.05 89.94H231.78V95.17H227.05zM71.06 95.17H80.52V100.41H71.06zM108.88 95.17H113.61V100.41H108.88zM118.33 95.17H123.06V100.41H118.33zM179.78 95.17H184.51V100.41H179.78zM212.87 95.17H217.6V100.41H212.87zM236.51 95.17H241.23V100.41H236.51zM269.59 95.17H274.32V100.41H269.59zM349.95 95.17H359.4V100.41H349.95zM364.13 95.17H373.58V100.41H364.13zM383.04 95.17H392.49V100.41H383.04zM75.79 100.41H80.52V105.64H75.79zM89.97 100.41H94.7V105.64H89.97zM170.33 100.41H175.06V105.64H170.33zM241.23 100.41H245.96V105.64H241.23zM373.58 100.41H378.31V105.64H373.58zM66.34 105.64H71.06V110.87H66.34zM75.79 105.64H85.25V110.87H75.79zM170.33 105.64H175.06V110.87H170.33zM179.78 105.64H184.51V110.87H179.78zM189.24 105.64H193.96V110.87H189.24zM212.87 105.64H217.6V110.87H212.87zM368.86 105.64H373.58V110.87H368.86zM75.79 110.87H80.52V116.1H75.79zM94.7 110.87H99.43V116.1H94.7zM132.51 110.87H137.24V116.1H132.51zM160.88 110.87H165.6V116.1H160.88zM170.33 110.87H175.06V116.1H170.33zM179.78 110.87H184.51V116.1H179.78zM198.69 110.87H203.42V116.1H198.69zM236.51 110.87H241.23V116.1H236.51zM264.87 110.87H269.59V116.1H264.87zM373.58 110.87H378.31V116.1H373.58zM61.61 116.1H66.34V121.34H61.61zM165.6 116.1H170.33V121.34H165.6zM288.5 116.1H293.23V121.34H288.5zM321.59 116.1H326.32V121.34H321.59zM401.95 116.1H414.4V121.34H401.95zM75.79 121.34H80.52V126.57H75.79zM94.7 121.34H99.43V126.57H94.7zM208.14 121.34H217.6V126.57H208.14zM293.23 121.34H297.95V126.57H293.23zM193.96 126.57H198.69V131.8H193.96zM307.41 126.57H312.14V131.8H307.41zM368.86 126.57H373.58V131.8H368.86zM89.97 131.8H94.7V137.03H89.97zM227.05 131.8H231.78V137.03H227.05zM236.51 131.8H241.23V137.03H236.51zM331.04 131.8H335.77V137.03H331.04zM392.49 131.8H397.22V137.03H392.49zM108.88 137.03H113.61V142.26H108.88zM316.86 137.03H321.59V142.26H316.86zM250.69 142.26H255.41V147.5H250.69zM260.14 142.26H264.87V147.5H260.14zM401.95 147.5H406.67V152.73H401.95zM61.61 152.73H66.34V157.96H61.61zM151.42 152.73H156.15V157.96H151.42zM401.95 152.73H406.67V157.96H401.95zM42.7 157.96H47.43V163.19H42.7zM56.88 157.96H61.61V163.19H56.88zM85.25 157.96H89.97V163.19H85.25zM146.69 157.96H151.42V163.19H146.69zM156.15 157.96H160.88V163.19H156.15zM193.96 157.96H198.69V163.19H193.96zM297.95 157.96H302.68V163.19H297.95zM316.86 157.96H321.59V163.19H316.86zM340.5 157.96H345.22V163.19H340.5zM368.86 157.96H373.58V163.19H368.86zM37.98 163.19H42.7V168.43H37.98zM151.42 163.19H156.15V168.43H151.42zM260.14 163.19H264.87V168.43H260.14zM89.97 168.43H94.7V173.66H89.97zM108.88 168.43H113.61V173.66H108.88zM321.59 168.43H326.32V173.66H321.59zM340.5 168.43H345.22V173.66H340.5zM368.86 168.43H378.31V173.66H368.86zM80.52 173.66H85.25V178.89H80.52zM113.61 173.66H118.33V178.89H113.61zM179.78 173.66H184.51V178.89H179.78zM189.24 173.66H193.96V178.89H189.24zM198.69 173.66H203.42V178.89H198.69zM208.14 173.66H212.87V178.89H208.14zM260.14 173.66H264.87V178.89H260.14zM364.13 173.66H368.86V178.89H364.13zM80.52 178.89H85.25V184.12H80.52zM99.43 178.89H113.61V184.12H99.43zM241.23 178.89H245.96V184.12H241.23zM260.14 178.89H264.87V184.12H260.14zM274.32 178.89H279.05V184.12H274.32zM80.52 189.36H85.25V194.59H80.52zM94.7 189.36H99.43V194.59H94.7zM104.15 189.36H113.61V194.59H104.15zM165.6 189.36H170.33V194.59H165.6zM193.96 189.36H198.69V194.59H193.96zM203.42 189.36H208.14V194.59H203.42zM231.78 189.36H236.51V194.59H231.78zM250.69 189.36H255.41V194.59H250.69zM335.77 189.36H345.22V194.59H335.77zM349.95 189.36H354.68V194.59H349.95zM373.58 189.36H378.31V194.59H373.58zM80.52 194.59H85.25V199.82H80.52zM189.24 194.59H198.69V199.82H189.24zM208.14 194.59H217.6V199.82H208.14zM231.78 194.59H236.51V199.82H231.78zM241.23 194.59H245.96V199.82H241.23zM335.77 194.59H345.22V199.82H335.77zM349.95 194.59H359.4V199.82H349.95zM80.52 199.82H85.25V205.06H80.52zM89.97 199.82H94.7V205.06H89.97zM104.15 199.82H108.88V205.06H104.15zM165.6 199.82H170.33V205.06H165.6zM184.51 199.82H189.24V205.06H184.51zM193.96 199.82H198.69V205.06H193.96zM250.69 199.82H255.41V205.06H250.69zM349.95 199.82H359.4V205.06H349.95zM373.58 199.82H378.31V205.06H373.58zM123.06 205.06H127.79V210.29H123.06zM151.42 205.06H156.15V210.29H151.42zM179.78 205.06H193.96V210.29H179.78zM198.69 205.06H203.42V210.29H198.69zM208.14 205.06H217.6V210.29H208.14zM274.32 205.06H279.05V210.29H274.32zM297.95 205.06H302.68V210.29H297.95zM312.14 205.06H316.86V210.29H312.14zM340.5 205.06H345.22V210.29H340.5zM364.13 205.06H368.86V210.29H364.13zM108.88 210.29H113.61V215.52H108.88zM165.6 210.29H170.33V215.52H165.6zM193.96 210.29H198.69V215.52H193.96zM354.68 210.29H359.4V215.52H354.68zM61.61 215.52H71.06V220.75H61.61zM80.52 215.52H85.25V220.75H80.52zM179.78 215.52H184.51V220.75H179.78zM241.23 215.52H245.96V220.75H241.23zM250.69 215.52H255.41V220.75H250.69zM260.14 215.52H264.87V220.75H260.14zM364.13 215.52H373.58V220.75H364.13zM387.77 215.52H392.49V220.75H387.77zM118.33 220.75H123.06V225.99H118.33zM165.6 220.75H170.33V225.99H165.6zM184.51 220.75H189.24V225.99H184.51zM193.96 220.75H198.69V225.99H193.96zM250.69 220.75H255.41V225.99H250.69zM335.77 220.75H345.22V225.99H335.77zM349.95 220.75H354.68V225.99H349.95zM373.58 220.75H378.31V225.99H373.58zM94.7 225.99H99.43V231.22H94.7zM104.15 225.99H108.88V231.22H104.15zM118.33 225.99H123.06V231.22H118.33zM184.51 225.99H189.24V231.22H184.51zM193.96 225.99H198.69V231.22H193.96zM222.32 225.99H227.05V231.22H222.32zM250.69 225.99H255.41V231.22H250.69zM260.14 225.99H264.87V231.22H260.14zM340.5 225.99H345.22V231.22H340.5zM373.58 225.99H378.31V231.22H373.58zM30.25 231.22H37.98V236.45H30.25zM293.23 231.22H297.95V236.45H293.23zM302.68 231.22H307.41V236.45H302.68zM331.04 231.22H335.77V236.45H331.04zM80.52 236.45H85.25V241.68H80.52zM212.87 236.45H217.6V241.68H212.87zM89.97 241.68H94.7V246.91H89.97zM127.79 241.68H132.51V246.91H127.79zM288.5 241.68H293.23V246.91H288.5zM331.04 241.68H340.5V246.91H331.04zM401.95 241.68H406.67V246.91H401.95zM47.43 246.91H56.88V252.15H47.43zM179.78 246.91H189.24V252.15H179.78zM94.7 252.15H99.43V257.38H94.7zM108.88 252.15H113.61V257.38H108.88zM127.79 252.15H132.51V257.38H127.79zM99.43 257.38H104.15V262.61H99.43zM170.33 257.38H175.06V262.61H170.33zM184.51 257.38H189.24V262.61H184.51zM203.42 257.38H208.14V262.61H203.42zM345.22 262.61H349.95V267.84H345.22zM137.24 267.84H141.97V273.08H137.24zM179.78 267.84H184.51V273.08H179.78zM189.24 267.84H193.96V273.08H189.24zM203.42 267.84H217.6V273.08H203.42zM274.32 267.84H279.05V273.08H274.32zM368.86 267.84H373.58V273.08H368.86zM37.98 273.08H42.7V278.31H37.98zM52.16 273.08H61.61V278.31H52.16zM137.24 278.31H141.97V283.54H137.24zM156.15 278.31H160.88V283.54H156.15zM165.6 278.31H175.06V283.54H165.6zM203.42 278.31H208.14V283.54H203.42zM212.87 278.31H217.6V283.54H212.87zM354.68 278.31H359.4V283.54H354.68zM108.88 283.54H113.61V288.77H108.88zM94.7 288.77H99.43V294.01H94.7zM274.32 288.77H279.05V294.01H274.32zM349.95 288.77H359.4V294.01H349.95zM387.77 288.77H392.49V294.01H387.77zM170.33 294.01H175.06V299.24H170.33zM193.96 294.01H198.69V299.24H193.96zM250.69 294.01H255.41V299.24H250.69zM269.59 294.01H274.32V299.24H269.59zM288.5 299.24H293.23V304.47H288.5zM288.5 304.47H293.23V309.7H288.5zM113.61 309.7H118.33V314.94H113.61zM227.05 309.7H231.78V314.94H227.05zM279.05 309.7H288.5V314.94H279.05zM331.04 309.7H335.77V314.94H331.04zM345.22 309.7H349.95V314.94H345.22zM401.95 309.7H406.67V314.94H401.95zM61.61 314.94H66.34V320.17H61.61zM118.33 314.94H123.06V320.17H118.33zM217.6 314.94H222.32V320.17H217.6zM349.95 314.94H354.68V320.17H349.95zM378.31 314.94H383.04V320.17H378.31zM401.95 314.94H406.67V320.17H401.95zM52.16 320.17H56.88V325.4H52.16zM85.25 320.17H89.97V325.4H85.25zM151.42 320.17H156.15V325.4H151.42zM193.96 320.17H198.69V325.4H193.96zM37.98 325.4H42.7V330.63H37.98zM217.6 325.4H222.32V330.63H217.6zM307.41 325.4H312.14V330.63H307.41zM349.95 325.4H354.68V330.63H349.95zM406.67 325.4H414.4V330.63H406.67zM123.06 330.63H127.79V335.87H123.06zM302.68 330.63H307.41V335.87H302.68zM85.25 335.87H89.97V341.1H85.25zM193.96 335.87H198.69V341.1H193.96zM368.86 335.87H378.31V341.1H368.86zM406.67 335.87H414.4V341.1H406.67zM85.25 341.1H89.97V346.33H85.25zM132.51 341.1H137.24V346.33H132.51zM151.42 341.1H156.15V346.33H151.42zM37.98 346.33H42.7V351.56H37.98zM113.61 346.33H118.33V351.56H113.61zM160.88 346.33H165.6V351.56H160.88zM345.22 346.33H349.95V351.56H345.22zM378.31 346.33H383.04V351.56H378.31zM401.95 346.33H406.67V351.56H401.95zM37.98 351.56H42.7V356.8H37.98zM378.31 351.56H383.04V356.8H378.31zM406.67 351.56H414.4V356.8H406.67zM37.98 356.8H42.7V362.03H37.98zM127.79 356.8H132.51V362.03H127.79zM217.6 356.8H222.32V362.03H217.6zM227.05 356.8H231.78V362.03H227.05zM288.5 356.8H293.23V362.03H288.5zM378.31 356.8H383.04V362.03H378.31zM392.49 356.8H397.22V362.03H392.49zM61.61 362.03H66.34V367.26H61.61zM179.78 362.03H189.24V367.26H179.78zM208.14 362.03H212.87V367.26H208.14zM227.05 362.03H231.78V367.26H227.05zM364.13 362.03H373.58V367.26H364.13zM387.77 362.03H392.49V367.26H387.77zM66.34 367.26H71.06V372.49H66.34zM151.42 367.26H156.15V372.49H151.42zM160.88 367.26H165.6V372.49H160.88zM179.78 367.26H189.24V372.49H179.78zM193.96 367.26H198.69V372.49H193.96zM208.14 367.26H217.6V372.49H208.14zM364.13 367.26H373.58V372.49H364.13zM387.77 367.26H392.49V372.49H387.77zM245.96 372.49H250.69V377.73H245.96zM288.5 372.49H293.23V377.73H288.5zM321.59 372.49H326.32V377.73H321.59zM364.13 372.49H368.86V377.73H364.13zM37.98 377.73H42.7V382.96H37.98zM94.7 377.73H99.43V382.96H94.7zM179.78 377.73H193.96V382.96H179.78zM208.14 377.73H212.87V382.96H208.14zM269.59 377.73H274.32V382.96H269.59zM293.23 377.73H297.95V382.96H293.23zM302.68 377.73H307.41V382.96H302.68zM378.31 377.73H383.04V382.96H378.31zM397.22 377.73H401.95V382.96H397.22zM94.7 382.96H99.43V388.19H94.7zM184.51 382.96H193.96V388.19H184.51zM198.69 382.96H203.42V388.19H198.69zM260.14 382.96H264.87V388.19H260.14zM269.59 382.96H274.32V388.19H269.59zM383.04 382.96H387.77V388.19H383.04zM397.22 382.96H401.95V388.19H397.22zM94.7 393.42H99.43V398.66H94.7zM165.6 393.42H170.33V398.66H165.6zM193.96 393.42H198.69V398.66H193.96zM203.42 393.42H208.14V398.66H203.42zM335.77 393.42H349.95V398.66H335.77zM94.7 398.66H99.43V403.89H94.7zM104.15 398.66H108.88V403.89H104.15zM123.06 398.66H127.79V403.89H123.06zM151.42 398.66H156.15V403.89H151.42zM160.88 398.66H165.6V403.89H160.88zM203.42 398.66H208.14V403.89H203.42zM250.69 398.66H255.41V403.89H250.69zM312.14 398.66H316.86V403.89H312.14zM335.77 398.66H345.22V403.89H335.77zM373.58 398.66H378.31V403.89H373.58zM99.43 403.89H104.15V409.12H99.43zM108.88 403.89H113.61V409.12H108.88zM160.88 403.89H165.6V409.12H160.88zM179.78 403.89H184.51V409.12H179.78zM189.24 403.89H193.96V409.12H189.24zM208.14 403.89H217.6V409.12H208.14zM312.14 403.89H316.86V409.12H312.14zM368.86 403.89H373.58V409.12H368.86zM71.06 409.12H75.79V414.35H71.06zM293.23 409.12H297.95V414.35H293.23zM321.59 409.12H335.77V414.35H321.59zM349.95 409.12H354.68V414.35H349.95zM94.7 414.35H99.43V419.59H94.7zM354.68 414.35H359.4V419.59H354.68zM387.77 414.35H392.49V419.59H387.77zM406.67 414.35H414.4V419.59H406.67zM94.7 419.59H99.43V424.82H94.7zM203.42 419.59H208.14V424.82H203.42zM269.59 419.59H274.32V424.82H269.59zM335.77 419.59H345.22V424.82H335.77zM383.04 419.59H387.77V424.82H383.04zM37.98 424.82H42.7V430.05H37.98zM71.06 424.82H75.79V430.05H71.06zM127.79 424.82H132.51V430.05H127.79zM331.04 424.82H335.77V430.05H331.04zM349.95 430.05H359.4V435.28H349.95zM52.16 435.28H56.88V440.52H52.16zM113.61 435.28H118.33V440.52H113.61zM141.97 435.28H151.42V440.52H141.97zM227.05 435.28H231.78V440.52H227.05zM288.5 435.28H297.95V440.52H288.5zM321.59 435.28H326.32V440.52H321.59zM113.61 440.52H118.33V448.75H113.61zM302.68 440.52H307.41V448.75H302.68zM312.14 440.52H316.86V448.75H312.14zM326.32 440.52H331.04V448.75H326.32zM383.04 440.52H387.77V448.75H383.04z"/>
<path fill="#23888e" d="M236.51 24.15H241.23V32.38H236.51zM245.96 24.15H250.69V32.38H245.96zM269.59 24.15H279.05V32.38H269.59zM288.5 24.15H293.23V32.38H288.5zM387.77 24.15H392.49V32.38H387.77zM89.97 32.38H99.43V37.61H89.97zM141.97 32.38H146.69V37.61H141.97zM217.6 32.38H222.32V37.61H217.6zM293.23 32.38H297.95V37.61H293.23zM401.95 32.38H406.67V37.61H401.95zM71.06 37.61H75.79V42.85H71.06zM179.78 37.61H184.51V42.85H179.78zM222.32 37.61H231.78V42.85H222.32zM250.69 37.61H255.41V42.85H250.69zM260.14 37.61H264.87V42.85H260.14zM321.59 37.61H326.32V42.85H321.59zM335.77 37.61H340.5V42.85H335.77zM397.22 37.61H406.67V42.85H397.22zM71.06 42.85H75.79V48.08H71.06zM179.78 42.85H184.51V48.08H179.78zM222.32 42.85H231.78V48.08H222.32zM250.69 42.85H255.41V48.08H250.69zM260.14 42.85H264.87V48.08H260.14zM321.59 42.85H326.32V48.08H321.59zM397.22 42.85H406.67V48.08H397.22zM71.06 48.08H80.52V53.31H71.06zM227.05 48.08H231.78V53.31H227.05zM302.68 48.08H307.41V53.31H302.68zM321.59 48.08H331.04V53.31H321.59zM392.49 48.08H397.22V53.31H392.49zM75.79 53.31H80.52V58.55H75.79zM250.69 53.31H255.41V58.55H250.69zM321.59 53.31H326.32V58.55H321.59zM401.95 53.31H406.67V58.55H401.95zM80.52 58.55H85.25V63.78H80.52zM89.97 58.55H104.15V63.78H89.97zM137.24 58.55H146.69V63.78H137.24zM184.51 58.55H189.24V63.78H184.51zM208.14 58.55H217.6V63.78H208.14zM231.78 58.55H236.51V63.78H231.78zM321.59 58.55H335.77V63.78H321.59zM340.5 58.55H345.22V63.78H340.5zM354.68 58.55H359.4V63.78H354.68zM373.58 58.55H378.31V63.78H373.58zM401.95 58.55H406.67V63.78H401.95zM146.69 63.78H151.42V69.01H146.69zM160.88 63.78H165.6V69.01H160.88zM170.33 63.78H175.06V69.01H170.33zM198.69 63.78H203.42V69.01H198.69zM274.32 63.78H279.05V69.01H274.32zM293.23 63.78H302.68V69.01H293.23zM312.14 63.78H321.59V69.01H312.14zM354.68 63.78H359.4V69.01H354.68zM368.86 63.78H373.58V69.01H368.86zM42.7 69.01H56.88V74.24H42.7zM99.43 69.01H104.15V74.24H99.43zM108.88 69.01H113.61V74.24H108.88zM118.33 69.01H123.06V74.24H118.33zM141.97 69.01H151.42V74.24H141.97zM156.15 69.01H165.6V74.24H156.15zM184.51 69.01H193.96V74.24H184.51zM264.87 69.01H269.59V74.24H264.87zM331.04 69.01H340.5V74.24H331.04zM383.04 69.01H387.77V74.24H383.04zM52.16 74.24H61.61V79.47H52.16zM141.97 74.24H151.42V79.47H141.97zM250.69 74.24H260.14V79.47H250.69zM264.87 74.24H269.59V79.47H264.87zM316.86 74.24H321.59V79.47H316.86zM61.61 79.47H66.34V84.71H61.61zM113.61 79.47H123.06V84.71H113.61zM160.88 79.47H165.6V84.71H160.88zM175.06 79.47H179.78V84.71H175.06zM212.87 79.47H217.6V84.71H212.87zM245.96 79.47H250.69V84.71H245.96zM264.87 79.47H269.59V84.71H264.87zM373.58 79.47H378.31V84.71H373.58zM236.51 84.71H241.23V89.94H236.51zM264.87 84.71H269.59V89.94H264.87zM279.05 84.71H283.77V89.94H279.05zM368.86 84.71H373.58V89.94H368.86zM37.98 89.94H42.7V95.17H37.98zM61.61 89.94H66.34V95.17H61.61zM113.61 89.94H123.06V95.17H113.61zM132.51 89.94H137.24V95.17H132.51zM170.33 89.94H175.06V95.17H170.33zM179.78 89.94H189.24V95.17H179.78zM198.69 89.94H208.14V95.17H198.69zM241.23 89.94H250.69V95.17H241.23zM264.87 89.94H269.59V95.17H264.87zM293.23 89.94H297.95V95.17H293.23zM302.68 89.94H307.41V95.17H302.68zM321.59 89.94H331.04V95.17H321.59zM349.95 89.94H354.68V95.17H349.95zM37.98 95.17H42.7V100.41H37.98zM61.61 95.17H66.34V100.41H61.61zM127.79 95.17H137.24V100.41H127.79zM170.33 95.17H175.06V100.41H170.33zM227.05 95.17H231.78V100.41H227.05zM335.77 95.17H340.5V100.41H335.77zM61.61 100.41H66.34V105.64H61.61zM71.06 100.41H75.79V105.64H71.06zM160.88 100.41H165.6V105.64H160.88zM175.06 100.41H179.78V105.64H175.06zM189.24 100.41H193.96V105.64H189.24zM222.32 100.41H227.05V105.64H222.32zM236.51 100.41H241.23V105.64H236.51zM245.96 100.41H255.41V105.64H245.96zM264.87 100.41H269.59V105.64H264.87zM316.86 100.41H321.59V105.64H316.86zM132.51 105.64H137.24V110.87H132.51zM151.42 105.64H156.15V110.87H151.42zM198.69 105.64H203.42V110.87H198.69zM208.14 105.64H212.87V110.87H208.14zM222.32 105.64H227.05V110.87H222.32zM236.51 105.64H241.23V110.87H236.51zM250.69 105.64H255.41V110.87H250.69zM260.14 105.64H269.59V110.87H260.14zM274.32 105.64H279.05V110.87H274.32zM316.86 105.64H321.59V110.87H316.86zM71.06 110.87H75.79V116.1H71.06zM193.96 110.87H198.69V116.1H193.96zM203.42 110.87H217.6V116.1H203.42zM222.32 110.87H227.05V116.1H222.32zM241.23 110.87H245.96V116.1H241.23zM250.69 110.87H255.41V116.1H250.69zM260.14 110.87H264.87V116.1H260.14zM316.86 110.87H321.59V116.1H316.86zM80.52 116.1H85.25V121.34H80.52zM89.97 116.1H94.7V121.34H89.97zM127.79 116.1H132.51V121.34H127.79zM146.69 116.1H151.42V121.34H146.69zM156.15 116.1H160.88V121.34H156.15zM184.51 116.1H189.24V121.34H184.51zM217.6 116.1H222.32V121.34H217.6zM283.77 116.1H288.5V121.34H283.77zM307.41 116.1H312.14V121.34H307.41zM331.04 116.1H340.5V121.34H331.04zM349.95 116.1H354.68V121.34H349.95zM378.31 116.1H387.77V121.34H378.31zM71.06 121.34H75.79V126.57H71.06zM80.52 121.34H85.25V126.57H80.52zM89.97 121.34H94.7V126.57H89.97zM151.42 121.34H156.15V126.57H151.42zM198.69 121.34H203.42V126.57H198.69zM250.69 121.34H255.41V126.57H250.69zM274.32 121.34H279.05V126.57H274.32zM331.04 121.34H345.22V126.57H331.04zM354.68 121.34H359.4V126.57H354.68zM151.42 126.57H156.15V131.8H151.42zM217.6 126.57H227.05V131.8H217.6zM297.95 126.57H302.68V131.8H297.95zM94.7 131.8H99.43V137.03H94.7zM113.61 131.8H118.33V137.03H113.61zM288.5 131.8H297.95V137.03H288.5zM321.59 131.8H326.32V137.03H321.59zM349.95 131.8H354.68V137.03H349.95zM401.95 131.8H406.67V137.03H401.95zM89.97 137.03H99.43V142.26H89.97zM104.15 137.03H108.88V142.26H104.15zM250.69 137.03H255.41V142.26H250.69zM61.61 142.26H66.34V147.5H61.61zM151.42 142.26H156.15V147.5H151.42zM160.88 142.26H170.33V147.5H160.88zM179.78 142.26H193.96V147.5H179.78zM231.78 142.26H236.51V147.5H231.78zM241.23 142.26H250.69V147.5H241.23zM264.87 142.26H269.59V147.5H264.87zM37.98 147.5H42.7V152.73H37.98zM61.61 147.5H66.34V152.73H61.61zM71.06 147.5H80.52V152.73H71.06zM151.42 147.5H156.15V152.73H151.42zM227.05 147.5H236.51V152.73H227.05zM288.5 147.5H307.41V152.73H288.5zM321.59 147.5H335.77V152.73H321.59zM66.34 152.73H80.52V157.96H66.34zM113.61 152.73H118.33V157.96H113.61zM231.78 152.73H236.51V157.96H231.78zM279.05 152.73H293.23V157.96H279.05zM326.32 152.73H331.04V157.96H326.32zM104.15 157.96H108.88V163.19H104.15zM118.33 157.96H127.79V163.19H118.33zM137.24 157.96H146.69V163.19H137.24zM208.14 157.96H217.6V163.19H208.14zM250.69 157.96H260.14V163.19H250.69zM279.05 157.96H288.5V163.19H279.05zM312.14 157.96H316.86V163.19H312.14zM354.68 157.96H359.4V163.19H354.68zM364.13 157.96H368.86V163.19H364.13zM383.04 157.96H387.77V163.19H383.04zM71.06 163.19H75.79V168.43H71.06zM113.61 163.19H118.33V168.43H113.61zM227.05 163.19H231.78V168.43H227.05zM250.69 163.19H255.41V168.43H250.69zM349.95 163.19H359.4V168.43H349.95zM383.04 163.19H387.77V168.43H383.04zM66.34 168.43H75.79V173.66H66.34zM80.52 168.43H85.25V173.66H80.52zM99.43 168.43H104.15V173.66H99.43zM137.24 168.43H141.97V173.66H137.24zM165.6 168.43H170.33V173.66H165.6zM222.32 168.43H227.05V173.66H222.32zM250.69 168.43H255.41V173.66H250.69zM264.87 168.43H274.32V173.66H264.87zM335.77 168.43H340.5V173.66H335.77zM364.13 168.43H368.86V173.66H364.13zM383.04 168.43H387.77V173.66H383.04zM397.22 168.43H401.95V173.66H397.22zM137.24 173.66H141.97V178.89H137.24zM160.88 173.66H165.6V178.89H160.88zM193.96 173.66H198.69V178.89H193.96zM212.87 173.66H217.6V178.89H212.87zM227.05 173.66H236.51V178.89H227.05zM250.69 173.66H255.41V178.89H250.69zM274.32 173.66H279.05V178.89H274.32zM307.41 173.66H312.14V178.89H307.41zM345.22 173.66H349.95V178.89H345.22zM368.86 173.66H373.58V178.89H368.86zM387.77 173.66H392.49V178.89H387.77zM66.34 178.89H71.06V184.12H66.34zM89.97 178.89H99.43V184.12H89.97zM250.69 178.89H255.41V184.12H250.69zM297.95 178.89H302.68V184.12H297.95zM316.86 178.89H321.59V184.12H316.86zM340.5 178.89H345.22V184.12H340.5zM354.68 178.89H359.4V184.12H354.68zM364.13 178.89H368.86V184.12H364.13zM387.77 178.89H392.49V184.12H387.77zM80.52 184.12H85.25V189.36H80.52zM99.43 184.12H104.15V189.36H99.43zM392.49 184.12H397.22V189.36H392.49zM42.7 189.36H52.16V194.59H42.7zM89.97 189.36H94.7V194.59H89.97zM137.24 189.36H141.97V194.59H137.24zM222.32 189.36H227.05V194.59H222.32zM264.87 189.36H274.32V194.59H264.87zM321.59 189.36H326.32V194.59H321.59zM383.04 189.36H387.77V194.59H383.04zM397.22 189.36H401.95V194.59H397.22zM61.61 194.59H66.34V199.82H61.61zM71.06 194.59H75.79V199.82H71.06zM89.97 194.59H94.7V199.82H89.97zM113.61 194.59H118.33V199.82H113.61zM137.24 194.59H141.97V199.82H137.24zM198.69 194.59H208.14V199.82H198.69zM227.05 194.59H231.78V199.82H227.05zM302.68 194.59H307.41V199.82H302.68zM326.32 194.59H331.04V199.82H326.32zM364.13 194.59H378.31V199.82H364.13zM383.04 194.59H392.49V199.82H383.04zM71.06 199.82H75.79V205.06H71.06zM99.43 199.82H104.15V205.06H99.43zM137.24 199.82H141.97V205.06H137.24zM222.32 199.82H227.05V205.06H222.32zM241.23 199.82H245.96V205.06H241.23zM269.59 199.82H274.32V205.06H269.59zM335.77 199.82H345.22V205.06H335.77zM383.04 199.82H387.77V205.06H383.04zM397.22 199.82H401.95V205.06H397.22zM108.88 205.06H113.61V210.29H108.88zM165.6 205.06H170.33V210.29H165.6zM203.42 205.06H208.14V210.29H203.42zM260.14 205.06H264.87V210.29H260.14zM316.86 205.06H321.59V210.29H316.86zM354.68 205.06H359.4V210.29H354.68zM387.77 205.06H392.49V210.29H387.77zM66.34 210.29H71.06V215.52H66.34zM89.97 210.29H94.7V215.52H89.97zM104.15 210.29H108.88V215.52H104.15zM118.33 210.29H123.06V215.52H118.33zM184.51 210.29H189.24V215.52H184.51zM269.59 210.29H274.32V215.52H269.59zM316.86 210.29H321.59V215.52H316.86zM349.95 210.29H354.68V215.52H349.95zM373.58 210.29H378.31V215.52H373.58zM383.04 210.29H387.77V215.52H383.04zM397.22 210.29H401.95V215.52H397.22zM89.97 215.52H94.7V220.75H89.97zM108.88 215.52H113.61V220.75H108.88zM184.51 215.52H189.24V220.75H184.51zM193.96 215.52H198.69V220.75H193.96zM245.96 215.52H250.69V220.75H245.96zM279.05 215.52H288.5V220.75H279.05zM316.86 215.52H321.59V220.75H316.86zM354.68 215.52H359.4V220.75H354.68zM61.61 220.75H66.34V225.99H61.61zM104.15 220.75H113.61V225.99H104.15zM151.42 220.75H156.15V225.99H151.42zM222.32 220.75H227.05V225.99H222.32zM269.59 220.75H274.32V225.99H269.59zM383.04 220.75H387.77V225.99H383.04zM397.22 220.75H401.95V225.99H397.22zM61.61 225.99H66.34V231.22H61.61zM80.52 225.99H85.25V231.22H80.52zM108.88 225.99H113.61V231.22H108.88zM151.42 225.99H156.15V231.22H151.42zM165.6 225.99H170.33V231.22H165.6zM335.77 225.99H340.5V231.22H335.77zM349.95 225.99H354.68V231.22H349.95zM397.22 225.99H401.95V231.22H397.22zM37.98 231.22H42.7V236.45H37.98zM113.61 231.22H118.33V236.45H113.61zM123.06 231.22H127.79V236.45H123.06zM245.96 231.22H250.69V236.45H245.96zM326.32 231.22H331.04V236.45H326.32zM392.49 231.22H397.22V236.45H392.49zM42.7 236.45H52.16V241.68H42.7zM99.43 236.45H113.61V241.68H99.43zM123.06 236.45H127.79V241.68H123.06zM160.88 236.45H165.6V241.68H160.88zM179.78 236.45H184.51V241.68H179.78zM189.24 236.45H193.96V241.68H189.24zM208.14 236.45H212.87V241.68H208.14zM227.05 236.45H231.78V241.68H227.05zM42.7 241.68H56.88V246.91H42.7zM94.7 241.68H99.43V246.91H94.7zM141.97 241.68H146.69V246.91H141.97zM156.15 241.68H160.88V246.91H156.15zM165.6 241.68H170.33V246.91H165.6zM184.51 241.68H189.24V246.91H184.51zM222.32 241.68H227.05V246.91H222.32zM241.23 241.68H250.69V246.91H241.23zM255.41 241.68H260.14V246.91H255.41zM269.59 241.68H274.32V246.91H269.59zM354.68 241.68H359.4V246.91H354.68zM383.04 241.68H392.49V246.91H383.04zM397.22 241.68H401.95V246.91H397.22zM406.67 241.68H414.4V246.91H406.67zM61.61 246.91H66.34V252.15H61.61zM137.24 246.91H151.42V252.15H137.24zM165.6 246.91H170.33V252.15H165.6zM321.59 246.91H326.32V252.15H321.59zM335.77 246.91H340.5V252.15H335.77zM30.25 252.15H37.98V257.38H30.25zM85.25 252.15H89.97V257.38H85.25zM99.43 252.15H108.88V257.38H99.43zM245.96 252.15H255.41V257.38H245.96zM316.86 252.15H321.59V257.38H316.86zM89.97 257.38H94.7V262.61H89.97zM108.88 257.38H113.61V262.61H108.88zM137.24 257.38H141.97V262.61H137.24zM189.24 257.38H193.96V262.61H189.24zM227.05 257.38H231.78V262.61H227.05zM307.41 257.38H312.14V262.61H307.41zM359.4 257.38H364.13V262.61H359.4zM30.25 262.61H37.98V267.84H30.25zM80.52 262.61H85.25V267.84H80.52zM89.97 262.61H94.7V267.84H89.97zM99.43 262.61H104.15V267.84H99.43zM137.24 262.61H141.97V267.84H137.24zM203.42 262.61H208.14V267.84H203.42zM217.6 262.61H222.32V267.84H217.6zM227.05 262.61H231.78V267.84H227.05zM236.51 262.61H241.23V267.84H236.51zM288.5 262.61H293.23V267.84H288.5zM316.86 262.61H321.59V267.84H316.86zM42.7 267.84H52.16V273.08H42.7zM56.88 267.84H61.61V273.08H56.88zM75.79 267.84H80.52V273.08H75.79zM99.43 267.84H113.61V273.08H99.43zM118.33 267.84H123.06V273.08H118.33zM132.51 267.84H137.24V273.08H132.51zM151.42 267.84H175.06V273.08H151.42zM236.51 267.84H241.23V273.08H236.51zM255.41 267.84H260.14V273.08H255.41zM364.13 267.84H368.86V273.08H364.13zM387.77 267.84H392.49V273.08H387.77zM75.79 273.08H80.52V278.31H75.79zM151.42 273.08H156.15V278.31H151.42zM227.05 273.08H231.78V278.31H227.05zM250.69 273.08H255.41V278.31H250.69zM260.14 273.08H264.87V278.31H260.14zM401.95 273.08H406.67V278.31H401.95zM42.7 278.31H52.16V283.54H42.7zM104.15 278.31H113.61V283.54H104.15zM193.96 278.31H198.69V283.54H193.96zM255.41 278.31H260.14V283.54H255.41zM264.87 278.31H274.32V283.54H264.87zM316.86 278.31H321.59V283.54H316.86zM335.77 278.31H340.5V283.54H335.77zM349.95 278.31H354.68V283.54H349.95zM383.04 278.31H387.77V283.54H383.04zM71.06 283.54H94.7V288.77H71.06zM99.43 283.54H108.88V288.77H99.43zM137.24 283.54H141.97V288.77H137.24zM160.88 283.54H165.6V288.77H160.88zM179.78 283.54H184.51V288.77H179.78zM260.14 283.54H264.87V288.77H260.14zM321.59 283.54H326.32V288.77H321.59zM30.25 288.77H37.98V294.01H30.25zM160.88 288.77H165.6V294.01H160.88zM179.78 288.77H184.51V294.01H179.78zM189.24 288.77H193.96V294.01H189.24zM198.69 288.77H203.42V294.01H198.69zM208.14 288.77H212.87V294.01H208.14zM227.05 288.77H231.78V294.01H227.05zM260.14 288.77H264.87V294.01H260.14zM326.32 288.77H331.04V294.01H326.32zM364.13 288.77H373.58V294.01H364.13zM392.49 288.77H401.95V294.01H392.49zM406.67 288.77H414.4V294.01H406.67zM30.25 294.01H37.98V299.24H30.25zM66.34 294.01H71.06V299.24H66.34zM104.15 294.01H108.88V299.24H104.15zM118.33 294.01H123.06V299.24H118.33zM165.6 294.01H170.33V299.24H165.6zM335.77 294.01H345.22V299.24H335.77zM349.95 294.01H354.68V299.24H349.95zM373.58 294.01H378.31V299.24H373.58zM383.04 294.01H387.77V299.24H383.04zM85.25 299.24H89.97V304.47H85.25zM146.69 299.24H156.15V304.47H146.69zM203.42 299.24H208.14V304.47H203.42zM331.04 299.24H335.77V304.47H331.04zM340.5 299.24H345.22V304.47H340.5zM113.61 304.47H118.33V309.7H113.61zM146.69 304.47H156.15V309.7H146.69zM203.42 304.47H208.14V309.7H203.42zM326.32 304.47H345.22V309.7H326.32zM30.25 309.7H37.98V314.94H30.25zM127.79 309.7H132.51V314.94H127.79zM141.97 309.7H151.42V314.94H141.97zM245.96 309.7H250.69V314.94H245.96zM321.59 309.7H326.32V314.94H321.59zM378.31 309.7H383.04V314.94H378.31zM406.67 309.7H414.4V314.94H406.67zM37.98 314.94H42.7V320.17H37.98zM66.34 314.94H71.06V320.17H66.34zM89.97 314.94H94.7V320.17H89.97zM127.79 314.94H132.51V320.17H127.79zM141.97 314.94H146.69V320.17H141.97zM335.77 314.94H345.22V320.17H335.77zM354.68 314.94H359.4V320.17H354.68zM383.04 314.94H387.77V320.17H383.04zM406.67 314.94H414.4V320.17H406.67zM66.34 320.17H71.06V325.4H66.34zM123.06 320.17H127.79V325.4H123.06zM141.97 320.17H146.69V325.4H141.97zM170.33 320.17H175.06V325.4H170.33zM340.5 320.17H345.22V325.4H340.5zM52.16 325.4H56.88V330.63H52.16zM89.97 325.4H94.7V330.63H89.97zM141.97 325.4H146.69V330.63H141.97zM184.51 325.4H189.24V330.63H184.51zM335.77 325.4H340.5V330.63H335.77zM383.04 325.4H387.77V330.63H383.04zM113.61 330.63H118.33V335.87H113.61zM165.6 330.63H170.33V335.87H165.6zM241.23 330.63H245.96V335.87H241.23zM326.32 330.63H331.04V335.87H326.32zM392.49 330.63H397.22V335.87H392.49zM66.34 335.87H71.06V341.1H66.34zM151.42 335.87H156.15V341.1H151.42zM364.13 335.87H368.86V341.1H364.13zM66.34 341.1H71.06V346.33H66.34zM75.79 341.1H80.52V346.33H75.79zM99.43 341.1H113.61V346.33H99.43zM170.33 341.1H175.06V346.33H170.33zM193.96 341.1H208.14V346.33H193.96zM236.51 341.1H241.23V346.33H236.51zM245.96 341.1H250.69V346.33H245.96zM260.14 341.1H264.87V346.33H260.14zM368.86 341.1H378.31V346.33H368.86zM42.7 346.33H66.34V351.56H42.7zM89.97 346.33H94.7V351.56H89.97zM127.79 346.33H132.51V351.56H127.79zM141.97 346.33H146.69V351.56H141.97zM179.78 346.33H184.51V351.56H179.78zM231.78 346.33H236.51V351.56H231.78zM264.87 346.33H269.59V351.56H264.87zM288.5 346.33H293.23V351.56H288.5zM383.04 346.33H392.49V351.56H383.04zM397.22 346.33H401.95V351.56H397.22zM406.67 346.33H414.4V351.56H406.67zM52.16 351.56H56.88V356.8H52.16zM61.61 351.56H66.34V356.8H61.61zM89.97 351.56H94.7V356.8H89.97zM141.97 351.56H151.42V356.8H141.97zM184.51 351.56H189.24V356.8H184.51zM217.6 351.56H222.32V356.8H217.6zM269.59 351.56H274.32V356.8H269.59zM283.77 351.56H288.5V356.8H283.77zM307.41 351.56H312.14V356.8H307.41zM345.22 351.56H349.95V356.8H345.22zM61.61 356.8H66.34V362.03H61.61zM71.06 356.8H75.79V362.03H71.06zM113.61 356.8H123.06V362.03H113.61zM141.97 356.8H146.69V362.03H141.97zM279.05 356.8H288.5V362.03H279.05zM345.22 356.8H349.95V362.03H345.22zM397.22 356.8H406.67V362.03H397.22zM42.7 362.03H47.43V367.26H42.7zM71.06 362.03H75.79V367.26H71.06zM94.7 362.03H99.43V367.26H94.7zM113.61 362.03H123.06V367.26H113.61zM160.88 362.03H165.6V367.26H160.88zM189.24 362.03H193.96V367.26H189.24zM212.87 362.03H217.6V367.26H212.87zM231.78 362.03H236.51V367.26H231.78zM260.14 362.03H264.87V367.26H260.14zM274.32 362.03H279.05V367.26H274.32zM283.77 362.03H288.5V367.26H283.77zM293.23 362.03H297.95V367.26H293.23zM302.68 362.03H307.41V367.26H302.68zM345.22 362.03H349.95V367.26H345.22zM392.49 362.03H414.4V367.26H392.49zM61.61 367.26H66.34V372.49H61.61zM118.33 367.26H123.06V372.49H118.33zM170.33 367.26H175.06V372.49H170.33zM189.24 367.26H193.96V372.49H189.24zM274.32 367.26H288.5V372.49H274.32zM293.23 367.26H302.68V372.49H293.23zM345.22 367.26H349.95V372.49H345.22zM383.04 367.26H387.77V372.49H383.04zM165.6 372.49H170.33V377.73H165.6zM326.32 372.49H345.22V377.73H326.32zM349.95 372.49H359.4V377.73H349.95zM387.77 372.49H392.49V377.73H387.77zM89.97 377.73H94.7V382.96H89.97zM113.61 377.73H118.33V382.96H113.61zM127.79 377.73H132.51V382.96H127.79zM156.15 377.73H160.88V382.96H156.15zM198.69 377.73H203.42V382.96H198.69zM212.87 377.73H217.6V382.96H212.87zM260.14 377.73H264.87V382.96H260.14zM274.32 377.73H279.05V382.96H274.32zM345.22 377.73H349.95V382.96H345.22zM364.13 377.73H373.58V382.96H364.13zM392.49 377.73H397.22V382.96H392.49zM61.61 382.96H71.06V388.19H61.61zM118.33 382.96H123.06V388.19H118.33zM151.42 382.96H160.88V388.19H151.42zM170.33 382.96H175.06V388.19H170.33zM193.96 382.96H198.69V388.19H193.96zM203.42 382.96H208.14V388.19H203.42zM227.05 382.96H231.78V388.19H227.05zM293.23 382.96H297.95V388.19H293.23zM345.22 382.96H349.95V388.19H345.22zM241.23 388.19H245.96V393.42H241.23zM392.49 388.19H397.22V393.42H392.49zM151.42 393.42H156.15V398.66H151.42zM160.88 393.42H165.6V398.66H160.88zM170.33 393.42H175.06V398.66H170.33zM184.51 393.42H189.24V398.66H184.51zM250.69 393.42H255.41V398.66H250.69zM269.59 393.42H274.32V398.66H269.59zM312.14 393.42H316.86V398.66H312.14zM349.95 393.42H354.68V398.66H349.95zM373.58 393.42H378.31V398.66H373.58zM383.04 393.42H387.77V398.66H383.04zM66.34 398.66H71.06V403.89H66.34zM85.25 398.66H89.97V403.89H85.25zM165.6 398.66H170.33V403.89H165.6zM184.51 398.66H189.24V403.89H184.51zM269.59 398.66H274.32V403.89H269.59zM316.86 398.66H321.59V403.89H316.86zM349.95 398.66H354.68V403.89H349.95zM383.04 398.66H387.77V403.89H383.04zM61.61 403.89H66.34V409.12H61.61zM80.52 403.89H85.25V409.12H80.52zM184.51 403.89H189.24V409.12H184.51zM198.69 403.89H203.42V409.12H198.69zM274.32 403.89H279.05V409.12H274.32zM316.86 403.89H321.59V409.12H316.86zM364.13 403.89H368.86V409.12H364.13zM113.61 409.12H118.33V414.35H113.61zM288.5 409.12H293.23V414.35H288.5zM71.06 414.35H75.79V419.59H71.06zM113.61 414.35H118.33V419.59H113.61zM151.42 414.35H165.6V419.59H151.42zM179.78 414.35H193.96V419.59H179.78zM198.69 414.35H203.42V419.59H198.69zM208.14 414.35H212.87V419.59H208.14zM227.05 414.35H231.78V419.59H227.05zM260.14 414.35H264.87V419.59H260.14zM274.32 414.35H279.05V419.59H274.32zM293.23 414.35H297.95V419.59H293.23zM302.68 414.35H307.41V419.59H302.68zM321.59 414.35H326.32V419.59H321.59zM340.5 414.35H345.22V419.59H340.5zM364.13 414.35H373.58V419.59H364.13zM397.22 414.35H401.95V419.59H397.22zM30.25 419.59H37.98V424.82H30.25zM165.6 419.59H175.06V424.82H165.6zM184.51 419.59H189.24V424.82H184.51zM193.96 419.59H198.69V424.82H193.96zM227.05 419.59H231.78V424.82H227.05zM250.69 419.59H255.41V424.82H250.69zM321.59 419.59H326.32V424.82H321.59zM345.22 419.59H349.95V424.82H345.22zM52.16 424.82H56.88V430.05H52.16zM175.06 424.82H179.78V430.05H175.06zM217.6 424.82H222.32V430.05H217.6zM269.59 424.82H274.32V430.05H269.59zM307.41 424.82H312.14V430.05H307.41zM335.77 424.82H340.5V430.05H335.77zM349.95 424.82H354.68V430.05H349.95zM359.4 424.82H364.13V430.05H359.4zM397.22 424.82H401.95V430.05H397.22zM42.7 430.05H52.16V435.28H42.7zM160.88 430.05H165.6V435.28H160.88zM179.78 430.05H184.51V435.28H179.78zM189.24 430.05H193.96V435.28H189.24zM198.69 430.05H203.42V435.28H198.69zM208.14 430.05H217.6V435.28H208.14zM227.05 430.05H231.78V435.28H227.05zM269.59 430.05H274.32V435.28H269.59zM321.59 430.05H326.32V435.28H321.59zM331.04 430.05H340.5V435.28H331.04zM383.04 430.05H387.77V435.28H383.04zM392.49 430.05H397.22V435.28H392.49zM406.67 430.05H414.4V435.28H406.67zM37.98 435.28H52.16V440.52H37.98zM56.88 435.28H66.34V440.52H56.88zM127.79 435.28H132.51V440.52H127.79zM255.41 435.28H260.14V440.52H255.41zM331.04 435.28H340.5V440.52H331.04zM227.05 440.52H231.78V448.75H227.05zM269.59 440.52H274.32V448.75H269.59zM288.5 440.52H297.95V448.75H288.5zM321.59 440.52H326.32V448.75H321.59zM335.77 440.52H340.5V448.75H335.77zM397.22 440.52H401.95V448.75H397.22z"/>
<path fill="#31688e" d="M307.41 24.15H312.14V32.38H307.41zM364.13 24.15H368.86V32.38H364.13zM42.7 32.38H52.16V37.61H42.7zM71.06 32.38H75.79V37.61H71.06zM127.79 32.38H132.51V37.61H127.79zM227.05 32.38H231.78V37.61H227.05zM397.22 32.38H401.95V37.61H397.22zM37.98 37.61H42.7V42.85H37.98zM231.78 37.61H236.51V42.85H231.78zM255.41 37.61H260.14V42.85H255.41zM37.98 42.85H42.7V48.08H37.98zM151.42 42.85H156.15V48.08H151.42zM151.42 48.08H156.15V53.31H151.42zM66.34 58.55H71.06V63.78H66.34zM61.61 63.78H66.34V69.01H61.61zM151.42 63.78H156.15V69.01H151.42zM193.96 63.78H198.69V69.01H193.96zM208.14 63.78H217.6V69.01H208.14zM373.58 63.78H378.31V69.01H373.58zM37.98 69.01H42.7V74.24H37.98zM75.79 69.01H80.52V74.24H75.79zM113.61 69.01H118.33V74.24H113.61zM127.79 69.01H132.51V74.24H127.79zM293.23 69.01H297.95V74.24H293.23zM321.59 69.01H326.32V74.24H321.59zM349.95 69.01H354.68V74.24H349.95zM71.06 74.24H75.79V79.47H71.06zM85.25 74.24H94.7V79.47H85.25zM127.79 74.24H132.51V79.47H127.79zM236.51 74.24H241.23V79.47H236.51zM241.23 79.47H245.96V84.71H241.23zM75.79 84.71H80.52V89.94H75.79zM104.15 84.71H108.88V89.94H104.15zM132.51 84.71H137.24V89.94H132.51zM193.96 84.71H198.69V89.94H193.96zM75.79 89.94H80.52V95.17H75.79zM94.7 89.94H99.43V95.17H94.7zM108.88 89.94H113.61V95.17H108.88zM236.51 89.94H241.23V95.17H236.51zM89.97 95.17H94.7V100.41H89.97zM160.88 95.17H165.6V100.41H160.88zM203.42 95.17H212.87V100.41H203.42zM250.69 95.17H255.41V100.41H250.69zM260.14 95.17H264.87V100.41H260.14zM274.32 95.17H279.05V100.41H274.32zM85.25 105.64H89.97V110.87H85.25zM160.88 105.64H165.6V110.87H160.88zM193.96 105.64H198.69V110.87H193.96zM89.97 110.87H94.7V116.1H89.97zM189.24 110.87H193.96V116.1H189.24zM71.06 116.1H75.79V121.34H71.06zM241.23 116.1H250.69V121.34H241.23zM392.49 116.1H397.22V121.34H392.49zM203.42 121.34H208.14V126.57H203.42zM359.4 126.57H368.86V131.8H359.4zM37.98 131.8H42.7V137.03H37.98zM71.06 131.8H80.52V137.03H71.06zM132.51 131.8H137.24V137.03H132.51zM302.68 131.8H307.41V137.03H302.68zM326.32 131.8H331.04V137.03H326.32zM378.31 131.8H383.04V137.03H378.31zM85.25 137.03H89.97V142.26H85.25zM127.79 137.03H132.51V142.26H127.79zM255.41 142.26H260.14V147.5H255.41zM255.41 147.5H260.14V152.73H255.41zM255.41 152.73H260.14V157.96H255.41zM47.43 157.96H56.88V163.19H47.43zM66.34 157.96H71.06V163.19H66.34zM94.7 168.43H99.43V173.66H94.7zM104.15 168.43H108.88V173.66H104.15zM170.33 168.43H175.06V173.66H170.33zM260.14 168.43H264.87V173.66H260.14zM349.95 168.43H359.4V173.66H349.95zM387.77 168.43H392.49V173.66H387.77zM170.33 173.66H175.06V178.89H170.33zM184.51 173.66H189.24V178.89H184.51zM203.42 173.66H208.14V178.89H203.42zM245.96 173.66H250.69V178.89H245.96zM160.88 178.89H170.33V184.12H160.88zM368.86 178.89H378.31V184.12H368.86zM401.95 184.12H414.4V189.36H401.95zM184.51 189.36H189.24V194.59H184.51zM260.14 189.36H264.87V194.59H260.14zM354.68 189.36H359.4V194.59H354.68zM364.13 189.36H368.86V194.59H364.13zM387.77 189.36H392.49V194.59H387.77zM165.6 194.59H170.33V199.82H165.6zM179.78 194.59H184.51V199.82H179.78zM321.59 194.59H326.32V199.82H321.59zM108.88 199.82H113.61V205.06H108.88zM203.42 199.82H208.14V205.06H203.42zM364.13 199.82H373.58V205.06H364.13zM387.77 199.82H392.49V205.06H387.77zM66.34 205.06H71.06V210.29H66.34zM85.25 205.06H89.97V210.29H85.25zM104.15 205.06H108.88V210.29H104.15zM373.58 205.06H378.31V210.29H373.58zM250.69 210.29H255.41V215.52H250.69zM94.7 215.52H99.43V220.75H94.7zM118.33 215.52H123.06V220.75H118.33zM165.6 215.52H170.33V220.75H165.6zM189.24 215.52H193.96V220.75H189.24zM274.32 215.52H279.05V220.75H274.32zM66.34 220.75H71.06V225.99H66.34zM94.7 220.75H99.43V225.99H94.7zM260.14 220.75H264.87V225.99H260.14zM354.68 220.75H359.4V225.99H354.68zM66.34 225.99H71.06V231.22H66.34zM354.68 225.99H359.4V231.22H354.68zM364.13 225.99H368.86V231.22H364.13zM387.77 225.99H392.49V231.22H387.77zM345.22 231.22H349.95V236.45H345.22zM378.31 236.45H383.04V241.68H378.31zM37.98 241.68H42.7V246.91H37.98zM293.23 241.68H297.95V246.91H293.23zM321.59 241.68H326.32V246.91H321.59zM349.95 241.68H354.68V246.91H349.95zM378.31 241.68H383.04V246.91H378.31zM392.49 241.68H397.22V246.91H392.49zM42.7 246.91H47.43V252.15H42.7zM75.79 252.15H80.52V257.38H75.79zM89.97 252.15H94.7V257.38H89.97zM80.52 257.38H85.25V262.61H80.52zM113.61 257.38H118.33V262.61H113.61zM113.61 262.61H118.33V267.84H113.61zM165.6 262.61H170.33V267.84H165.6zM307.41 262.61H312.14V267.84H307.41zM359.4 262.61H364.13V267.84H359.4zM94.7 267.84H99.43V273.08H94.7zM198.69 267.84H203.42V273.08H198.69zM260.14 267.84H264.87V273.08H260.14zM42.7 273.08H47.43V278.31H42.7zM137.24 273.08H151.42V278.31H137.24zM94.7 278.31H99.43V283.54H94.7zM160.88 278.31H165.6V283.54H160.88zM179.78 278.31H184.51V283.54H179.78zM208.14 278.31H212.87V283.54H208.14zM250.69 278.31H255.41V283.54H250.69zM364.13 278.31H373.58V283.54H364.13zM373.58 283.54H378.31V288.77H373.58zM335.77 288.77H340.5V294.01H335.77zM94.7 294.01H99.43V299.24H94.7zM203.42 294.01H208.14V299.24H203.42zM354.68 294.01H359.4V299.24H354.68zM368.86 294.01H373.58V299.24H368.86zM293.23 299.24H297.95V304.47H293.23zM302.68 309.7H307.41V314.94H302.68zM326.32 309.7H331.04V314.94H326.32zM359.4 309.7H364.13V314.94H359.4zM392.49 309.7H397.22V314.94H392.49zM71.06 314.94H75.79V320.17H71.06zM227.05 314.94H231.78V320.17H227.05zM279.05 314.94H283.77V320.17H279.05zM321.59 314.94H326.32V320.17H321.59zM392.49 314.94H397.22V320.17H392.49zM127.79 325.4H132.51V330.63H127.79zM288.5 325.4H293.23V330.63H288.5zM331.04 325.4H335.77V330.63H331.04zM378.31 325.4H383.04V330.63H378.31zM401.95 325.4H406.67V330.63H401.95zM30.25 330.63H37.98V335.87H30.25zM245.96 330.63H250.69V335.87H245.96zM71.06 346.33H75.79V351.56H71.06zM184.51 346.33H189.24V351.56H184.51zM227.05 346.33H231.78V351.56H227.05zM293.23 346.33H297.95V351.56H293.23zM392.49 346.33H397.22V351.56H392.49zM127.79 351.56H132.51V356.8H127.79zM288.5 351.56H293.23V356.8H288.5zM335.77 351.56H345.22V356.8H335.77zM354.68 351.56H359.4V356.8H354.68zM401.95 351.56H406.67V356.8H401.95zM302.68 356.8H307.41V362.03H302.68zM269.59 362.03H274.32V367.26H269.59zM326.32 362.03H331.04V367.26H326.32zM326.32 367.26H331.04V372.49H326.32zM349.95 367.26H354.68V372.49H349.95zM217.6 372.49H222.32V377.73H217.6zM71.06 377.73H75.79V382.96H71.06zM160.88 377.73H165.6V382.96H160.88zM227.05 377.73H231.78V382.96H227.05zM340.5 377.73H345.22V382.96H340.5zM383.04 377.73H392.49V382.96H383.04zM160.88 382.96H165.6V388.19H160.88zM179.78 382.96H184.51V388.19H179.78zM208.14 382.96H217.6V388.19H208.14zM274.32 382.96H279.05V388.19H274.32zM326.32 382.96H331.04V388.19H326.32zM364.13 382.96H373.58V388.19H364.13zM123.06 388.19H127.79V393.42H123.06zM245.96 388.19H250.69V393.42H245.96zM288.5 388.19H293.23V393.42H288.5zM30.25 393.42H37.98V398.66H30.25zM123.06 393.42H127.79V398.66H123.06zM179.78 393.42H184.51V398.66H179.78zM189.24 393.42H193.96V398.66H189.24zM212.87 393.42H217.6V398.66H212.87zM260.14 393.42H264.87V398.66H260.14zM354.68 393.42H359.4V398.66H354.68zM170.33 398.66H175.06V403.89H170.33zM189.24 398.66H193.96V403.89H189.24zM260.14 398.66H264.87V403.89H260.14zM274.32 398.66H279.05V403.89H274.32zM354.68 398.66H359.4V403.89H354.68zM387.77 398.66H392.49V403.89H387.77zM66.34 403.89H71.06V409.12H66.34zM170.33 403.89H175.06V409.12H170.33zM193.96 403.89H198.69V409.12H193.96zM264.87 403.89H269.59V409.12H264.87zM127.79 409.12H132.51V414.35H127.79zM222.32 409.12H231.78V414.35H222.32zM302.68 409.12H307.41V414.35H302.68zM392.49 409.12H401.95V414.35H392.49zM349.95 414.35H354.68V419.59H349.95zM160.88 419.59H165.6V424.82H160.88zM179.78 419.59H184.51V424.82H179.78zM189.24 419.59H193.96V424.82H189.24zM212.87 419.59H217.6V424.82H212.87zM349.95 419.59H354.68V424.82H349.95zM368.86 419.59H373.58V424.82H368.86zM113.61 424.82H118.33V430.05H113.61zM227.05 424.82H231.78V430.05H227.05zM288.5 424.82H297.95V430.05H288.5zM321.59 424.82H326.32V430.05H321.59zM378.31 424.82H383.04V430.05H378.31zM37.98 430.05H42.7V435.28H37.98zM378.31 430.05H383.04V435.28H378.31zM175.06 435.28H179.78V440.52H175.06zM302.68 435.28H307.41V440.52H302.68zM326.32 435.28H331.04V440.52H326.32zM406.67 435.28H414.4V440.52H406.67zM175.06 440.52H179.78V448.75H175.06zM401.95 440.52H406.67V448.75H401.95z"/>
<path fill="#453882" d="M378.31 32.38H383.04V37.61H378.31zM141.97 48.08H146.69V53.31H141.97zM108.88 100.41H113.61V105.64H108.88zM99.43 110.87H104.15V116.1H99.43zM279.05 121.34H288.5V126.57H279.05zM52.16 147.5H56.88V152.73H52.16zM146.69 147.5H151.42V152.73H146.69zM141.97 152.73H146.69V157.96H141.97zM189.24 168.43H193.96V173.66H189.24zM198.69 168.43H203.42V173.66H198.69zM189.24 178.89H193.96V184.12H189.24zM189.24 189.36H193.96V194.59H189.24zM160.88 199.82H165.6V205.06H160.88zM170.33 199.82H175.06V205.06H170.33zM179.78 199.82H184.51V205.06H179.78zM198.69 199.82H203.42V205.06H198.69zM160.88 210.29H165.6V215.52H160.88zM189.24 210.29H193.96V215.52H189.24zM208.14 210.29H217.6V215.52H208.14zM274.32 210.29H279.05V215.52H274.32zM198.69 220.75H203.42V225.99H198.69zM198.69 225.99H203.42V231.22H198.69zM307.41 231.22H312.14V236.45H307.41zM198.69 294.01H203.42V299.24H198.69zM118.33 299.24H123.06V304.47H118.33zM118.33 304.47H123.06V309.7H118.33zM326.32 325.4H331.04V330.63H326.32zM217.6 330.63H222.32V335.87H217.6zM302.68 351.56H307.41V356.8H302.68zM37.98 409.12H42.7V414.35H37.98z"/>
<path fill="#481467" d="M47.43 37.61H52.16V42.85H47.43zM42.7 42.85H47.43V48.08H42.7z"/>
<path fill="#3e4a89" d="M52.16 37.61H61.61V42.85H52.16zM141.97 37.61H146.69V42.85H141.97zM156.15 37.61H160.88V42.85H156.15zM52.16 42.85H61.61V48.08H52.16zM137.24 42.85H146.69V48.08H137.24zM156.15 42.85H160.88V48.08H156.15zM42.7 48.08H52.16V53.31H42.7zM56.88 48.08H61.61V53.31H56.88zM146.69 48.08H151.42V53.31H146.69zM156.15 48.08H160.88V53.31H156.15zM42.7 53.31H56.88V58.55H42.7zM141.97 53.31H146.69V58.55H141.97zM99.43 79.47H104.15V84.71H99.43zM80.52 100.41H85.25V105.64H80.52zM373.58 105.64H378.31V110.87H373.58zM236.51 137.03H241.23V142.26H236.51zM47.43 142.26H52.16V147.5H47.43zM141.97 142.26H146.69V147.5H141.97zM156.15 142.26H160.88V147.5H156.15zM42.7 147.5H52.16V152.73H42.7zM56.88 147.5H61.61V152.73H56.88zM137.24 147.5H141.97V152.73H137.24zM52.16 152.73H56.88V157.96H52.16zM42.7 163.19H56.88V168.43H42.7zM137.24 163.19H141.97V168.43H137.24zM179.78 168.43H184.51V173.66H179.78zM208.14 168.43H217.6V173.66H208.14zM241.23 173.66H245.96V178.89H241.23zM184.51 178.89H189.24V184.12H184.51zM193.96 178.89H198.69V184.12H193.96zM160.88 189.36H165.6V194.59H160.88zM198.69 189.36H203.42V194.59H198.69zM208.14 189.36H217.6V194.59H208.14zM170.33 194.59H175.06V199.82H170.33zM208.14 199.82H212.87V205.06H208.14zM170.33 205.06H175.06V210.29H170.33zM179.78 210.29H184.51V215.52H179.78zM203.42 210.29H208.14V215.52H203.42zM198.69 215.52H203.42V220.75H198.69zM208.14 215.52H212.87V220.75H208.14zM160.88 220.75H165.6V225.99H160.88zM179.78 220.75H184.51V225.99H179.78zM189.24 220.75H193.96V225.99H189.24zM203.42 220.75H208.14V225.99H203.42zM274.32 220.75H279.05V225.99H274.32zM160.88 225.99H165.6V231.22H160.88zM179.78 225.99H184.51V231.22H179.78zM274.32 225.99H279.05V231.22H274.32zM288.5 231.22H293.23V236.45H288.5zM359.4 231.22H364.13V236.45H359.4zM397.22 236.45H401.95V241.68H397.22zM302.68 241.68H307.41V246.91H302.68zM132.51 252.15H137.24V257.38H132.51zM165.6 257.38H170.33V262.61H165.6zM245.96 257.38H250.69V262.61H245.96zM241.23 262.61H245.96V267.84H241.23zM383.04 288.77H387.77V294.01H383.04zM208.14 294.01H217.6V299.24H208.14zM387.77 294.01H392.49V299.24H387.77zM217.6 309.7H222.32V314.94H217.6zM326.32 314.94H331.04V320.17H326.32zM227.05 325.4H231.78V330.63H227.05zM392.49 325.4H397.22V330.63H392.49zM326.32 346.33H335.77V351.56H326.32zM349.95 346.33H354.68V351.56H349.95zM293.23 351.56H297.95V356.8H293.23zM321.59 351.56H326.32V356.8H321.59zM321.59 356.8H326.32V362.03H321.59zM349.95 362.03H359.4V367.26H349.95zM354.68 367.26H359.4V372.49H354.68zM321.59 377.73H326.32V382.96H321.59zM335.77 377.73H340.5V382.96H335.77zM354.68 377.73H359.4V382.96H354.68zM335.77 382.96H345.22V388.19H335.77zM349.95 382.96H354.68V388.19H349.95zM217.6 388.19H222.32V393.42H217.6zM368.86 393.42H373.58V398.66H368.86zM364.13 398.66H368.86V403.89H364.13zM104.15 403.89H108.88V409.12H104.15zM269.59 414.35H274.32V419.59H269.59zM274.32 419.59H279.05V424.82H274.32zM302.68 424.82H307.41V430.05H302.68zM222.32 430.05H227.05V435.28H222.32z"/>
<path fill="#cde11d" d="M123.06 69.01H127.79V74.24H123.06zM71.06 126.57H75.79V131.8H71.06zM316.86 314.94H321.59V320.17H316.86zM316.86 325.4H321.59V330.63H316.86zM293.23 341.1H297.95V346.33H293.23zM302.68 341.1H307.41V346.33H302.68zM331.04 341.1H335.77V346.33H331.04zM392.49 341.1H397.22V346.33H392.49zM316.86 356.8H321.59V362.03H316.86zM316.86 424.82H321.59V430.05H316.86z"/>
<path fill="#84d44b" d="M345.22 74.24H349.95V79.47H345.22zM227.05 84.71H231.78V89.94H227.05zM123.06 89.94H127.79V95.17H123.06zM345.22 100.41H349.95V105.64H345.22zM217.6 105.64H222.32V110.87H217.6zM288.5 105.64H293.23V110.87H288.5zM307.41 105.64H312.14V110.87H307.41zM359.4 105.64H364.13V110.87H359.4zM316.86 116.1H321.59V121.34H316.86zM89.97 126.57H94.7V131.8H89.97zM401.95 210.29H406.67V215.52H401.95zM104.15 231.22H108.88V236.45H104.15zM85.25 241.68H89.97V246.91H85.25zM316.86 241.68H321.59V246.91H316.86zM373.58 241.68H378.31V246.91H373.58zM288.5 267.84H293.23V273.08H288.5zM302.68 267.84H307.41V273.08H302.68zM321.59 267.84H335.77V273.08H321.59zM392.49 267.84H397.22V273.08H392.49zM401.95 294.01H406.67V299.24H401.95zM104.15 309.7H108.88V314.94H104.15zM250.69 309.7H255.41V314.94H250.69zM250.69 325.4H255.41V330.63H250.69zM104.15 330.63H108.88V335.87H104.15zM113.61 341.1H118.33V346.33H113.61zM227.05 341.1H231.78V346.33H227.05zM250.69 346.33H255.41V351.56H250.69zM250.69 351.56H255.41V356.8H250.69zM250.69 356.8H255.41V362.03H250.69zM75.79 372.49H80.52V377.73H75.79zM99.43 372.49H104.15V377.73H99.43zM104.15 388.19H108.88V393.42H104.15zM401.95 393.42H406.67V398.66H401.95zM227.05 403.89H231.78V409.12H227.05zM250.69 424.82H255.41V430.05H250.69zM198.69 435.28H203.42V440.52H198.69zM274.32 435.28H279.05V440.52H274.32zM364.13 435.28H368.86V440.52H364.13z"/>
<path fill="#26828e" d="M94.7 79.47H99.43V84.71H94.7zM94.7 84.71H104.15V89.94H94.7zM108.88 84.71H113.61V89.94H108.88zM104.15 89.94H108.88V95.17H104.15zM80.52 95.17H89.97V100.41H80.52zM99.43 95.17H108.88V100.41H99.43zM85.25 100.41H89.97V105.64H85.25zM94.7 100.41H99.43V105.64H94.7zM89.97 105.64H99.43V110.87H89.97zM85.25 110.87H89.97V116.1H85.25z"/>
<path fill="#482374" d="M212.87 220.75H217.6V225.99H212.87zM208.14 225.99H212.87V231.22H208.14zM283.77 299.24H288.5V304.47H283.77zM279.05 304.47H283.77V309.7H279.05zM359.4 330.63H364.13V335.87H359.4zM307.41 388.19H312.14V393.42H307.41z"/>
<path fill="#f8e621" d="M321.59 341.1H331.04V346.33H321.59zM316.86 346.33H321.59V351.56H316.86zM316.86 351.56H321.59V356.8H316.86z"/>
<path fill="#a5db36" d="M335.77 341.1H340.5V346.33H335.77zM349.95 341.1H354.68V346.33H349.95zM316.86 362.03H321.59V367.26H316.86zM316.86 377.73H321.59V382.96H316.86z"/>
</g></g>
<rect x="33.25" y="27.15" width="378.15" height="418.60" fill="none" stroke="#000" stroke-width="0.55"/>
<path d="M33.25 29.77h-2.5M35.61 445.75v2.75M33.25 35.00h-2.5M40.34 445.75v2.75M33.25 40.23h-2.5M45.07 445.75v2.75M33.25 45.46h-2.5M49.79 445.75v2.75M33.25 50.70h-2.5M54.52 445.75v2.75M33.25 55.93h-2.5M59.25 445.75v2.75M33.25 61.16h-2.5M63.97 445.75v2.75M33.25 66.39h-2.5M68.70 445.75v2.75M33.25 71.63h-2.5M73.43 445.75v2.75M33.25 76.86h-2.5M78.16 445.75v2.75M33.25 82.09h-2.5M82.88 445.75v2.75M33.25 87.32h-2.5M87.61 445.75v2.75M33.25 92.56h-2.5M92.34 445.75v2.75M33.25 97.79h-2.5M97.06 445.75v2.75M33.25 103.02h-2.5M101.79 445.75v2.75M33.25 108.25h-2.5M106.52 445.75v2.75M33.25 113.49h-2.5M111.24 445.75v2.75M33.25 118.72h-2.5M115.97 445.75v2.75M33.25 123.95h-2.5M120.70 445.75v2.75M33.25 129.18h-2.5M125.42 445.75v2.75M33.25 134.42h-2.5M130.15 445.75v2.75M33.25 139.65h-2.5M134.88 445.75v2.75M33.25 144.88h-2.5M139.60 445.75v2.75M33.25 150.11h-2.5M144.33 445.75v2.75M33.25 155.35h-2.5M149.06 445.75v2.75M33.25 160.58h-2.5M153.79 445.75v2.75M33.25 165.81h-2.5M158.51 445.75v2.75M33.25 171.04h-2.5M163.24 445.75v2.75M33.25 176.28h-2.5M167.97 445.75v2.75M33.25 181.51h-2.5M172.69 445.75v2.75M33.25 186.74h-2.5M177.42 445.75v2.75M33.25 191.97h-2.5M182.15 445.75v2.75M33.25 197.21h-2.5M186.87 445.75v2.75M33.25 202.44h-2.5M191.60 445.75v2.75M33.25 207.67h-2.5M196.33 445.75v2.75M33.25 212.90h-2.5M201.05 445.75v2.75M33.25 218.14h-2.5M205.78 445.75v2.75M33.25 223.37h-2.5M210.51 445.75v2.75M33.25 228.60h-2.5M215.23 445.75v2.75M33.25 233.83h-2.5M219.96 445.75v2.75M33.25 239.07h-2.5M224.69 445.75v2.75M33.25 244.30h-2.5M229.42 445.75v2.75M33.25 249.53h-2.5M234.14 445.75v2.75M33.25 254.76h-2.5M238.87 445.75v2.75M33.25 260.00h-2.5M243.60 445.75v2.75M33.25 265.23h-2.5M248.32 445.75v2.75M33.25 270.46h-2.5M253.05 445.75v2.75M33.25 275.69h-2.5M257.78 445.75v2.75M33.25 280.93h-2.5M262.50 445.75v2.75M33.25 286.16h-2.5M267.23 445.75v2.75M33.25 291.39h-2.5M271.96 445.75v2.75M33.25 296.62h-2.5M276.68 445.75v2.75M33.25 301.86h-2.5M281.41 445.75v2.75M33.25 307.09h-2.5M286.14 445.75v2.75M33.25 312.32h-2.5M290.86 445.75v2.75M33.25 317.55h-2.5M295.59 445.75v2.75M33.25 322.79h-2.5M300.32 445.75v2.75M33.25 328.02h-2.5M305.05 445.75v2.75M33.25 333.25h-2.5M309.77 445.75v2.75M33.25 338.48h-2.5M314.50 445.75v2.75M33.25 343.72h-2.5M319.23 445.75v2.75M33.25 348.95h-2.5M323.95 445.75v2.75M33.25 354.18h-2.5M328.68 445.75v2.75M33.25 359.41h-2.5M333.41 445.75v2.75M33.25 364.65h-2.5M338.13 445.75v2.75M33.25 369.88h-2.5M342.86 445.75v2.75M33.25 375.11h-2.5M347.59 445.75v2.75M33.25 380.34h-2.5M352.31 445.75v2.75M33.25 385.58h-2.5M357.04 445.75v2.75M33.25 390.81h-2.5M361.77 445.75v2.75M33.25 396.04h-2.5M366.49 445.75v2.75M33.25 401.27h-2.5M371.22 445.75v2.75M33.25 406.51h-2.5M375.95 445.75v2.75M33.25 411.74h-2.5M380.68 445.75v2.75M33.25 416.97h-2.5M385.40 445.75v2.75M33.25 422.20h-2.5M390.13 445.75v2.75M33.25 427.44h-2.5M394.86 445.75v2.75M33.25 432.67h-2.5M399.58 445.75v2.75M33.25 437.90h-2.5M404.31 445.75v2.75M33.25 443.13h-2.5M409.04 445.75v2.75" stroke="#000" stroke-width="0.9" fill="none"/>
<g class="t s" text-anchor="end">
<text transform="translate(28.3 32.34) scale(1 1.106)">F1</text><text transform="translate(28.3 37.57) scale(1 1.106)">F2</text><text transform="translate(28.3 42.80) scale(1 1.106)">F3</text><text transform="translate(28.3 48.03) scale(1 1.106)">F4</text><text transform="translate(28.3 53.27) scale(1 1.106)">F5</text><text transform="translate(28.3 58.50) scale(1 1.106)">F6</text><text transform="translate(28.3 63.73) scale(1 1.106)">F7</text><text transform="translate(28.3 68.96) scale(1 1.106)">F8</text><text transform="translate(28.3 74.20) scale(1 1.106)">F9</text><text transform="translate(28.3 79.43) scale(1 1.106)">F10</text><text transform="translate(28.3 84.66) scale(1 1.106)">F11</text><text transform="translate(28.3 89.89) scale(1 1.106)">F12</text><text transform="translate(28.3 95.13) scale(1 1.106)">F13</text><text transform="translate(28.3 100.36) scale(1 1.106)">F14</text><text transform="translate(28.3 105.59) scale(1 1.106)">F15</text><text transform="translate(28.3 110.82) scale(1 1.106)">F16</text><text transform="translate(28.3 116.06) scale(1 1.106)">F17</text><text transform="translate(28.3 121.29) scale(1 1.106)">F18</text><text transform="translate(28.3 126.52) scale(1 1.106)">F19</text><text transform="translate(28.3 131.75) scale(1 1.106)">F20</text><text transform="translate(28.3 136.99) scale(1 1.106)">F21</text><text transform="translate(28.3 142.22) scale(1 1.106)">F22</text><text transform="translate(28.3 147.45) scale(1 1.106)">F23</text><text transform="translate(28.3 152.68) scale(1 1.106)">F24</text><text transform="translate(28.3 157.92) scale(1 1.106)">F25</text><text transform="translate(28.3 163.15) scale(1 1.106)">F26</text><text transform="translate(28.3 168.38) scale(1 1.106)">F27</text><text transform="translate(28.3 173.61) scale(1 1.106)">F28</text><text transform="translate(28.3 178.85) scale(1 1.106)">F29</text><text transform="translate(28.3 184.08) scale(1 1.106)">F30</text><text transform="translate(28.3 189.31) scale(1 1.106)">F31</text><text transform="translate(28.3 194.54) scale(1 1.106)">F32</text><text transform="translate(28.3 199.78) scale(1 1.106)">F33</text><text transform="translate(28.3 205.01) scale(1 1.106)">F34</text><text transform="translate(28.3 210.24) scale(1 1.106)">F35</text><text transform="translate(28.3 215.47) scale(1 1.106)">F36</text><text transform="translate(28.3 220.71) scale(1 1.106)">F37</text><text transform="translate(28.3 225.94) scale(1 1.106)">F38</text><text transform="translate(28.3 231.17) scale(1 1.106)">F39</text><text transform="translate(28.3 236.40) scale(1 1.106)">F40</text><text transform="translate(28.3 241.64) scale(1 1.106)">F41</text><text transform="translate(28.3 246.87) scale(1 1.106)">F42</text><text transform="translate(28.3 252.10) scale(1 1.106)">F43</text><text transform="translate(28.3 257.33) scale(1 1.106)">F44</text><text transform="translate(28.3 262.57) scale(1 1.106)">F45</text><text transform="translate(28.3 267.80) scale(1 1.106)">F46</text><text transform="translate(28.3 273.03) scale(1 1.106)">F47</text><text transform="translate(28.3 278.26) scale(1 1.106)">F48</text><text transform="translate(28.3 283.50) scale(1 1.106)">F49</text><text transform="translate(28.3 288.73) scale(1 1.106)">F50</text><text transform="translate(28.3 293.96) scale(1 1.106)">F51</text><text transform="translate(28.3 299.19) scale(1 1.106)">F52</text><text transform="translate(28.3 304.43) scale(1 1.106)">F53</text><text transform="translate(28.3 309.66) scale(1 1.106)">F54</text><text transform="translate(28.3 314.89) scale(1 1.106)">F55</text><text transform="translate(28.3 320.12) scale(1 1.106)">F56</text><text transform="translate(28.3 325.36) scale(1 1.106)">F57</text><text transform="translate(28.3 330.59) scale(1 1.106)">F58</text><text transform="translate(28.3 335.82) scale(1 1.106)">F59</text><text transform="translate(28.3 341.05) scale(1 1.106)">F60</text><text transform="translate(28.3 346.29) scale(1 1.106)">F61</text><text transform="translate(28.3 351.52) scale(1 1.106)">F62</text><text transform="translate(28.3 356.75) scale(1 1.106)">F63</text><text transform="translate(28.3 361.98) scale(1 1.106)">F64</text><text transform="translate(28.3 367.22) scale(1 1.106)">F65</text><text transform="translate(28.3 372.45) scale(1 1.106)">F66</text><text transform="translate(28.3 377.68) scale(1 1.106)">F67</text><text transform="translate(28.3 382.91) scale(1 1.106)">F68</text><text transform="translate(28.3 388.15) scale(1 1.106)">F69</text><text transform="translate(28.3 393.38) scale(1 1.106)">F70</text><text transform="translate(28.3 398.61) scale(1 1.106)">F71</text><text transform="translate(28.3 403.84) scale(1 1.106)">F72</text><text transform="translate(28.3 409.08) scale(1 1.106)">F73</text><text transform="translate(28.3 414.31) scale(1 1.106)">F74</text><text transform="translate(28.3 419.54) scale(1 1.106)">F75</text><text transform="translate(28.3 424.77) scale(1 1.106)">F76</text><text transform="translate(28.3 430.01) scale(1 1.106)">F77</text><text transform="translate(28.3 435.24) scale(1 1.106)">F78</text><text transform="translate(28.3 440.47) scale(1 1.106)">F79</text><text transform="translate(28.3 445.70) scale(1 1.106)">F80</text>
</g>
<g class="t s" text-anchor="end">
<text transform="translate(38.21 451.1) scale(1 1.106) rotate(-90)">F1</text><text transform="translate(42.94 451.1) scale(1 1.106) rotate(-90)">F2</text><text transform="translate(47.67 451.1) scale(1 1.106) rotate(-90)">F3</text><text transform="translate(52.39 451.1) scale(1 1.106) rotate(-90)">F4</text><text transform="translate(57.12 451.1) scale(1 1.106) rotate(-90)">F5</text><text transform="translate(61.85 451.1) scale(1 1.106) rotate(-90)">F6</text><text transform="translate(66.57 451.1) scale(1 1.106) rotate(-90)">F7</text><text transform="translate(71.30 451.1) scale(1 1.106) rotate(-90)">F8</text><text transform="translate(76.03 451.1) scale(1 1.106) rotate(-90)">F9</text><text transform="translate(80.76 451.1) scale(1 1.106) rotate(-90)">F10</text><text transform="translate(85.48 451.1) scale(1 1.106) rotate(-90)">F11</text><text transform="translate(90.21 451.1) scale(1 1.106) rotate(-90)">F12</text><text transform="translate(94.94 451.1) scale(1 1.106) rotate(-90)">F13</text><text transform="translate(99.66 451.1) scale(1 1.106) rotate(-90)">F14</text><text transform="translate(104.39 451.1) scale(1 1.106) rotate(-90)">F15</text><text transform="translate(109.12 451.1) scale(1 1.106) rotate(-90)">F16</text><text transform="translate(113.84 451.1) scale(1 1.106) rotate(-90)">F17</text><text transform="translate(118.57 451.1) scale(1 1.106) rotate(-90)">F18</text><text transform="translate(123.30 451.1) scale(1 1.106) rotate(-90)">F19</text><text transform="translate(128.02 451.1) scale(1 1.106) rotate(-90)">F20</text><text transform="translate(132.75 451.1) scale(1 1.106) rotate(-90)">F21</text><text transform="translate(137.48 451.1) scale(1 1.106) rotate(-90)">F22</text><text transform="translate(142.20 451.1) scale(1 1.106) rotate(-90)">F23</text><text transform="translate(146.93 451.1) scale(1 1.106) rotate(-90)">F24</text><text transform="translate(151.66 451.1) scale(1 1.106) rotate(-90)">F25</text><text transform="translate(156.39 451.1) scale(1 1.106) rotate(-90)">F26</text><text transform="translate(161.11 451.1) scale(1 1.106) rotate(-90)">F27</text><text transform="translate(165.84 451.1) scale(1 1.106) rotate(-90)">F28</text><text transform="translate(170.57 451.1) scale(1 1.106) rotate(-90)">F29</text><text transform="translate(175.29 451.1) scale(1 1.106) rotate(-90)">F30</text><text transform="translate(180.02 451.1) scale(1 1.106) rotate(-90)">F31</text><text transform="translate(184.75 451.1) scale(1 1.106) rotate(-90)">F32</text><text transform="translate(189.47 451.1) scale(1 1.106) rotate(-90)">F33</text><text transform="translate(194.20 451.1) scale(1 1.106) rotate(-90)">F34</text><text transform="translate(198.93 451.1) scale(1 1.106) rotate(-90)">F35</text><text transform="translate(203.65 451.1) scale(1 1.106) rotate(-90)">F36</text><text transform="translate(208.38 451.1) scale(1 1.106) rotate(-90)">F37</text><text transform="translate(213.11 451.1) scale(1 1.106) rotate(-90)">F38</text><text transform="translate(217.83 451.1) scale(1 1.106) rotate(-90)">F39</text><text transform="translate(222.56 451.1) scale(1 1.106) rotate(-90)">F40</text><text transform="translate(227.29 451.1) scale(1 1.106) rotate(-90)">F41</text><text transform="translate(232.02 451.1) scale(1 1.106) rotate(-90)">F42</text><text transform="translate(236.74 451.1) scale(1 1.106) rotate(-90)">F43</text><text transform="translate(241.47 451.1) scale(1 1.106) rotate(-90)">F44</text><text transform="translate(246.20 451.1) scale(1 1.106) rotate(-90)">F45</text><text transform="translate(250.92 451.1) scale(1 1.106) rotate(-90)">F46</text><text transform="translate(255.65 451.1) scale(1 1.106) rotate(-90)">F47</text><text transform="translate(260.38 451.1) scale(1 1.106) rotate(-90)">F48</text><text transform="translate(265.10 451.1) scale(1 1.106) rotate(-90)">F49</text><text transform="translate(269.83 451.1) scale(1 1.106) rotate(-90)">F50</text><text transform="translate(274.56 451.1) scale(1 1.106) rotate(-90)">F51</text><text transform="translate(279.28 451.1) scale(1 1.106) rotate(-90)">F52</text><text transform="translate(284.01 451.1) scale(1 1.106) rotate(-90)">F53</text><text transform="translate(288.74 451.1) scale(1 1.106) rotate(-90)">F54</text><text transform="translate(293.46 451.1) scale(1 1.106) rotate(-90)">F55</text><text transform="translate(298.19 451.1) scale(1 1.106) rotate(-90)">F56</text><text transform="translate(302.92 451.1) scale(1 1.106) rotate(-90)">F57</text><text transform="translate(307.65 451.1) scale(1 1.106) rotate(-90)">F58</text><text transform="translate(312.37 451.1) scale(1 1.106) rotate(-90)">F59</text><text transform="translate(317.10 451.1) scale(1 1.106) rotate(-90)">F60</text><text transform="translate(321.83 451.1) scale(1 1.106) rotate(-90)">F61</text><text transform="translate(326.55 451.1) scale(1 1.106) rotate(-90)">F62</text><text transform="translate(331.28 451.1) scale(1 1.106) rotate(-90)">F63</text><text transform="translate(336.01 451.1) scale(1 1.106) rotate(-90)">F64</text><text transform="translate(340.73 451.1) scale(1 1.106) rotate(-90)">F65</text><text transform="translate(345.46 451.1) scale(1 1.106) rotate(-90)">F66</text><text transform="translate(350.19 451.1) scale(1 1.106) rotate(-90)">F67</text><text transform="translate(354.91 451.1) scale(1 1.106) rotate(-90)">F68</text><text transform="translate(359.64 451.1) scale(1 1.106) rotate(-90)">F69</text><text transform="translate(364.37 451.1) scale(1 1.106) rotate(-90)">F70</text><text transform="translate(369.09 451.1) scale(1 1.106) rotate(-90)">F71</text><text transform="translate(373.82 451.1) scale(1 1.106) rotate(-90)">F72</text><text transform="translate(378.55 451.1) scale(1 1.106) rotate(-90)">F73</text><text transform="translate(383.28 451.1) scale(1 1.106) rotate(-90)">F74</text><text transform="translate(388.00 451.1) scale(1 1.106) rotate(-90)">F75</text><text transform="translate(392.73 451.1) scale(1 1.106) rotate(-90)">F76</text><text transform="translate(397.46 451.1) scale(1 1.106) rotate(-90)">F77</text><text transform="translate(402.18 451.1) scale(1 1.106) rotate(-90)">F78</text><text transform="translate(406.91 451.1) scale(1 1.106) rotate(-90)">F79</text><text transform="translate(411.64 451.1) scale(1 1.106) rotate(-90)">F80</text>
</g>
<defs><linearGradient id="cb" x1="0" y1="0" x2="0" y2="1"><stop offset="0.0000" stop-color="#fde725"/><stop offset="0.0156" stop-color="#f6e620"/><stop offset="0.0312" stop-color="#ece51b"/><stop offset="0.0469" stop-color="#e2e418"/><stop offset="0.0625" stop-color="#d8e219"/><stop offset="0.0781" stop-color="#cde11d"/><stop offset="0.0938" stop-color="#c2df23"/><stop offset="0.1094" stop-color="#b8de29"/><stop offset="0.1250" stop-color="#addc30"/><stop offset="0.1406" stop-color="#a2da37"/><stop offset="0.1562" stop-color="#98d83e"/><stop offset="0.1719" stop-color="#8ed645"/><stop offset="0.1875" stop-color="#84d44b"/><stop offset="0.2031" stop-color="#7ad151"/><stop offset="0.2188" stop-color="#70cf57"/><stop offset="0.2344" stop-color="#67cc5c"/><stop offset="0.2500" stop-color="#5ec962"/><stop offset="0.2656" stop-color="#56c667"/><stop offset="0.2812" stop-color="#4ec36b"/><stop offset="0.2969" stop-color="#46c06f"/><stop offset="0.3125" stop-color="#3fbc73"/><stop offset="0.3281" stop-color="#38b977"/><stop offset="0.3438" stop-color="#32b67a"/><stop offset="0.3594" stop-color="#2db27d"/><stop offset="0.3750" stop-color="#28ae80"/><stop offset="0.3906" stop-color="#25ab82"/><stop offset="0.4062" stop-color="#22a785"/><stop offset="0.4219" stop-color="#20a386"/><stop offset="0.4375" stop-color="#1fa088"/><stop offset="0.4531" stop-color="#1e9c89"/><stop offset="0.4688" stop-color="#1f988b"/><stop offset="0.4844" stop-color="#1f948c"/><stop offset="0.5000" stop-color="#21918c"/><stop offset="0.5156" stop-color="#228d8d"/><stop offset="0.5312" stop-color="#23898e"/><stop offset="0.5469" stop-color="#25858e"/><stop offset="0.5625" stop-color="#26828e"/><stop offset="0.5781" stop-color="#277e8e"/><stop offset="0.5938" stop-color="#297a8e"/><stop offset="0.6094" stop-color="#2a768e"/><stop offset="0.6250" stop-color="#2c728e"/><stop offset="0.6406" stop-color="#2e6f8e"/><stop offset="0.6562" stop-color="#2f6b8e"/><stop offset="0.6719" stop-color="#31678e"/><stop offset="0.6875" stop-color="#33638d"/><stop offset="0.7031" stop-color="#355f8d"/><stop offset="0.7188" stop-color="#375b8d"/><stop offset="0.7344" stop-color="#39568c"/><stop offset="0.7500" stop-color="#3b528b"/><stop offset="0.7656" stop-color="#3d4e8a"/><stop offset="0.7812" stop-color="#3e4989"/><stop offset="0.7969" stop-color="#404588"/><stop offset="0.8125" stop-color="#424086"/><stop offset="0.8281" stop-color="#443b84"/><stop offset="0.8438" stop-color="#453781"/><stop offset="0.8594" stop-color="#46327e"/><stop offset="0.8750" stop-color="#472d7b"/><stop offset="0.8906" stop-color="#482878"/><stop offset="0.9062" stop-color="#482374"/><stop offset="0.9219" stop-color="#481d6f"/><stop offset="0.9375" stop-color="#48186a"/><stop offset="0.9531" stop-color="#471365"/><stop offset="0.9688" stop-color="#470d60"/><stop offset="0.9844" stop-color="#46075a"/><stop offset="1.0000" stop-color="#440154"/></linearGradient></defs>
<rect x="435.50" y="27.15" width="20.30" height="418.60" fill="url(#cb)" stroke="#000" stroke-width="0.55"/>
<g class="t">
<text transform="translate(460.8 448.60) scale(1 1.106)">0</text><text transform="translate(460.8 398.00) scale(1 1.106)">20</text><text transform="translate(460.8 347.40) scale(1 1.106)">40</text><text transform="translate(460.8 296.80) scale(1 1.106)">60</text><text transform="translate(460.8 246.19) scale(1 1.106)">80</text><text transform="translate(460.8 195.59) scale(1 1.106)">100</text><text transform="translate(460.8 144.99) scale(1 1.106)">120</text><text transform="translate(460.8 94.39) scale(1 1.106)">140</text><text transform="translate(460.8 43.79) scale(1 1.106)">160</text>
</g>
<path d="M455.80 445.75h2.5M455.80 395.15h2.5M455.80 344.55h2.5M455.80 293.95h2.5M455.80 243.34h2.5M455.80 192.74h2.5M455.80 142.14h2.5M455.80 91.54h2.5M455.80 40.94h2.5" stroke="#000" stroke-width="0.9" fill="none"/>
<text class="t" text-anchor="middle" transform="translate(483.2 236.4) scale(1 1.0) rotate(-90)">Angle (deg)</text>
</svg>
</body></html>
